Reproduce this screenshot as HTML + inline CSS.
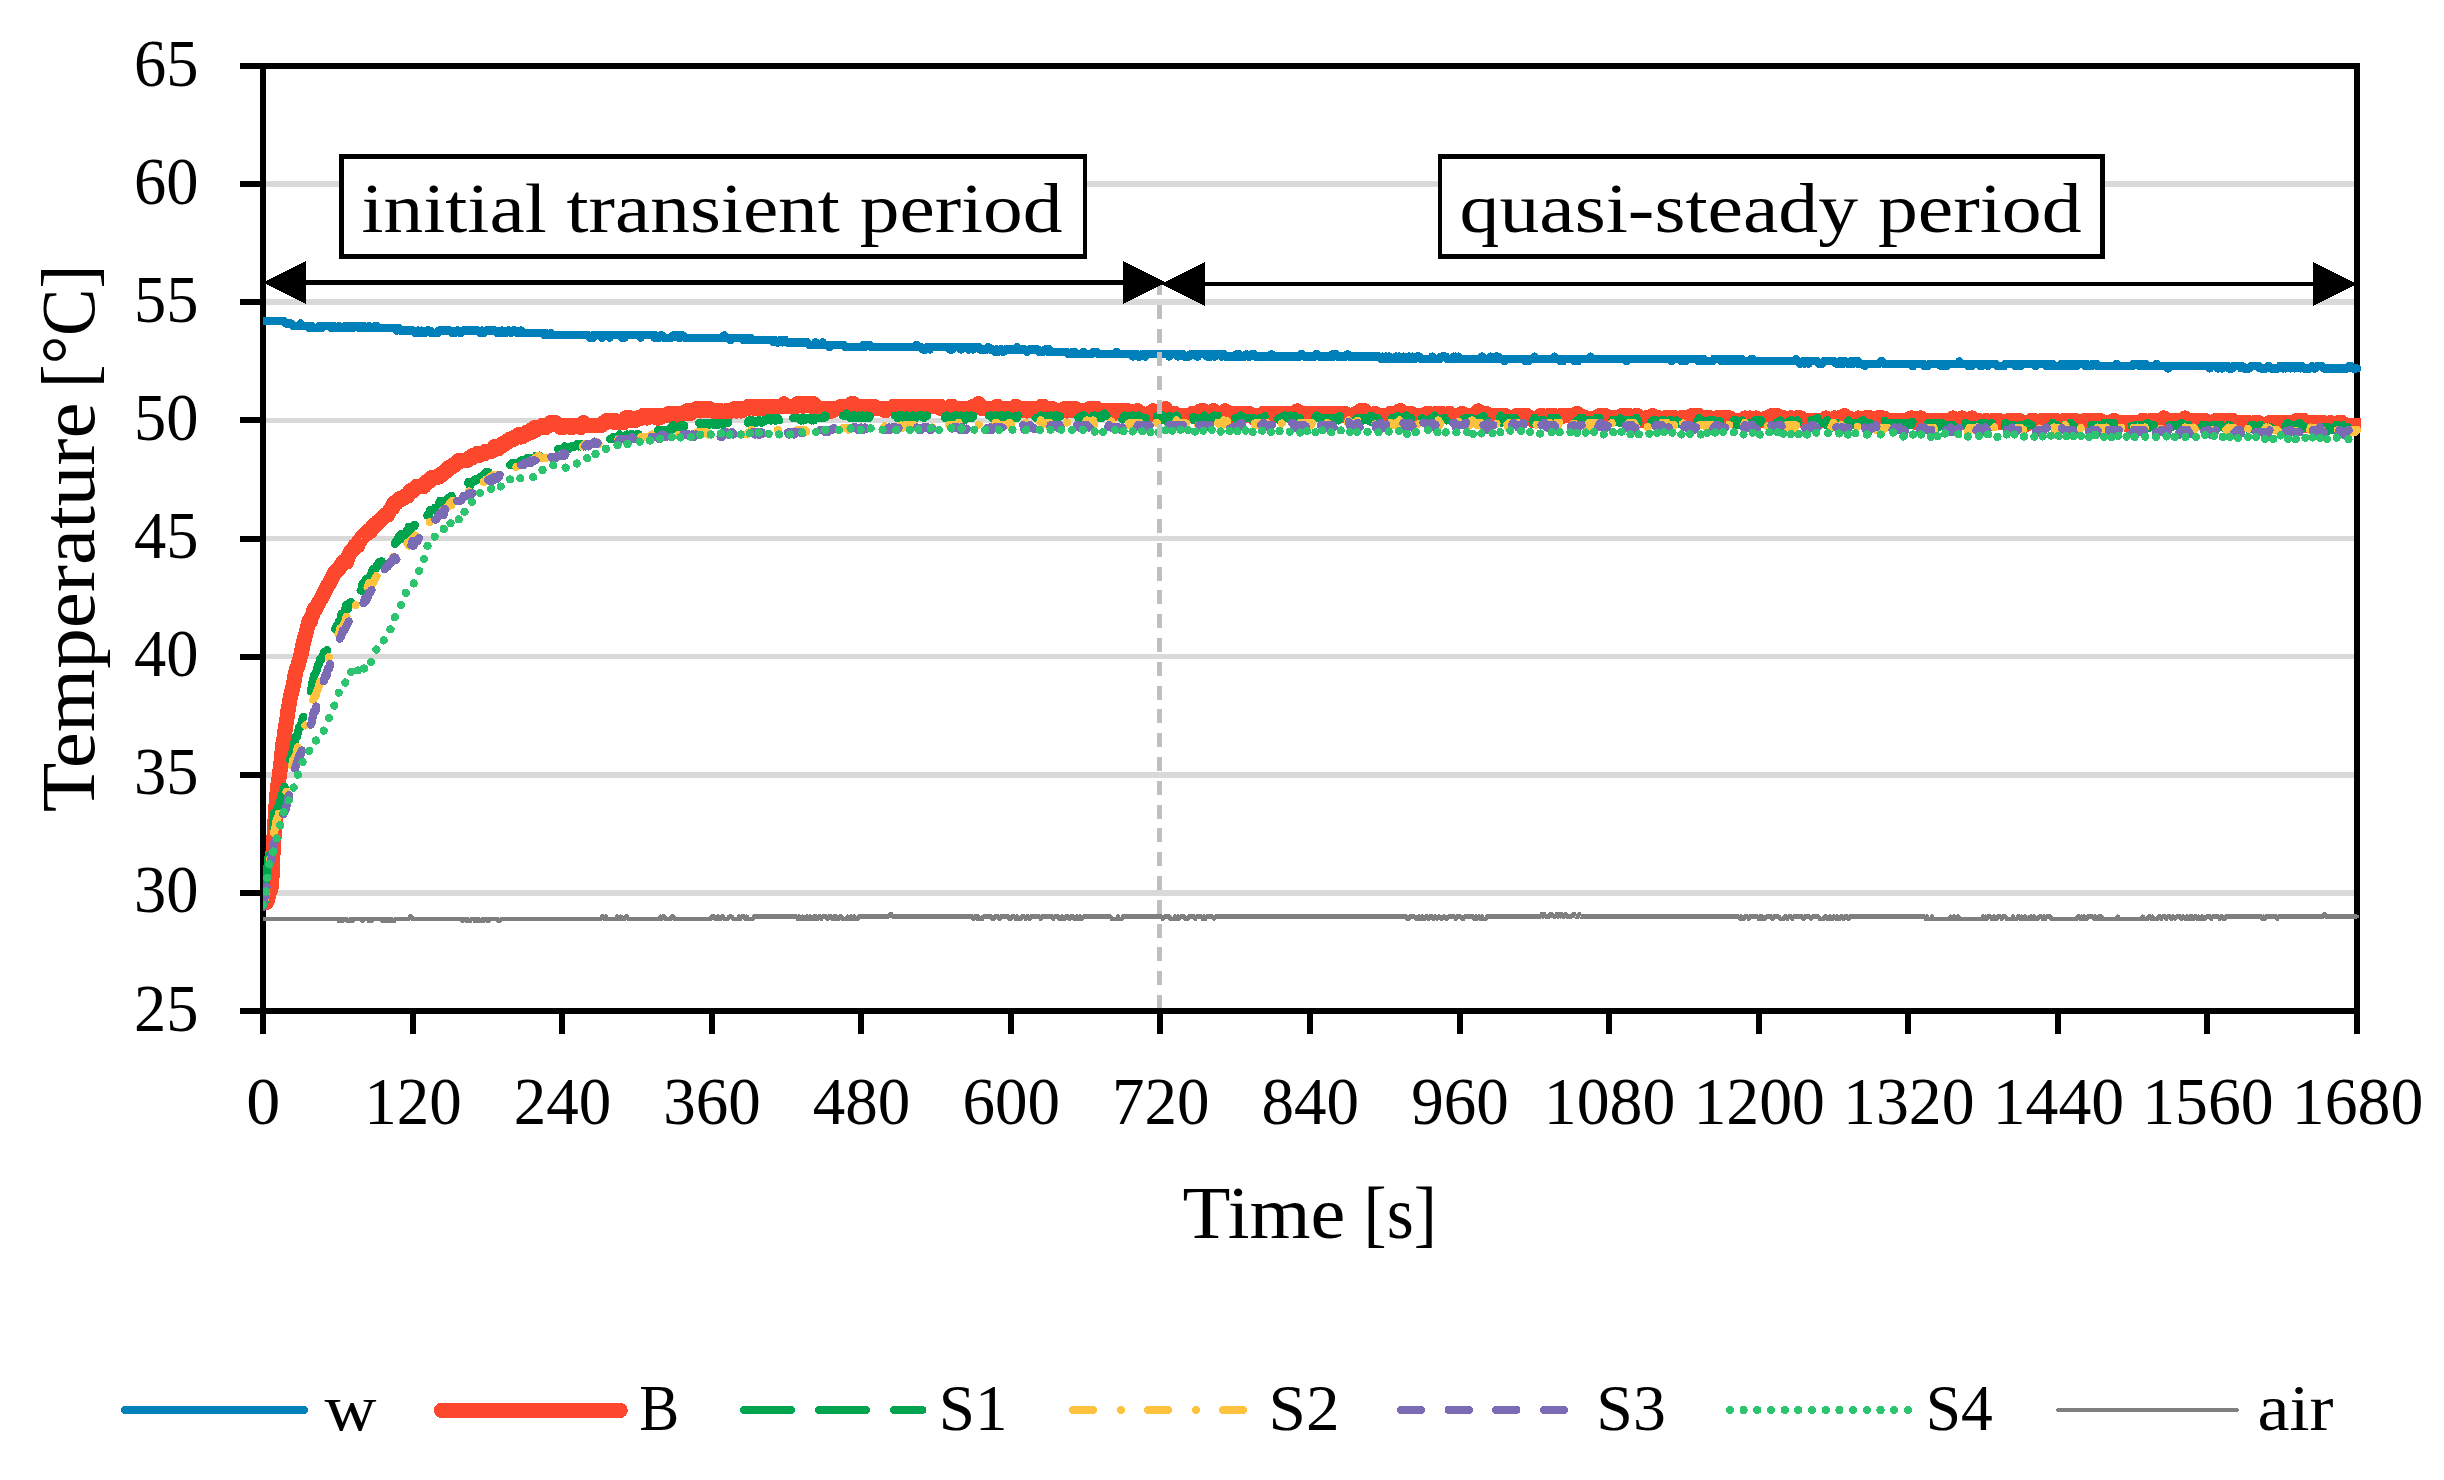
<!DOCTYPE html>
<html lang="en">
<head>
<meta charset="utf-8">
<title>Temperature vs time</title>
<style>html,body{margin:0;padding:0;background:#fff}body{width:2444px;height:1480px}svg{display:block}</style>
</head>
<body>
<svg width="2444" height="1480" viewBox="0 0 2444 1480" font-family="'Liberation Serif', 'DejaVu Serif', serif" fill="#000" shape-rendering="crispEdges">
<rect width="2444" height="1480" fill="#fff"/>
<g stroke="#d9d9d9" stroke-width="5.6">
<line x1="263.0" y1="892.88" x2="2357.0" y2="892.88"/>
<line x1="263.0" y1="774.75" x2="2357.0" y2="774.75"/>
<line x1="263.0" y1="656.62" x2="2357.0" y2="656.62"/>
<line x1="263.0" y1="538.50" x2="2357.0" y2="538.50"/>
<line x1="263.0" y1="420.38" x2="2357.0" y2="420.38"/>
<line x1="263.0" y1="302.25" x2="2357.0" y2="302.25"/>
<line x1="263.0" y1="184.12" x2="2357.0" y2="184.12"/>
</g>
<g stroke="#000" stroke-width="6" fill="none">
<rect x="263.0" y="66.0" width="2094.0" height="945.0"/>
<line x1="240" y1="1011.00" x2="263.0" y2="1011.00"/>
<line x1="240" y1="892.88" x2="263.0" y2="892.88"/>
<line x1="240" y1="774.75" x2="263.0" y2="774.75"/>
<line x1="240" y1="656.62" x2="263.0" y2="656.62"/>
<line x1="240" y1="538.50" x2="263.0" y2="538.50"/>
<line x1="240" y1="420.38" x2="263.0" y2="420.38"/>
<line x1="240" y1="302.25" x2="263.0" y2="302.25"/>
<line x1="240" y1="184.12" x2="263.0" y2="184.12"/>
<line x1="240" y1="66.00" x2="263.0" y2="66.00"/>
<line x1="263.00" y1="1011.0" x2="263.00" y2="1034"/>
<line x1="412.57" y1="1011.0" x2="412.57" y2="1034"/>
<line x1="562.14" y1="1011.0" x2="562.14" y2="1034"/>
<line x1="711.71" y1="1011.0" x2="711.71" y2="1034"/>
<line x1="861.29" y1="1011.0" x2="861.29" y2="1034"/>
<line x1="1010.86" y1="1011.0" x2="1010.86" y2="1034"/>
<line x1="1160.43" y1="1011.0" x2="1160.43" y2="1034"/>
<line x1="1310.00" y1="1011.0" x2="1310.00" y2="1034"/>
<line x1="1459.57" y1="1011.0" x2="1459.57" y2="1034"/>
<line x1="1609.14" y1="1011.0" x2="1609.14" y2="1034"/>
<line x1="1758.71" y1="1011.0" x2="1758.71" y2="1034"/>
<line x1="1908.29" y1="1011.0" x2="1908.29" y2="1034"/>
<line x1="2057.86" y1="1011.0" x2="2057.86" y2="1034"/>
<line x1="2207.43" y1="1011.0" x2="2207.43" y2="1034"/>
<line x1="2357.00" y1="1011.0" x2="2357.00" y2="1034"/>
</g>
<clipPath id="pc"><rect x="263" y="60" width="2098" height="960"/></clipPath>
<g fill="none" stroke-linejoin="round" stroke-linecap="round" clip-path="url(#pc)">
<path stroke="#0080bb" stroke-width="8.3" d="M263.0 321.1L264.2 321.1L265.5 321.1L266.7 321.1L268.0 321.1L269.2 321.1L270.5 321.1L271.7 321.1L273.0 321.1L274.2 321.1L275.5 321.1L276.7 321.1L278.0 321.1L279.2 321.1L280.4 321.1L281.7 321.1L282.9 321.1L284.2 321.1L285.4 323.5L286.7 323.5L287.9 323.5L289.2 323.5L290.4 323.5L291.7 323.5L292.9 325.9L294.2 325.9L295.4 325.9L296.7 325.9L297.9 325.9L299.1 325.9L300.4 323.5L301.6 325.9L302.9 325.9L304.1 325.9L305.4 325.9L306.6 325.9L307.9 325.9L309.1 328.2L310.4 325.9L311.6 325.9L312.9 328.2L314.1 328.2L315.4 328.2L316.6 328.2L317.8 328.2L319.1 325.9L320.3 325.9L321.6 328.2L322.8 325.9L324.1 325.9L325.3 325.9L326.6 325.9L327.8 325.9L329.1 325.9L330.3 325.9L331.6 328.2L332.8 325.9L334.0 325.9L335.3 328.2L336.5 328.2L337.8 328.2L339.0 325.9L340.3 328.2L341.5 328.2L342.8 328.2L344.0 328.2L345.3 325.9L346.5 325.9L347.8 328.2L349.0 328.2L350.2 325.9L351.5 325.9L352.7 328.2L354.0 325.9L355.2 325.9L356.5 325.9L357.7 325.9L359.0 328.2L360.2 328.2L361.5 328.2L362.7 325.9L364.0 325.9L365.2 328.2L366.5 328.2L367.7 328.2L368.9 325.9L370.2 328.2L371.4 328.2L372.7 328.2L373.9 328.2L375.2 325.9L376.4 325.9L377.7 328.2L378.9 328.2L380.2 328.2L381.4 328.2L382.7 328.2L383.9 328.2L385.1 328.2L386.4 328.2L387.6 328.2L388.9 328.2L390.1 328.2L391.4 328.2L392.6 328.2L393.9 328.2L395.1 328.2L396.4 330.6L397.6 328.2L398.9 328.2L400.1 330.6L401.4 330.6L402.6 330.6L403.8 330.6L405.1 330.6L406.3 330.6L407.6 330.6L408.8 330.6L410.1 330.6L411.3 330.6L412.6 330.6L413.8 330.6L415.1 333.0L416.3 333.0L417.6 330.6L418.8 330.6L420.1 333.0L421.3 330.6L422.5 333.0L423.8 333.0L425.0 333.0L426.3 330.6L427.5 330.6L428.8 330.6L430.0 330.6L431.3 333.0L432.5 333.0L433.8 333.0L435.0 333.0L436.3 333.0L437.5 333.0L438.7 330.6L440.0 330.6L441.2 330.6L442.5 330.6L443.7 330.6L445.0 330.6L446.2 330.6L447.5 330.6L448.7 330.6L450.0 330.6L451.2 330.6L452.5 333.0L453.7 333.0L454.9 333.0L456.2 330.6L457.4 330.6L458.7 330.6L459.9 333.0L461.2 333.0L462.4 330.6L463.7 330.6L464.9 330.6L466.2 330.6L467.4 330.6L468.7 330.6L469.9 330.6L471.2 330.6L472.4 330.6L473.6 330.6L474.9 330.6L476.1 330.6L477.4 330.6L478.6 330.6L479.9 333.0L481.1 330.6L482.4 330.6L483.6 333.0L484.9 330.6L486.1 330.6L487.4 330.6L488.6 330.6L489.9 330.6L491.1 330.6L492.3 330.6L493.6 330.6L494.8 330.6L496.1 330.6L497.3 333.0L498.6 333.0L499.8 333.0L501.1 330.6L502.3 330.6L503.6 333.0L504.8 333.0L506.1 333.0L507.3 330.6L508.5 330.6L509.8 330.6L511.0 333.0L512.3 330.6L513.5 330.6L514.8 330.6L516.0 330.6L517.3 333.0L518.5 333.0L519.8 333.0L521.0 330.6L522.3 333.0L523.5 333.0L524.8 333.0L526.0 333.0L527.2 333.0L528.5 333.0L529.7 333.0L531.0 333.0L532.2 333.0L533.5 333.0L534.7 333.0L536.0 333.0L537.2 333.0L538.5 333.0L539.7 333.0L541.0 333.0L542.2 333.0L543.4 333.0L544.7 335.3L545.9 333.0L547.2 335.3L548.4 335.3L549.7 335.3L550.9 333.0L552.2 335.3L553.4 335.3L554.7 335.3L555.9 335.3L557.2 335.3L558.4 335.3L559.6 335.3L560.9 335.3L562.1 335.3L563.4 335.3L564.6 335.3L565.9 335.3L567.1 335.3L568.4 335.3L569.6 335.3L570.9 335.3L572.1 335.3L573.4 335.3L574.6 335.3L575.9 335.3L577.1 335.3L578.3 335.3L579.6 335.3L580.8 335.3L582.1 335.3L583.3 335.3L584.6 335.3L585.8 335.3L587.1 335.3L588.3 335.3L589.6 337.7L590.8 337.7L592.1 335.3L593.3 337.7L594.5 335.3L595.8 335.3L597.0 335.3L598.3 335.3L599.5 335.3L600.8 335.3L602.0 337.7L603.3 335.3L604.5 335.3L605.8 335.3L607.0 335.3L608.3 335.3L609.5 337.7L610.8 335.3L612.0 335.3L613.2 335.3L614.5 335.3L615.7 335.3L617.0 335.3L618.2 335.3L619.5 335.3L620.7 335.3L622.0 337.7L623.2 335.3L624.5 337.7L625.7 335.3L627.0 335.3L628.2 335.3L629.5 335.3L630.7 335.3L631.9 335.3L633.2 335.3L634.4 335.3L635.7 335.3L636.9 335.3L638.2 335.3L639.4 335.3L640.7 337.7L641.9 335.3L643.2 335.3L644.4 335.3L645.7 335.3L646.9 335.3L648.1 335.3L649.4 335.3L650.6 335.3L651.9 335.3L653.1 335.3L654.4 337.7L655.6 335.3L656.9 337.7L658.1 337.7L659.4 337.7L660.6 335.3L661.9 335.3L663.1 337.7L664.4 337.7L665.6 337.7L666.8 337.7L668.1 337.7L669.3 337.7L670.6 337.7L671.8 337.7L673.1 335.3L674.3 335.3L675.6 335.3L676.8 335.3L678.1 337.7L679.3 335.3L680.6 337.7L681.8 335.3L683.0 335.3L684.3 337.7L685.5 337.7L686.8 337.7L688.0 337.7L689.3 337.7L690.5 337.7L691.8 337.7L693.0 337.7L694.3 337.7L695.5 337.7L696.8 337.7L698.0 337.7L699.2 337.7L700.5 337.7L701.7 337.7L703.0 337.7L704.2 337.7L705.5 337.7L706.7 337.7L708.0 337.7L709.2 337.7L710.5 337.7L711.7 337.7L713.0 337.7L714.2 337.7L715.5 337.7L716.7 337.7L717.9 337.7L719.2 337.7L720.4 337.7L721.7 337.7L722.9 337.7L724.2 335.3L725.4 337.7L726.7 337.7L727.9 337.7L729.2 337.7L730.4 340.0L731.7 337.7L732.9 337.7L734.1 337.7L735.4 337.7L736.6 337.7L737.9 337.7L739.1 337.7L740.4 337.7L741.6 337.7L742.9 340.0L744.1 340.0L745.4 337.7L746.6 337.7L747.9 340.0L749.1 337.7L750.4 337.7L751.6 340.0L752.8 340.0L754.1 340.0L755.3 340.0L756.6 340.0L757.8 340.0L759.1 340.0L760.3 340.0L761.6 340.0L762.8 340.0L764.1 340.0L765.3 340.0L766.6 340.0L767.8 340.0L769.0 340.0L770.3 340.0L771.5 340.0L772.8 340.0L774.0 342.4L775.3 340.0L776.5 342.4L777.8 342.4L779.0 342.4L780.3 340.0L781.5 340.0L782.8 342.4L784.0 340.0L785.3 340.0L786.5 342.4L787.7 342.4L789.0 342.4L790.2 342.4L791.5 342.4L792.7 342.4L794.0 342.4L795.2 342.4L796.5 342.4L797.7 342.4L799.0 342.4L800.2 342.4L801.5 342.4L802.7 342.4L804.0 342.4L805.2 342.4L806.4 342.4L807.7 342.4L808.9 344.8L810.2 344.8L811.4 344.8L812.7 344.8L813.9 344.8L815.2 342.4L816.4 342.4L817.7 344.8L818.9 344.8L820.2 344.8L821.4 344.8L822.6 342.4L823.9 344.8L825.1 344.8L826.4 344.8L827.6 344.8L828.9 347.1L830.1 347.1L831.4 344.8L832.6 344.8L833.9 344.8L835.1 344.8L836.4 344.8L837.6 344.8L838.9 344.8L840.1 344.8L841.3 344.8L842.6 344.8L843.8 344.8L845.1 347.1L846.3 347.1L847.6 347.1L848.8 347.1L850.1 347.1L851.3 347.1L852.6 347.1L853.8 347.1L855.1 347.1L856.3 347.1L857.5 347.1L858.8 347.1L860.0 347.1L861.3 347.1L862.5 347.1L863.8 344.8L865.0 347.1L866.3 344.8L867.5 344.8L868.8 344.8L870.0 344.8L871.3 347.1L872.5 347.1L873.8 347.1L875.0 347.1L876.2 347.1L877.5 347.1L878.7 347.1L880.0 347.1L881.2 347.1L882.5 347.1L883.7 347.1L885.0 347.1L886.2 347.1L887.5 347.1L888.7 347.1L890.0 347.1L891.2 347.1L892.4 347.1L893.7 347.1L894.9 347.1L896.2 347.1L897.4 347.1L898.7 347.1L899.9 347.1L901.2 347.1L902.4 347.1L903.7 347.1L904.9 347.1L906.2 347.1L907.4 347.1L908.6 347.1L909.9 347.1L911.1 347.1L912.4 347.1L913.6 347.1L914.9 347.1L916.1 344.8L917.4 347.1L918.6 347.1L919.9 347.1L921.1 347.1L922.4 349.5L923.6 349.5L924.9 349.5L926.1 349.5L927.3 347.1L928.6 347.1L929.8 349.5L931.1 347.1L932.3 347.1L933.6 347.1L934.8 347.1L936.1 347.1L937.3 347.1L938.6 347.1L939.8 347.1L941.1 347.1L942.3 347.1L943.5 347.1L944.8 347.1L946.0 347.1L947.3 347.1L948.5 347.1L949.8 349.5L951.0 349.5L952.3 349.5L953.5 347.1L954.8 347.1L956.0 347.1L957.3 347.1L958.5 347.1L959.8 347.1L961.0 349.5L962.2 347.1L963.5 347.1L964.7 347.1L966.0 347.1L967.2 347.1L968.5 349.5L969.7 347.1L971.0 347.1L972.2 349.5L973.5 349.5L974.7 347.1L976.0 347.1L977.2 347.1L978.5 347.1L979.7 349.5L980.9 349.5L982.2 349.5L983.4 349.5L984.7 349.5L985.9 349.5L987.2 349.5L988.4 347.1L989.7 349.5L990.9 349.5L992.2 349.5L993.4 349.5L994.7 351.9L995.9 349.5L997.1 349.5L998.4 351.9L999.6 349.5L1000.9 349.5L1002.1 349.5L1003.4 351.9L1004.6 349.5L1005.9 349.5L1007.1 349.5L1008.4 349.5L1009.6 349.5L1010.9 349.5L1012.1 349.5L1013.4 349.5L1014.6 349.5L1015.8 349.5L1017.1 347.1L1018.3 349.5L1019.6 349.5L1020.8 349.5L1022.1 349.5L1023.3 349.5L1024.6 349.5L1025.8 349.5L1027.1 351.9L1028.3 349.5L1029.6 349.5L1030.8 349.5L1032.0 349.5L1033.3 349.5L1034.5 349.5L1035.8 349.5L1037.0 349.5L1038.3 349.5L1039.5 351.9L1040.8 351.9L1042.0 351.9L1043.3 351.9L1044.5 349.5L1045.8 349.5L1047.0 349.5L1048.2 351.9L1049.5 349.5L1050.7 351.9L1052.0 351.9L1053.2 351.9L1054.5 351.9L1055.7 351.9L1057.0 351.9L1058.2 351.9L1059.5 351.9L1060.7 351.9L1062.0 351.9L1063.2 351.9L1064.5 351.9L1065.7 351.9L1066.9 351.9L1068.2 354.2L1069.4 354.2L1070.7 354.2L1071.9 351.9L1073.2 351.9L1074.4 351.9L1075.7 354.2L1076.9 354.2L1078.2 354.2L1079.4 354.2L1080.7 354.2L1081.9 354.2L1083.2 351.9L1084.4 354.2L1085.6 354.2L1086.9 354.2L1088.1 354.2L1089.4 354.2L1090.6 354.2L1091.9 354.2L1093.1 351.9L1094.4 351.9L1095.6 351.9L1096.9 351.9L1098.1 354.2L1099.4 354.2L1100.6 354.2L1101.8 354.2L1103.1 354.2L1104.3 354.2L1105.6 354.2L1106.8 354.2L1108.1 354.2L1109.3 354.2L1110.6 354.2L1111.8 354.2L1113.1 354.2L1114.3 354.2L1115.6 354.2L1116.8 351.9L1118.0 354.2L1119.3 354.2L1120.5 354.2L1121.8 354.2L1123.0 354.2L1124.3 354.2L1125.5 354.2L1126.8 354.2L1128.0 354.2L1129.3 354.2L1130.5 354.2L1131.8 354.2L1133.0 356.6L1134.3 354.2L1135.5 354.2L1136.7 354.2L1138.0 356.6L1139.2 356.6L1140.5 356.6L1141.7 354.2L1143.0 354.2L1144.2 354.2L1145.5 356.6L1146.7 354.2L1148.0 354.2L1149.2 354.2L1150.5 354.2L1151.7 354.2L1153.0 354.2L1154.2 354.2L1155.4 354.2L1156.7 354.2L1157.9 354.2L1159.2 354.2L1160.4 354.2L1161.7 354.2L1162.9 354.2L1164.2 354.2L1165.4 354.2L1166.7 354.2L1167.9 354.2L1169.2 356.6L1170.4 354.2L1171.6 354.2L1172.9 354.2L1174.1 354.2L1175.4 354.2L1176.6 354.2L1177.9 356.6L1179.1 354.2L1180.4 354.2L1181.6 354.2L1182.9 354.2L1184.1 356.6L1185.4 356.6L1186.6 356.6L1187.8 356.6L1189.1 356.6L1190.3 354.2L1191.6 354.2L1192.8 354.2L1194.1 354.2L1195.3 354.2L1196.6 356.6L1197.8 356.6L1199.1 354.2L1200.3 354.2L1201.6 354.2L1202.8 354.2L1204.1 354.2L1205.3 354.2L1206.5 356.6L1207.8 356.6L1209.0 354.2L1210.3 356.6L1211.5 356.6L1212.8 354.2L1214.0 356.6L1215.3 356.6L1216.5 354.2L1217.8 354.2L1219.0 354.2L1220.3 354.2L1221.5 356.6L1222.8 354.2L1224.0 354.2L1225.2 356.6L1226.5 356.6L1227.7 356.6L1229.0 356.6L1230.2 356.6L1231.5 356.6L1232.7 356.6L1234.0 356.6L1235.2 356.6L1236.5 354.2L1237.7 356.6L1239.0 354.2L1240.2 356.6L1241.4 356.6L1242.7 356.6L1243.9 356.6L1245.2 356.6L1246.4 354.2L1247.7 356.6L1248.9 356.6L1250.2 356.6L1251.4 354.2L1252.7 354.2L1253.9 354.2L1255.2 356.6L1256.4 356.6L1257.7 356.6L1258.9 356.6L1260.1 356.6L1261.4 356.6L1262.6 356.6L1263.9 356.6L1265.1 356.6L1266.4 356.6L1267.6 356.6L1268.9 356.6L1270.1 356.6L1271.4 354.2L1272.6 356.6L1273.9 356.6L1275.1 356.6L1276.3 356.6L1277.6 356.6L1278.8 356.6L1280.1 356.6L1281.3 356.6L1282.6 356.6L1283.8 356.6L1285.1 356.6L1286.3 356.6L1287.6 356.6L1288.8 356.6L1290.1 356.6L1291.3 356.6L1292.5 356.6L1293.8 356.6L1295.0 356.6L1296.3 356.6L1297.5 356.6L1298.8 356.6L1300.0 356.6L1301.3 354.2L1302.5 354.2L1303.8 356.6L1305.0 356.6L1306.3 356.6L1307.5 356.6L1308.8 356.6L1310.0 356.6L1311.2 356.6L1312.5 356.6L1313.7 356.6L1315.0 356.6L1316.2 354.2L1317.5 354.2L1318.7 356.6L1320.0 356.6L1321.2 356.6L1322.5 356.6L1323.7 356.6L1325.0 356.6L1326.2 356.6L1327.5 356.6L1328.7 356.6L1329.9 356.6L1331.2 356.6L1332.4 354.2L1333.7 356.6L1334.9 354.2L1336.2 354.2L1337.4 356.6L1338.7 356.6L1339.9 356.6L1341.2 356.6L1342.4 356.6L1343.7 356.6L1344.9 356.6L1346.1 356.6L1347.4 354.2L1348.6 356.6L1349.9 356.6L1351.1 356.6L1352.4 356.6L1353.6 356.6L1354.9 356.6L1356.1 356.6L1357.4 356.6L1358.6 356.6L1359.9 356.6L1361.1 356.6L1362.3 356.6L1363.6 356.6L1364.8 356.6L1366.1 356.6L1367.3 356.6L1368.6 356.6L1369.8 356.6L1371.1 356.6L1372.3 356.6L1373.6 356.6L1374.8 356.6L1376.1 356.6L1377.3 356.6L1378.6 356.6L1379.8 356.6L1381.0 358.9L1382.3 356.6L1383.5 358.9L1384.8 358.9L1386.0 356.6L1387.3 358.9L1388.5 356.6L1389.8 356.6L1391.0 358.9L1392.3 358.9L1393.5 358.9L1394.8 358.9L1396.0 356.6L1397.2 358.9L1398.5 356.6L1399.7 356.6L1401.0 358.9L1402.2 358.9L1403.5 356.6L1404.7 358.9L1406.0 358.9L1407.2 358.9L1408.5 356.6L1409.7 356.6L1411.0 358.9L1412.2 356.6L1413.5 358.9L1414.7 358.9L1415.9 356.6L1417.2 356.6L1418.4 356.6L1419.7 356.6L1420.9 358.9L1422.2 358.9L1423.4 358.9L1424.7 358.9L1425.9 358.9L1427.2 358.9L1428.4 358.9L1429.7 358.9L1430.9 358.9L1432.2 356.6L1433.4 358.9L1434.6 358.9L1435.9 358.9L1437.1 358.9L1438.4 358.9L1439.6 358.9L1440.9 356.6L1442.1 356.6L1443.4 356.6L1444.6 356.6L1445.9 356.6L1447.1 358.9L1448.4 358.9L1449.6 358.9L1450.8 358.9L1452.1 358.9L1453.3 356.6L1454.6 358.9L1455.8 356.6L1457.1 358.9L1458.3 356.6L1459.6 358.9L1460.8 358.9L1462.1 358.9L1463.3 358.9L1464.6 358.9L1465.8 358.9L1467.0 358.9L1468.3 358.9L1469.5 358.9L1470.8 358.9L1472.0 358.9L1473.3 358.9L1474.5 358.9L1475.8 358.9L1477.0 358.9L1478.3 358.9L1479.5 358.9L1480.8 358.9L1482.0 356.6L1483.3 358.9L1484.5 358.9L1485.7 358.9L1487.0 358.9L1488.2 358.9L1489.5 358.9L1490.7 356.6L1492.0 358.9L1493.2 358.9L1494.5 358.9L1495.7 356.6L1497.0 356.6L1498.2 356.6L1499.5 358.9L1500.7 358.9L1502.0 358.9L1503.2 358.9L1504.4 361.3L1505.7 358.9L1506.9 358.9L1508.2 358.9L1509.4 358.9L1510.7 358.9L1511.9 358.9L1513.2 358.9L1514.4 358.9L1515.7 358.9L1516.9 358.9L1518.2 358.9L1519.4 358.9L1520.6 358.9L1521.9 358.9L1523.1 358.9L1524.4 358.9L1525.6 361.3L1526.9 361.3L1528.1 361.3L1529.4 358.9L1530.6 358.9L1531.9 358.9L1533.1 358.9L1534.4 356.6L1535.6 358.9L1536.8 358.9L1538.1 358.9L1539.3 358.9L1540.6 358.9L1541.8 358.9L1543.1 358.9L1544.3 358.9L1545.6 358.9L1546.8 358.9L1548.1 358.9L1549.3 358.9L1550.6 358.9L1551.8 358.9L1553.1 358.9L1554.3 356.6L1555.5 358.9L1556.8 358.9L1558.0 358.9L1559.3 358.9L1560.5 361.3L1561.8 358.9L1563.0 361.3L1564.3 358.9L1565.5 358.9L1566.8 358.9L1568.0 358.9L1569.3 358.9L1570.5 358.9L1571.8 358.9L1573.0 358.9L1574.2 361.3L1575.5 358.9L1576.7 358.9L1578.0 361.3L1579.2 358.9L1580.5 358.9L1581.7 358.9L1583.0 358.9L1584.2 358.9L1585.5 358.9L1586.7 358.9L1588.0 358.9L1589.2 358.9L1590.4 356.6L1591.7 358.9L1592.9 358.9L1594.2 358.9L1595.4 358.9L1596.7 358.9L1597.9 358.9L1599.2 358.9L1600.4 358.9L1601.7 358.9L1602.9 358.9L1604.2 358.9L1605.4 358.9L1606.7 358.9L1607.9 358.9L1609.1 358.9L1610.4 358.9L1611.6 358.9L1612.9 358.9L1614.1 358.9L1615.4 358.9L1616.6 358.9L1617.9 358.9L1619.1 358.9L1620.4 358.9L1621.6 358.9L1622.9 358.9L1624.1 358.9L1625.3 358.9L1626.6 361.3L1627.8 358.9L1629.1 358.9L1630.3 358.9L1631.6 358.9L1632.8 358.9L1634.1 358.9L1635.3 358.9L1636.6 358.9L1637.8 358.9L1639.1 358.9L1640.3 358.9L1641.5 358.9L1642.8 358.9L1644.0 358.9L1645.3 358.9L1646.5 358.9L1647.8 358.9L1649.0 358.9L1650.3 358.9L1651.5 358.9L1652.8 358.9L1654.0 358.9L1655.3 358.9L1656.5 358.9L1657.8 358.9L1659.0 358.9L1660.2 358.9L1661.5 358.9L1662.7 358.9L1664.0 358.9L1665.2 358.9L1666.5 358.9L1667.7 358.9L1669.0 358.9L1670.2 358.9L1671.5 361.3L1672.7 358.9L1674.0 358.9L1675.2 358.9L1676.5 358.9L1677.7 358.9L1678.9 358.9L1680.2 358.9L1681.4 361.3L1682.7 358.9L1683.9 358.9L1685.2 361.3L1686.4 358.9L1687.7 358.9L1688.9 358.9L1690.2 358.9L1691.4 358.9L1692.7 358.9L1693.9 358.9L1695.1 358.9L1696.4 358.9L1697.6 358.9L1698.9 361.3L1700.1 361.3L1701.4 358.9L1702.6 361.3L1703.9 358.9L1705.1 361.3L1706.4 361.3L1707.6 361.3L1708.9 361.3L1710.1 361.3L1711.3 361.3L1712.6 361.3L1713.8 358.9L1715.1 358.9L1716.3 358.9L1717.6 358.9L1718.8 358.9L1720.1 358.9L1721.3 361.3L1722.6 358.9L1723.8 361.3L1725.1 361.3L1726.3 358.9L1727.6 358.9L1728.8 361.3L1730.0 361.3L1731.3 361.3L1732.5 358.9L1733.8 358.9L1735.0 361.3L1736.3 358.9L1737.5 361.3L1738.8 361.3L1740.0 361.3L1741.3 358.9L1742.5 361.3L1743.8 361.3L1745.0 361.3L1746.2 361.3L1747.5 361.3L1748.7 361.3L1750.0 361.3L1751.2 358.9L1752.5 358.9L1753.7 361.3L1755.0 361.3L1756.2 361.3L1757.5 361.3L1758.7 361.3L1760.0 361.3L1761.2 361.3L1762.5 361.3L1763.7 361.3L1764.9 361.3L1766.2 361.3L1767.4 361.3L1768.7 361.3L1769.9 361.3L1771.2 361.3L1772.4 361.3L1773.7 361.3L1774.9 361.3L1776.2 361.3L1777.4 361.3L1778.7 361.3L1779.9 361.3L1781.2 361.3L1782.4 361.3L1783.6 361.3L1784.9 361.3L1786.1 361.3L1787.4 361.3L1788.6 361.3L1789.9 361.3L1791.1 361.3L1792.4 361.3L1793.6 361.3L1794.9 361.3L1796.1 358.9L1797.4 361.3L1798.6 361.3L1799.8 363.7L1801.1 363.7L1802.3 361.3L1803.6 361.3L1804.8 363.7L1806.1 361.3L1807.3 361.3L1808.6 363.7L1809.8 361.3L1811.1 361.3L1812.3 361.3L1813.6 361.3L1814.8 361.3L1816.0 361.3L1817.3 361.3L1818.5 363.7L1819.8 363.7L1821.0 363.7L1822.3 363.7L1823.5 361.3L1824.8 361.3L1826.0 361.3L1827.3 361.3L1828.5 361.3L1829.8 361.3L1831.0 361.3L1832.3 361.3L1833.5 361.3L1834.7 361.3L1836.0 363.7L1837.2 363.7L1838.5 363.7L1839.7 361.3L1841.0 363.7L1842.2 361.3L1843.5 363.7L1844.7 361.3L1846.0 361.3L1847.2 363.7L1848.5 363.7L1849.7 363.7L1851.0 361.3L1852.2 363.7L1853.4 363.7L1854.7 361.3L1855.9 361.3L1857.2 363.7L1858.4 361.3L1859.7 363.7L1860.9 363.7L1862.2 363.7L1863.4 363.7L1864.7 366.0L1865.9 363.7L1867.2 363.7L1868.4 363.7L1869.6 363.7L1870.9 363.7L1872.1 363.7L1873.4 363.7L1874.6 363.7L1875.9 363.7L1877.1 363.7L1878.4 363.7L1879.6 363.7L1880.9 361.3L1882.1 361.3L1883.4 363.7L1884.6 363.7L1885.8 363.7L1887.1 363.7L1888.3 363.7L1889.6 363.7L1890.8 363.7L1892.1 363.7L1893.3 363.7L1894.6 363.7L1895.8 363.7L1897.1 363.7L1898.3 363.7L1899.6 363.7L1900.8 363.7L1902.1 363.7L1903.3 363.7L1904.5 363.7L1905.8 363.7L1907.0 363.7L1908.3 363.7L1909.5 363.7L1910.8 363.7L1912.0 366.0L1913.3 366.0L1914.5 363.7L1915.8 363.7L1917.0 363.7L1918.3 363.7L1919.5 363.7L1920.8 363.7L1922.0 363.7L1923.2 363.7L1924.5 366.0L1925.7 366.0L1927.0 366.0L1928.2 366.0L1929.5 363.7L1930.7 363.7L1932.0 363.7L1933.2 363.7L1934.5 363.7L1935.7 363.7L1937.0 363.7L1938.2 363.7L1939.4 363.7L1940.7 366.0L1941.9 363.7L1943.2 363.7L1944.4 363.7L1945.7 366.0L1946.9 366.0L1948.2 363.7L1949.4 363.7L1950.7 363.7L1951.9 363.7L1953.2 363.7L1954.4 363.7L1955.7 363.7L1956.9 363.7L1958.1 363.7L1959.4 361.3L1960.6 363.7L1961.9 363.7L1963.1 363.7L1964.4 363.7L1965.6 363.7L1966.9 363.7L1968.1 366.0L1969.4 363.7L1970.6 363.7L1971.9 366.0L1973.1 363.7L1974.3 363.7L1975.6 363.7L1976.8 363.7L1978.1 363.7L1979.3 363.7L1980.6 366.0L1981.8 366.0L1983.1 363.7L1984.3 363.7L1985.6 363.7L1986.8 363.7L1988.1 366.0L1989.3 363.7L1990.5 363.7L1991.8 363.7L1993.0 363.7L1994.3 363.7L1995.5 363.7L1996.8 366.0L1998.0 366.0L1999.3 366.0L2000.5 366.0L2001.8 366.0L2003.0 366.0L2004.3 366.0L2005.5 363.7L2006.8 363.7L2008.0 363.7L2009.2 363.7L2010.5 363.7L2011.7 363.7L2013.0 363.7L2014.2 363.7L2015.5 366.0L2016.7 363.7L2018.0 363.7L2019.2 363.7L2020.5 366.0L2021.7 363.7L2023.0 363.7L2024.2 363.7L2025.5 363.7L2026.7 363.7L2027.9 363.7L2029.2 363.7L2030.4 363.7L2031.7 363.7L2032.9 363.7L2034.2 363.7L2035.4 366.0L2036.7 363.7L2037.9 363.7L2039.2 363.7L2040.4 363.7L2041.7 363.7L2042.9 363.7L2044.1 363.7L2045.4 363.7L2046.6 366.0L2047.9 366.0L2049.1 366.0L2050.4 363.7L2051.6 366.0L2052.9 363.7L2054.1 366.0L2055.4 366.0L2056.6 366.0L2057.9 366.0L2059.1 366.0L2060.3 366.0L2061.6 363.7L2062.8 363.7L2064.1 363.7L2065.3 366.0L2066.6 366.0L2067.8 363.7L2069.1 363.7L2070.3 363.7L2071.6 366.0L2072.8 366.0L2074.1 363.7L2075.3 366.0L2076.6 366.0L2077.8 363.7L2079.0 363.7L2080.3 363.7L2081.5 363.7L2082.8 363.7L2084.0 363.7L2085.3 366.0L2086.5 363.7L2087.8 366.0L2089.0 366.0L2090.3 366.0L2091.5 366.0L2092.8 363.7L2094.0 363.7L2095.2 363.7L2096.5 363.7L2097.7 366.0L2099.0 366.0L2100.2 366.0L2101.5 366.0L2102.7 366.0L2104.0 366.0L2105.2 366.0L2106.5 366.0L2107.7 366.0L2109.0 366.0L2110.2 366.0L2111.5 366.0L2112.7 366.0L2113.9 366.0L2115.2 366.0L2116.4 363.7L2117.7 366.0L2118.9 366.0L2120.2 366.0L2121.4 366.0L2122.7 366.0L2123.9 366.0L2125.2 366.0L2126.4 366.0L2127.7 366.0L2128.9 366.0L2130.2 366.0L2131.4 366.0L2132.6 366.0L2133.9 363.7L2135.1 363.7L2136.4 363.7L2137.6 363.7L2138.9 366.0L2140.1 366.0L2141.4 366.0L2142.6 363.7L2143.9 363.7L2145.1 363.7L2146.4 366.0L2147.6 366.0L2148.8 366.0L2150.1 366.0L2151.3 366.0L2152.6 366.0L2153.8 366.0L2155.1 366.0L2156.3 363.7L2157.6 366.0L2158.8 366.0L2160.1 366.0L2161.3 366.0L2162.6 366.0L2163.8 366.0L2165.1 366.0L2166.3 366.0L2167.5 368.4L2168.8 368.4L2170.0 366.0L2171.3 366.0L2172.5 366.0L2173.8 366.0L2175.0 366.0L2176.3 366.0L2177.5 366.0L2178.8 366.0L2180.0 366.0L2181.3 366.0L2182.5 366.0L2183.7 366.0L2185.0 366.0L2186.2 366.0L2187.5 366.0L2188.7 366.0L2190.0 366.0L2191.2 366.0L2192.5 366.0L2193.7 366.0L2195.0 366.0L2196.2 366.0L2197.5 366.0L2198.7 366.0L2199.9 366.0L2201.2 366.0L2202.4 366.0L2203.7 366.0L2204.9 366.0L2206.2 366.0L2207.4 366.0L2208.7 366.0L2209.9 368.4L2211.2 366.0L2212.4 366.0L2213.7 366.0L2214.9 366.0L2216.2 366.0L2217.4 368.4L2218.6 368.4L2219.9 366.0L2221.1 368.4L2222.4 368.4L2223.6 366.0L2224.9 366.0L2226.1 366.0L2227.4 366.0L2228.6 368.4L2229.9 368.4L2231.1 368.4L2232.4 368.4L2233.6 366.0L2234.8 366.0L2236.1 366.0L2237.3 366.0L2238.6 366.0L2239.8 366.0L2241.1 368.4L2242.3 366.0L2243.6 368.4L2244.8 368.4L2246.1 368.4L2247.3 368.4L2248.6 368.4L2249.8 368.4L2251.1 366.0L2252.3 366.0L2253.5 366.0L2254.8 366.0L2256.0 366.0L2257.3 366.0L2258.5 366.0L2259.8 368.4L2261.0 368.4L2262.3 368.4L2263.5 368.4L2264.8 368.4L2266.0 368.4L2267.3 368.4L2268.5 366.0L2269.8 368.4L2271.0 368.4L2272.2 368.4L2273.5 368.4L2274.7 368.4L2276.0 368.4L2277.2 368.4L2278.5 368.4L2279.7 366.0L2281.0 366.0L2282.2 368.4L2283.5 368.4L2284.7 366.0L2286.0 368.4L2287.2 366.0L2288.4 366.0L2289.7 366.0L2290.9 368.4L2292.2 366.0L2293.4 366.0L2294.7 368.4L2295.9 366.0L2297.2 366.0L2298.4 366.0L2299.7 368.4L2300.9 368.4L2302.2 366.0L2303.4 368.4L2304.7 368.4L2305.9 368.4L2307.1 368.4L2308.4 368.4L2309.6 368.4L2310.9 368.4L2312.1 366.0L2313.4 368.4L2314.6 368.4L2315.9 368.4L2317.1 366.0L2318.4 366.0L2319.6 366.0L2320.9 366.0L2322.1 366.0L2323.3 368.4L2324.6 368.4L2325.8 368.4L2327.1 368.4L2328.3 368.4L2329.6 368.4L2330.8 368.4L2332.1 368.4L2333.3 368.4L2334.6 368.4L2335.8 368.4L2337.1 368.4L2338.3 368.4L2339.6 368.4L2340.8 368.4L2342.0 368.4L2343.3 368.4L2344.5 368.4L2345.8 368.4L2347.0 368.4L2348.3 368.4L2349.5 366.0L2350.8 366.0L2352.0 368.4L2353.3 368.4L2354.5 368.4L2355.8 368.4L2357.0 368.4"/>
<path stroke="#fd482d" stroke-width="15.2" d="M263.0 902.3L264.2 902.3L265.5 902.3L266.7 902.3L268.0 897.6L269.2 892.9L270.5 890.5L271.7 883.4L273.0 852.7L274.2 833.8L275.5 812.6L276.7 796.0L278.0 784.2L279.2 777.1L280.4 767.7L281.7 755.8L282.9 744.0L284.2 737.0L285.4 727.5L286.7 720.4L287.9 711.0L289.2 703.9L290.4 696.8L291.7 692.1L292.9 687.3L294.2 680.2L295.4 673.2L296.7 668.4L297.9 666.1L299.1 661.3L300.4 656.6L301.6 651.9L302.9 644.8L304.1 640.1L305.4 635.4L306.6 630.6L307.9 625.9L309.1 621.2L310.4 621.2L311.6 616.5L312.9 614.1L314.1 609.4L315.4 609.4L316.6 607.0L317.8 604.6L319.1 602.3L320.3 599.9L321.6 597.6L322.8 595.2L324.1 592.8L325.3 590.5L326.6 588.1L327.8 585.8L329.1 583.4L330.3 581.0L331.6 578.7L332.8 576.3L334.0 573.9L335.3 571.6L336.5 571.6L337.8 569.2L339.0 569.2L340.3 566.8L341.5 564.5L342.8 562.1L344.0 562.1L345.3 562.1L346.5 562.1L347.8 557.4L349.0 555.0L350.2 552.7L351.5 550.3L352.7 550.3L354.0 548.0L355.2 545.6L356.5 545.6L357.7 545.6L359.0 540.9L360.2 540.9L361.5 538.5L362.7 536.1L364.0 536.1L365.2 533.8L366.5 533.8L367.7 531.4L368.9 531.4L370.2 531.4L371.4 529.0L372.7 526.7L373.9 526.7L375.2 524.3L376.4 524.3L377.7 522.0L378.9 522.0L380.2 519.6L381.4 519.6L382.7 517.2L383.9 517.2L385.1 514.9L386.4 514.9L387.6 514.9L388.9 512.5L390.1 510.1L391.4 507.8L392.6 507.8L393.9 503.1L395.1 503.1L396.4 503.1L397.6 500.7L398.9 500.7L400.1 498.3L401.4 498.3L402.6 498.3L403.8 498.3L405.1 496.0L406.3 496.0L407.6 496.0L408.8 493.6L410.1 491.2L411.3 491.2L412.6 491.2L413.8 488.9L415.1 488.9L416.3 486.5L417.6 486.5L418.8 486.5L420.1 486.5L421.3 486.5L422.5 486.5L423.8 486.5L425.0 484.2L426.3 481.8L427.5 481.8L428.8 481.8L430.0 479.4L431.3 479.4L432.5 477.1L433.8 477.1L435.0 477.1L436.3 477.1L437.5 477.1L438.7 477.1L440.0 474.7L441.2 474.7L442.5 474.7L443.7 472.3L445.0 472.3L446.2 470.0L447.5 470.0L448.7 467.6L450.0 467.6L451.2 467.6L452.5 465.3L453.7 465.3L454.9 465.3L456.2 462.9L457.4 462.9L458.7 460.5L459.9 460.5L461.2 460.5L462.4 460.5L463.7 460.5L464.9 460.5L466.2 460.5L467.4 460.5L468.7 458.2L469.9 458.2L471.2 458.2L472.4 455.8L473.6 455.8L474.9 455.8L476.1 455.8L477.4 453.4L478.6 455.8L479.9 453.4L481.1 453.4L482.4 453.4L483.6 453.4L484.9 453.4L486.1 451.1L487.4 451.1L488.6 451.1L489.9 451.1L491.1 451.1L492.3 451.1L493.6 448.7L494.8 446.4L496.1 446.4L497.3 446.4L498.6 448.7L499.8 446.4L501.1 446.4L502.3 444.0L503.6 444.0L504.8 444.0L506.1 441.6L507.3 441.6L508.5 441.6L509.8 439.3L511.0 439.3L512.3 439.3L513.5 439.3L514.8 436.9L516.0 436.9L517.3 436.9L518.5 434.5L519.8 436.9L521.0 436.9L522.3 436.9L523.5 434.5L524.8 434.5L526.0 434.5L527.2 432.2L528.5 432.2L529.7 432.2L531.0 429.8L532.2 432.2L533.5 429.8L534.7 427.5L536.0 429.8L537.2 427.5L538.5 427.5L539.7 427.5L541.0 427.5L542.2 427.5L543.4 425.1L544.7 425.1L545.9 427.5L547.2 425.1L548.4 425.1L549.7 425.1L550.9 422.7L552.2 422.7L553.4 422.7L554.7 422.7L555.9 422.7L557.2 425.1L558.4 425.1L559.6 425.1L560.9 427.5L562.1 427.5L563.4 427.5L564.6 425.1L565.9 425.1L567.1 425.1L568.4 425.1L569.6 425.1L570.9 427.5L572.1 427.5L573.4 425.1L574.6 425.1L575.9 425.1L577.1 425.1L578.3 425.1L579.6 425.1L580.8 427.5L582.1 425.1L583.3 422.7L584.6 425.1L585.8 425.1L587.1 425.1L588.3 425.1L589.6 425.1L590.8 425.1L592.1 425.1L593.3 425.1L594.5 425.1L595.8 425.1L597.0 425.1L598.3 425.1L599.5 425.1L600.8 425.1L602.0 425.1L603.3 422.7L604.5 422.7L605.8 422.7L607.0 420.4L608.3 420.4L609.5 420.4L610.8 420.4L612.0 420.4L613.2 420.4L614.5 420.4L615.7 422.7L617.0 422.7L618.2 422.7L619.5 422.7L620.7 422.7L622.0 422.7L623.2 422.7L624.5 420.4L625.7 418.0L627.0 420.4L628.2 418.0L629.5 418.0L630.7 418.0L631.9 420.4L633.2 420.4L634.4 420.4L635.7 420.4L636.9 418.0L638.2 418.0L639.4 418.0L640.7 418.0L641.9 418.0L643.2 415.6L644.4 415.6L645.7 415.6L646.9 418.0L648.1 415.6L649.4 415.6L650.6 415.6L651.9 415.6L653.1 415.6L654.4 415.6L655.6 415.6L656.9 418.0L658.1 418.0L659.4 418.0L660.6 415.6L661.9 415.6L663.1 415.6L664.4 415.6L665.6 415.6L666.8 415.6L668.1 415.6L669.3 413.3L670.6 413.3L671.8 413.3L673.1 413.3L674.3 413.3L675.6 415.6L676.8 415.6L678.1 413.3L679.3 413.3L680.6 413.3L681.8 413.3L683.0 413.3L684.3 413.3L685.5 413.3L686.8 410.9L688.0 410.9L689.3 413.3L690.5 413.3L691.8 410.9L693.0 410.9L694.3 410.9L695.5 410.9L696.8 408.6L698.0 408.6L699.2 408.6L700.5 410.9L701.7 408.6L703.0 410.9L704.2 408.6L705.5 408.6L706.7 408.6L708.0 408.6L709.2 408.6L710.5 410.9L711.7 410.9L713.0 410.9L714.2 410.9L715.5 410.9L716.7 410.9L717.9 410.9L719.2 410.9L720.4 410.9L721.7 410.9L722.9 413.3L724.2 413.3L725.4 410.9L726.7 410.9L727.9 413.3L729.2 410.9L730.4 410.9L731.7 410.9L732.9 410.9L734.1 408.6L735.4 410.9L736.6 410.9L737.9 410.9L739.1 408.6L740.4 410.9L741.6 410.9L742.9 408.6L744.1 408.6L745.4 408.6L746.6 408.6L747.9 408.6L749.1 406.2L750.4 406.2L751.6 406.2L752.8 406.2L754.1 406.2L755.3 408.6L756.6 408.6L757.8 408.6L759.1 408.6L760.3 406.2L761.6 408.6L762.8 406.2L764.1 406.2L765.3 406.2L766.6 406.2L767.8 406.2L769.0 406.2L770.3 408.6L771.5 408.6L772.8 406.2L774.0 408.6L775.3 406.2L776.5 406.2L777.8 406.2L779.0 406.2L780.3 406.2L781.5 406.2L782.8 406.2L784.0 403.8L785.3 406.2L786.5 406.2L787.7 406.2L789.0 406.2L790.2 406.2L791.5 406.2L792.7 406.2L794.0 406.2L795.2 406.2L796.5 406.2L797.7 403.8L799.0 403.8L800.2 403.8L801.5 403.8L802.7 406.2L804.0 403.8L805.2 403.8L806.4 403.8L807.7 403.8L808.9 403.8L810.2 403.8L811.4 406.2L812.7 403.8L813.9 403.8L815.2 406.2L816.4 408.6L817.7 408.6L818.9 408.6L820.2 408.6L821.4 408.6L822.6 408.6L823.9 408.6L825.1 408.6L826.4 408.6L827.6 408.6L828.9 408.6L830.1 410.9L831.4 410.9L832.6 410.9L833.9 408.6L835.1 408.6L836.4 408.6L837.6 408.6L838.9 408.6L840.1 408.6L841.3 406.2L842.6 408.6L843.8 406.2L845.1 406.2L846.3 406.2L847.6 408.6L848.8 406.2L850.1 406.2L851.3 403.8L852.6 406.2L853.8 403.8L855.1 406.2L856.3 406.2L857.5 406.2L858.8 406.2L860.0 406.2L861.3 406.2L862.5 406.2L863.8 406.2L865.0 406.2L866.3 406.2L867.5 406.2L868.8 406.2L870.0 406.2L871.3 408.6L872.5 408.6L873.8 406.2L875.0 408.6L876.2 408.6L877.5 408.6L878.7 408.6L880.0 408.6L881.2 408.6L882.5 408.6L883.7 408.6L885.0 410.9L886.2 408.6L887.5 408.6L888.7 408.6L890.0 408.6L891.2 408.6L892.4 408.6L893.7 406.2L894.9 406.2L896.2 406.2L897.4 406.2L898.7 406.2L899.9 406.2L901.2 408.6L902.4 406.2L903.7 408.6L904.9 408.6L906.2 408.6L907.4 406.2L908.6 406.2L909.9 406.2L911.1 406.2L912.4 408.6L913.6 408.6L914.9 406.2L916.1 408.6L917.4 406.2L918.6 406.2L919.9 406.2L921.1 408.6L922.4 408.6L923.6 408.6L924.9 408.6L926.1 408.6L927.3 406.2L928.6 406.2L929.8 406.2L931.1 406.2L932.3 406.2L933.6 406.2L934.8 406.2L936.1 406.2L937.3 406.2L938.6 406.2L939.8 406.2L941.1 408.6L942.3 408.6L943.5 408.6L944.8 408.6L946.0 408.6L947.3 408.6L948.5 408.6L949.8 408.6L951.0 406.2L952.3 406.2L953.5 408.6L954.8 408.6L956.0 408.6L957.3 408.6L958.5 408.6L959.8 408.6L961.0 408.6L962.2 408.6L963.5 410.9L964.7 410.9L966.0 410.9L967.2 408.6L968.5 408.6L969.7 408.6L971.0 408.6L972.2 408.6L973.5 406.2L974.7 406.2L976.0 406.2L977.2 406.2L978.5 403.8L979.7 406.2L980.9 406.2L982.2 408.6L983.4 408.6L984.7 408.6L985.9 408.6L987.2 408.6L988.4 408.6L989.7 408.6L990.9 408.6L992.2 408.6L993.4 408.6L994.7 408.6L995.9 408.6L997.1 406.2L998.4 408.6L999.6 408.6L1000.9 408.6L1002.1 410.9L1003.4 410.9L1004.6 408.6L1005.9 408.6L1007.1 410.9L1008.4 408.6L1009.6 410.9L1010.9 408.6L1012.1 408.6L1013.4 408.6L1014.6 408.6L1015.8 406.2L1017.1 408.6L1018.3 408.6L1019.6 408.6L1020.8 408.6L1022.1 410.9L1023.3 408.6L1024.6 408.6L1025.8 410.9L1027.1 410.9L1028.3 410.9L1029.6 408.6L1030.8 410.9L1032.0 410.9L1033.3 410.9L1034.5 408.6L1035.8 408.6L1037.0 410.9L1038.3 408.6L1039.5 408.6L1040.8 408.6L1042.0 406.2L1043.3 406.2L1044.5 408.6L1045.8 408.6L1047.0 408.6L1048.2 408.6L1049.5 410.9L1050.7 408.6L1052.0 408.6L1053.2 410.9L1054.5 410.9L1055.7 410.9L1057.0 410.9L1058.2 410.9L1059.5 410.9L1060.7 410.9L1062.0 410.9L1063.2 410.9L1064.5 408.6L1065.7 410.9L1066.9 410.9L1068.2 410.9L1069.4 408.6L1070.7 408.6L1071.9 408.6L1073.2 410.9L1074.4 408.6L1075.7 408.6L1076.9 410.9L1078.2 410.9L1079.4 410.9L1080.7 410.9L1081.9 410.9L1083.2 410.9L1084.4 410.9L1085.6 410.9L1086.9 410.9L1088.1 410.9L1089.4 408.6L1090.6 410.9L1091.9 410.9L1093.1 410.9L1094.4 408.6L1095.6 408.6L1096.9 408.6L1098.1 410.9L1099.4 410.9L1100.6 410.9L1101.8 410.9L1103.1 413.3L1104.3 410.9L1105.6 410.9L1106.8 410.9L1108.1 410.9L1109.3 410.9L1110.6 410.9L1111.8 410.9L1113.1 410.9L1114.3 413.3L1115.6 410.9L1116.8 410.9L1118.0 410.9L1119.3 410.9L1120.5 410.9L1121.8 410.9L1123.0 410.9L1124.3 410.9L1125.5 410.9L1126.8 410.9L1128.0 410.9L1129.3 413.3L1130.5 413.3L1131.8 413.3L1133.0 413.3L1134.3 413.3L1135.5 413.3L1136.7 410.9L1138.0 410.9L1139.2 413.3L1140.5 413.3L1141.7 413.3L1143.0 415.6L1144.2 415.6L1145.5 415.6L1146.7 415.6L1148.0 415.6L1149.2 413.3L1150.5 413.3L1151.7 413.3L1153.0 410.9L1154.2 413.3L1155.4 413.3L1156.7 413.3L1157.9 413.3L1159.2 413.3L1160.4 413.3L1161.7 413.3L1162.9 413.3L1164.2 410.9L1165.4 408.6L1166.7 410.9L1167.9 413.3L1169.2 413.3L1170.4 413.3L1171.6 415.6L1172.9 413.3L1174.1 413.3L1175.4 415.6L1176.6 415.6L1177.9 415.6L1179.1 415.6L1180.4 415.6L1181.6 415.6L1182.9 415.6L1184.1 415.6L1185.4 415.6L1186.6 415.6L1187.8 415.6L1189.1 415.6L1190.3 415.6L1191.6 415.6L1192.8 413.3L1194.1 413.3L1195.3 413.3L1196.6 413.3L1197.8 413.3L1199.1 413.3L1200.3 410.9L1201.6 410.9L1202.8 413.3L1204.1 410.9L1205.3 413.3L1206.5 413.3L1207.8 413.3L1209.0 413.3L1210.3 413.3L1211.5 413.3L1212.8 410.9L1214.0 410.9L1215.3 413.3L1216.5 415.6L1217.8 415.6L1219.0 415.6L1220.3 413.3L1221.5 413.3L1222.8 413.3L1224.0 413.3L1225.2 410.9L1226.5 413.3L1227.7 413.3L1229.0 413.3L1230.2 415.6L1231.5 413.3L1232.7 415.6L1234.0 413.3L1235.2 413.3L1236.5 413.3L1237.7 413.3L1239.0 413.3L1240.2 413.3L1241.4 415.6L1242.7 415.6L1243.9 413.3L1245.2 415.6L1246.4 415.6L1247.7 415.6L1248.9 413.3L1250.2 415.6L1251.4 415.6L1252.7 415.6L1253.9 418.0L1255.2 415.6L1256.4 415.6L1257.7 418.0L1258.9 415.6L1260.1 418.0L1261.4 415.6L1262.6 415.6L1263.9 413.3L1265.1 413.3L1266.4 413.3L1267.6 415.6L1268.9 415.6L1270.1 413.3L1271.4 415.6L1272.6 415.6L1273.9 415.6L1275.1 415.6L1276.3 413.3L1277.6 413.3L1278.8 413.3L1280.1 413.3L1281.3 413.3L1282.6 413.3L1283.8 413.3L1285.1 413.3L1286.3 413.3L1287.6 413.3L1288.8 413.3L1290.1 415.6L1291.3 415.6L1292.5 415.6L1293.8 415.6L1295.0 415.6L1296.3 415.6L1297.5 410.9L1298.8 413.3L1300.0 413.3L1301.3 413.3L1302.5 413.3L1303.8 413.3L1305.0 413.3L1306.3 413.3L1307.5 413.3L1308.8 413.3L1310.0 415.6L1311.2 415.6L1312.5 413.3L1313.7 413.3L1315.0 413.3L1316.2 413.3L1317.5 413.3L1318.7 413.3L1320.0 413.3L1321.2 415.6L1322.5 415.6L1323.7 415.6L1325.0 413.3L1326.2 415.6L1327.5 415.6L1328.7 415.6L1329.9 413.3L1331.2 413.3L1332.4 413.3L1333.7 413.3L1334.9 415.6L1336.2 415.6L1337.4 415.6L1338.7 415.6L1339.9 413.3L1341.2 413.3L1342.4 415.6L1343.7 413.3L1344.9 413.3L1346.1 415.6L1347.4 415.6L1348.6 415.6L1349.9 415.6L1351.1 415.6L1352.4 415.6L1353.6 415.6L1354.9 415.6L1356.1 413.3L1357.4 415.6L1358.6 413.3L1359.9 410.9L1361.1 413.3L1362.3 410.9L1363.6 410.9L1364.8 410.9L1366.1 413.3L1367.3 413.3L1368.6 415.6L1369.8 415.6L1371.1 415.6L1372.3 415.6L1373.6 415.6L1374.8 413.3L1376.1 415.6L1377.3 415.6L1378.6 415.6L1379.8 415.6L1381.0 415.6L1382.3 415.6L1383.5 415.6L1384.8 415.6L1386.0 418.0L1387.3 418.0L1388.5 415.6L1389.8 415.6L1391.0 413.3L1392.3 413.3L1393.5 413.3L1394.8 413.3L1396.0 413.3L1397.2 413.3L1398.5 413.3L1399.7 410.9L1401.0 410.9L1402.2 413.3L1403.5 413.3L1404.7 413.3L1406.0 413.3L1407.2 415.6L1408.5 415.6L1409.7 413.3L1411.0 413.3L1412.2 415.6L1413.5 415.6L1414.7 415.6L1415.9 415.6L1417.2 415.6L1418.4 415.6L1419.7 415.6L1420.9 415.6L1422.2 415.6L1423.4 415.6L1424.7 415.6L1425.9 415.6L1427.2 413.3L1428.4 413.3L1429.7 415.6L1430.9 415.6L1432.2 415.6L1433.4 415.6L1434.6 415.6L1435.9 413.3L1437.1 415.6L1438.4 415.6L1439.6 415.6L1440.9 415.6L1442.1 413.3L1443.4 415.6L1444.6 415.6L1445.9 415.6L1447.1 415.6L1448.4 415.6L1449.6 413.3L1450.8 415.6L1452.1 415.6L1453.3 415.6L1454.6 415.6L1455.8 415.6L1457.1 415.6L1458.3 415.6L1459.6 415.6L1460.8 415.6L1462.1 413.3L1463.3 415.6L1464.6 415.6L1465.8 415.6L1467.0 415.6L1468.3 415.6L1469.5 418.0L1470.8 418.0L1472.0 415.6L1473.3 415.6L1474.5 415.6L1475.8 415.6L1477.0 413.3L1478.3 410.9L1479.5 413.3L1480.8 413.3L1482.0 413.3L1483.3 413.3L1484.5 415.6L1485.7 413.3L1487.0 415.6L1488.2 415.6L1489.5 415.6L1490.7 418.0L1492.0 415.6L1493.2 415.6L1494.5 415.6L1495.7 415.6L1497.0 415.6L1498.2 415.6L1499.5 415.6L1500.7 415.6L1502.0 415.6L1503.2 415.6L1504.4 415.6L1505.7 415.6L1506.9 418.0L1508.2 418.0L1509.4 418.0L1510.7 418.0L1511.9 418.0L1513.2 418.0L1514.4 418.0L1515.7 418.0L1516.9 415.6L1518.2 415.6L1519.4 415.6L1520.6 415.6L1521.9 415.6L1523.1 415.6L1524.4 415.6L1525.6 415.6L1526.9 415.6L1528.1 418.0L1529.4 418.0L1530.6 418.0L1531.9 418.0L1533.1 420.4L1534.4 420.4L1535.6 418.0L1536.8 418.0L1538.1 418.0L1539.3 418.0L1540.6 415.6L1541.8 415.6L1543.1 418.0L1544.3 420.4L1545.6 418.0L1546.8 418.0L1548.1 415.6L1549.3 418.0L1550.6 415.6L1551.8 415.6L1553.1 415.6L1554.3 415.6L1555.5 418.0L1556.8 418.0L1558.0 418.0L1559.3 418.0L1560.5 415.6L1561.8 415.6L1563.0 415.6L1564.3 415.6L1565.5 415.6L1566.8 415.6L1568.0 415.6L1569.3 415.6L1570.5 415.6L1571.8 415.6L1573.0 415.6L1574.2 415.6L1575.5 415.6L1576.7 413.3L1578.0 415.6L1579.2 415.6L1580.5 415.6L1581.7 418.0L1583.0 418.0L1584.2 418.0L1585.5 418.0L1586.7 418.0L1588.0 420.4L1589.2 420.4L1590.4 420.4L1591.7 420.4L1592.9 420.4L1594.2 418.0L1595.4 418.0L1596.7 418.0L1597.9 418.0L1599.2 415.6L1600.4 418.0L1601.7 418.0L1602.9 415.6L1604.2 418.0L1605.4 415.6L1606.7 418.0L1607.9 418.0L1609.1 418.0L1610.4 418.0L1611.6 418.0L1612.9 418.0L1614.1 418.0L1615.4 418.0L1616.6 418.0L1617.9 418.0L1619.1 418.0L1620.4 418.0L1621.6 415.6L1622.9 418.0L1624.1 418.0L1625.3 418.0L1626.6 415.6L1627.8 415.6L1629.1 415.6L1630.3 418.0L1631.6 418.0L1632.8 418.0L1634.1 418.0L1635.3 415.6L1636.6 418.0L1637.8 415.6L1639.1 418.0L1640.3 418.0L1641.5 418.0L1642.8 420.4L1644.0 420.4L1645.3 418.0L1646.5 418.0L1647.8 418.0L1649.0 418.0L1650.3 418.0L1651.5 418.0L1652.8 415.6L1654.0 420.4L1655.3 420.4L1656.5 418.0L1657.8 420.4L1659.0 418.0L1660.2 418.0L1661.5 420.4L1662.7 420.4L1664.0 418.0L1665.2 418.0L1666.5 420.4L1667.7 418.0L1669.0 420.4L1670.2 418.0L1671.5 418.0L1672.7 418.0L1674.0 418.0L1675.2 418.0L1676.5 418.0L1677.7 420.4L1678.9 420.4L1680.2 418.0L1681.4 418.0L1682.7 418.0L1683.9 418.0L1685.2 418.0L1686.4 418.0L1687.7 420.4L1688.9 418.0L1690.2 418.0L1691.4 415.6L1692.7 415.6L1693.9 415.6L1695.1 415.6L1696.4 415.6L1697.6 415.6L1698.9 415.6L1700.1 418.0L1701.4 418.0L1702.6 418.0L1703.9 420.4L1705.1 420.4L1706.4 418.0L1707.6 418.0L1708.9 418.0L1710.1 418.0L1711.3 418.0L1712.6 420.4L1713.8 420.4L1715.1 420.4L1716.3 418.0L1717.6 418.0L1718.8 418.0L1720.1 418.0L1721.3 418.0L1722.6 418.0L1723.8 418.0L1725.1 420.4L1726.3 418.0L1727.6 418.0L1728.8 418.0L1730.0 418.0L1731.3 420.4L1732.5 420.4L1733.8 420.4L1735.0 420.4L1736.3 420.4L1737.5 420.4L1738.8 420.4L1740.0 420.4L1741.3 420.4L1742.5 420.4L1743.8 420.4L1745.0 418.0L1746.2 420.4L1747.5 420.4L1748.7 420.4L1750.0 418.0L1751.2 420.4L1752.5 420.4L1753.7 420.4L1755.0 420.4L1756.2 418.0L1757.5 420.4L1758.7 420.4L1760.0 420.4L1761.2 420.4L1762.5 420.4L1763.7 420.4L1764.9 420.4L1766.2 418.0L1767.4 418.0L1768.7 418.0L1769.9 418.0L1771.2 415.6L1772.4 418.0L1773.7 415.6L1774.9 415.6L1776.2 415.6L1777.4 415.6L1778.7 418.0L1779.9 418.0L1781.2 418.0L1782.4 418.0L1783.6 418.0L1784.9 418.0L1786.1 420.4L1787.4 420.4L1788.6 420.4L1789.9 418.0L1791.1 420.4L1792.4 418.0L1793.6 420.4L1794.9 420.4L1796.1 418.0L1797.4 418.0L1798.6 418.0L1799.8 418.0L1801.1 418.0L1802.3 420.4L1803.6 420.4L1804.8 420.4L1806.1 420.4L1807.3 420.4L1808.6 420.4L1809.8 420.4L1811.1 420.4L1812.3 420.4L1813.6 420.4L1814.8 420.4L1816.0 422.7L1817.3 422.7L1818.5 420.4L1819.8 420.4L1821.0 420.4L1822.3 420.4L1823.5 420.4L1824.8 420.4L1826.0 418.0L1827.3 420.4L1828.5 420.4L1829.8 420.4L1831.0 420.4L1832.3 420.4L1833.5 420.4L1834.7 418.0L1836.0 420.4L1837.2 420.4L1838.5 418.0L1839.7 420.4L1841.0 418.0L1842.2 418.0L1843.5 418.0L1844.7 415.6L1846.0 418.0L1847.2 418.0L1848.5 418.0L1849.7 420.4L1851.0 420.4L1852.2 420.4L1853.4 420.4L1854.7 420.4L1855.9 420.4L1857.2 420.4L1858.4 418.0L1859.7 420.4L1860.9 420.4L1862.2 420.4L1863.4 420.4L1864.7 418.0L1865.9 418.0L1867.2 418.0L1868.4 418.0L1869.6 418.0L1870.9 418.0L1872.1 420.4L1873.4 420.4L1874.6 420.4L1875.9 420.4L1877.1 418.0L1878.4 418.0L1879.6 418.0L1880.9 418.0L1882.1 418.0L1883.4 418.0L1884.6 420.4L1885.8 420.4L1887.1 420.4L1888.3 420.4L1889.6 422.7L1890.8 420.4L1892.1 420.4L1893.3 420.4L1894.6 420.4L1895.8 420.4L1897.1 420.4L1898.3 420.4L1899.6 420.4L1900.8 420.4L1902.1 420.4L1903.3 422.7L1904.5 422.7L1905.8 420.4L1907.0 420.4L1908.3 420.4L1909.5 420.4L1910.8 418.0L1912.0 418.0L1913.3 420.4L1914.5 420.4L1915.8 422.7L1917.0 420.4L1918.3 420.4L1919.5 418.0L1920.8 418.0L1922.0 420.4L1923.2 420.4L1924.5 420.4L1925.7 420.4L1927.0 420.4L1928.2 422.7L1929.5 422.7L1930.7 420.4L1932.0 420.4L1933.2 420.4L1934.5 420.4L1935.7 420.4L1937.0 422.7L1938.2 422.7L1939.4 420.4L1940.7 420.4L1941.9 420.4L1943.2 420.4L1944.4 420.4L1945.7 422.7L1946.9 422.7L1948.2 422.7L1949.4 420.4L1950.7 420.4L1951.9 420.4L1953.2 418.0L1954.4 420.4L1955.7 420.4L1956.9 420.4L1958.1 420.4L1959.4 420.4L1960.6 420.4L1961.9 418.0L1963.1 420.4L1964.4 422.7L1965.6 420.4L1966.9 420.4L1968.1 420.4L1969.4 420.4L1970.6 420.4L1971.9 418.0L1973.1 420.4L1974.3 420.4L1975.6 420.4L1976.8 422.7L1978.1 422.7L1979.3 420.4L1980.6 422.7L1981.8 422.7L1983.1 422.7L1984.3 422.7L1985.6 420.4L1986.8 422.7L1988.1 422.7L1989.3 422.7L1990.5 422.7L1991.8 422.7L1993.0 420.4L1994.3 420.4L1995.5 422.7L1996.8 422.7L1998.0 422.7L1999.3 420.4L2000.5 422.7L2001.8 422.7L2003.0 422.7L2004.3 422.7L2005.5 422.7L2006.8 422.7L2008.0 422.7L2009.2 420.4L2010.5 422.7L2011.7 420.4L2013.0 422.7L2014.2 420.4L2015.5 420.4L2016.7 420.4L2018.0 422.7L2019.2 420.4L2020.5 422.7L2021.7 422.7L2023.0 425.1L2024.2 422.7L2025.5 425.1L2026.7 422.7L2027.9 422.7L2029.2 422.7L2030.4 422.7L2031.7 420.4L2032.9 420.4L2034.2 420.4L2035.4 422.7L2036.7 422.7L2037.9 422.7L2039.2 422.7L2040.4 422.7L2041.7 420.4L2042.9 422.7L2044.1 422.7L2045.4 420.4L2046.6 420.4L2047.9 420.4L2049.1 420.4L2050.4 422.7L2051.6 422.7L2052.9 422.7L2054.1 420.4L2055.4 420.4L2056.6 422.7L2057.9 422.7L2059.1 422.7L2060.3 422.7L2061.6 422.7L2062.8 422.7L2064.1 420.4L2065.3 420.4L2066.6 420.4L2067.8 420.4L2069.1 420.4L2070.3 420.4L2071.6 422.7L2072.8 422.7L2074.1 422.7L2075.3 420.4L2076.6 422.7L2077.8 422.7L2079.0 422.7L2080.3 422.7L2081.5 422.7L2082.8 422.7L2084.0 422.7L2085.3 420.4L2086.5 420.4L2087.8 420.4L2089.0 422.7L2090.3 422.7L2091.5 422.7L2092.8 420.4L2094.0 422.7L2095.2 420.4L2096.5 420.4L2097.7 422.7L2099.0 422.7L2100.2 420.4L2101.5 422.7L2102.7 422.7L2104.0 422.7L2105.2 422.7L2106.5 422.7L2107.7 422.7L2109.0 422.7L2110.2 422.7L2111.5 422.7L2112.7 422.7L2113.9 420.4L2115.2 422.7L2116.4 422.7L2117.7 422.7L2118.9 422.7L2120.2 422.7L2121.4 422.7L2122.7 422.7L2123.9 422.7L2125.2 422.7L2126.4 422.7L2127.7 425.1L2128.9 422.7L2130.2 422.7L2131.4 422.7L2132.6 422.7L2133.9 422.7L2135.1 422.7L2136.4 422.7L2137.6 422.7L2138.9 425.1L2140.1 422.7L2141.4 422.7L2142.6 420.4L2143.9 420.4L2145.1 422.7L2146.4 422.7L2147.6 422.7L2148.8 422.7L2150.1 422.7L2151.3 420.4L2152.6 420.4L2153.8 420.4L2155.1 420.4L2156.3 420.4L2157.6 422.7L2158.8 425.1L2160.1 422.7L2161.3 420.4L2162.6 420.4L2163.8 418.0L2165.1 420.4L2166.3 420.4L2167.5 422.7L2168.8 420.4L2170.0 420.4L2171.3 422.7L2172.5 420.4L2173.8 422.7L2175.0 422.7L2176.3 422.7L2177.5 422.7L2178.8 420.4L2180.0 420.4L2181.3 420.4L2182.5 420.4L2183.7 420.4L2185.0 418.0L2186.2 420.4L2187.5 420.4L2188.7 420.4L2190.0 422.7L2191.2 422.7L2192.5 420.4L2193.7 420.4L2195.0 420.4L2196.2 420.4L2197.5 422.7L2198.7 420.4L2199.9 422.7L2201.2 422.7L2202.4 422.7L2203.7 420.4L2204.9 420.4L2206.2 422.7L2207.4 422.7L2208.7 422.7L2209.9 422.7L2211.2 425.1L2212.4 422.7L2213.7 422.7L2214.9 422.7L2216.2 420.4L2217.4 422.7L2218.6 422.7L2219.9 420.4L2221.1 420.4L2222.4 422.7L2223.6 422.7L2224.9 420.4L2226.1 420.4L2227.4 420.4L2228.6 420.4L2229.9 420.4L2231.1 420.4L2232.4 420.4L2233.6 422.7L2234.8 422.7L2236.1 422.7L2237.3 422.7L2238.6 422.7L2239.8 422.7L2241.1 422.7L2242.3 425.1L2243.6 422.7L2244.8 422.7L2246.1 422.7L2247.3 422.7L2248.6 422.7L2249.8 425.1L2251.1 425.1L2252.3 425.1L2253.5 425.1L2254.8 422.7L2256.0 422.7L2257.3 422.7L2258.5 422.7L2259.8 425.1L2261.0 425.1L2262.3 425.1L2263.5 425.1L2264.8 425.1L2266.0 425.1L2267.3 425.1L2268.5 425.1L2269.8 422.7L2271.0 422.7L2272.2 425.1L2273.5 422.7L2274.7 425.1L2276.0 422.7L2277.2 425.1L2278.5 422.7L2279.7 422.7L2281.0 425.1L2282.2 422.7L2283.5 422.7L2284.7 422.7L2286.0 422.7L2287.2 422.7L2288.4 422.7L2289.7 425.1L2290.9 422.7L2292.2 422.7L2293.4 422.7L2294.7 422.7L2295.9 422.7L2297.2 420.4L2298.4 420.4L2299.7 422.7L2300.9 422.7L2302.2 422.7L2303.4 420.4L2304.7 422.7L2305.9 425.1L2307.1 422.7L2308.4 422.7L2309.6 422.7L2310.9 422.7L2312.1 425.1L2313.4 425.1L2314.6 425.1L2315.9 422.7L2317.1 422.7L2318.4 422.7L2319.6 422.7L2320.9 422.7L2322.1 422.7L2323.3 422.7L2324.6 425.1L2325.8 425.1L2327.1 425.1L2328.3 425.1L2329.6 425.1L2330.8 422.7L2332.1 425.1L2333.3 425.1L2334.6 425.1L2335.8 425.1L2337.1 425.1L2338.3 422.7L2339.6 422.7L2340.8 422.7L2342.0 422.7L2343.3 425.1L2344.5 425.1L2345.8 425.1L2347.0 425.1L2348.3 427.5L2349.5 425.1L2350.8 425.1L2352.0 425.1L2353.3 425.1L2354.5 425.1L2355.8 425.1L2357.0 425.1"/>
<path stroke="#00a44f" stroke-width="8.3" stroke-dasharray="47 28" stroke-dashoffset="-10" d="M263.0 902.3L264.2 907.0L265.5 890.5L266.7 874.0L268.0 862.2L269.2 850.4L270.5 840.9L271.7 831.4L273.0 826.7L274.2 812.6L275.5 814.9L276.7 810.2L278.0 807.8L279.2 803.1L280.4 800.7L281.7 796.0L282.9 791.3L284.2 788.9L285.4 781.8L286.7 779.5L287.9 772.4L289.2 762.9L290.4 758.2L291.7 755.8L292.9 751.1L294.2 744.0L295.4 737.0L296.7 737.0L297.9 732.2L299.1 727.5L300.4 727.5L301.6 722.8L302.9 718.0L304.1 713.3L305.4 711.0L306.6 706.2L307.9 706.2L309.1 694.4L310.4 692.1L311.6 687.3L312.9 680.2L314.1 675.5L315.4 673.2L316.6 670.8L317.8 666.1L319.1 663.7L320.3 659.0L321.6 659.0L322.8 656.6L324.1 651.9L325.3 651.9L326.6 651.9L327.8 647.2L329.1 642.5L330.3 642.5L331.6 640.1L332.8 635.4L334.0 637.7L335.3 628.3L336.5 625.9L337.8 625.9L339.0 621.2L340.3 621.2L341.5 614.1L342.8 616.5L344.0 614.1L345.3 609.4L346.5 604.6L347.8 609.4L349.0 604.6L350.2 602.3L351.5 602.3L352.7 597.6L354.0 599.9L355.2 595.2L356.5 597.6L357.7 590.5L359.0 592.8L360.2 590.5L361.5 590.5L362.7 583.4L364.0 583.4L365.2 581.0L366.5 578.7L367.7 578.7L368.9 578.7L370.2 576.3L371.4 573.9L372.7 569.2L373.9 571.6L375.2 569.2L376.4 566.8L377.7 564.5L378.9 562.1L380.2 564.5L381.4 562.1L382.7 559.8L383.9 555.0L385.1 555.0L386.4 552.7L387.6 552.7L388.9 550.3L390.1 550.3L391.4 545.6L392.6 548.0L393.9 545.6L395.1 543.2L396.4 540.9L397.6 540.9L398.9 536.1L400.1 536.1L401.4 533.8L402.6 538.5L403.8 533.8L405.1 533.8L406.3 531.4L407.6 533.8L408.8 526.7L410.1 526.7L411.3 529.0L412.6 526.7L413.8 526.7L415.1 524.3L416.3 522.0L417.6 517.2L418.8 519.6L420.1 517.2L421.3 517.2L422.5 514.9L423.8 514.9L425.0 512.5L426.3 517.2L427.5 514.9L428.8 514.9L430.0 510.1L431.3 510.1L432.5 510.1L433.8 510.1L435.0 507.8L436.3 510.1L437.5 507.8L438.7 505.4L440.0 500.7L441.2 505.4L442.5 505.4L443.7 505.4L445.0 503.1L446.2 500.7L447.5 498.3L448.7 498.3L450.0 498.3L451.2 496.0L452.5 496.0L453.7 498.3L454.9 493.6L456.2 493.6L457.4 493.6L458.7 491.2L459.9 491.2L461.2 488.9L462.4 486.5L463.7 486.5L464.9 486.5L466.2 484.2L467.4 484.2L468.7 481.8L469.9 486.5L471.2 481.8L472.4 481.8L473.6 481.8L474.9 479.4L476.1 479.4L477.4 479.4L478.6 479.4L479.9 477.1L481.1 479.4L482.4 477.1L483.6 474.7L484.9 477.1L486.1 472.3L487.4 474.7L488.6 472.3L489.9 474.7L491.1 474.7L492.3 472.3L493.6 472.3L494.8 472.3L496.1 472.3L497.3 472.3L498.6 470.0L499.8 470.0L501.1 467.6L502.3 470.0L503.6 470.0L504.8 470.0L506.1 470.0L507.3 467.6L508.5 465.3L509.8 465.3L511.0 465.3L512.3 462.9L513.5 465.3L514.8 462.9L516.0 462.9L517.3 465.3L518.5 462.9L519.8 462.9L521.0 460.5L522.3 460.5L523.5 460.5L524.8 460.5L526.0 460.5L527.2 458.2L528.5 460.5L529.7 458.2L531.0 458.2L532.2 458.2L533.5 458.2L534.7 458.2L536.0 455.8L537.2 458.2L538.5 455.8L539.7 455.8L541.0 453.4L542.2 453.4L543.4 455.8L544.7 453.4L545.9 453.4L547.2 453.4L548.4 451.1L549.7 453.4L550.9 453.4L552.2 451.1L553.4 451.1L554.7 451.1L555.9 451.1L557.2 448.7L558.4 448.7L559.6 451.1L560.9 448.7L562.1 448.7L563.4 448.7L564.6 446.4L565.9 448.7L567.1 448.7L568.4 448.7L569.6 448.7L570.9 446.4L572.1 446.4L573.4 446.4L574.6 446.4L575.9 446.4L577.1 444.0L578.3 446.4L579.6 444.0L580.8 446.4L582.1 444.0L583.3 446.4L584.6 444.0L585.8 444.0L587.1 444.0L588.3 444.0L589.6 444.0L590.8 444.0L592.1 441.6L593.3 441.6L594.5 441.6L595.8 441.6L597.0 441.6L598.3 441.6L599.5 441.6L600.8 441.6L602.0 439.3L603.3 439.3L604.5 439.3L605.8 439.3L607.0 439.3L608.3 436.9L609.5 439.3L610.8 439.3L612.0 439.3L613.2 436.9L614.5 439.3L615.7 436.9L617.0 436.9L618.2 439.3L619.5 434.5L620.7 436.9L622.0 436.9L623.2 436.9L624.5 436.9L625.7 436.9L627.0 434.5L628.2 436.9L629.5 434.5L630.7 434.5L631.9 434.5L633.2 434.5L634.4 436.9L635.7 434.5L636.9 434.5L638.2 434.5L639.4 434.5L640.7 434.5L641.9 434.5L643.2 434.5L644.4 434.5L645.7 432.2L646.9 434.5L648.1 432.2L649.4 432.2L650.6 432.2L651.9 432.2L653.1 432.2L654.4 432.2L655.6 429.8L656.9 432.2L658.1 429.8L659.4 432.2L660.6 429.8L661.9 429.8L663.1 429.8L664.4 432.2L665.6 432.2L666.8 429.8L668.1 429.8L669.3 429.8L670.6 427.5L671.8 429.8L673.1 425.1L674.3 427.5L675.6 427.5L676.8 427.5L678.1 427.5L679.3 427.5L680.6 425.1L681.8 427.5L683.0 429.8L684.3 425.1L685.5 427.5L686.8 425.1L688.0 427.5L689.3 427.5L690.5 425.1L691.8 427.5L693.0 425.1L694.3 422.7L695.5 425.1L696.8 425.1L698.0 425.1L699.2 422.7L700.5 425.1L701.7 422.7L703.0 422.7L704.2 422.7L705.5 425.1L706.7 425.1L708.0 422.7L709.2 425.1L710.5 422.7L711.7 422.7L713.0 422.7L714.2 425.1L715.5 422.7L716.7 425.1L717.9 425.1L719.2 422.7L720.4 422.7L721.7 422.7L722.9 425.1L724.2 422.7L725.4 422.7L726.7 422.7L727.9 422.7L729.2 422.7L730.4 422.7L731.7 422.7L732.9 420.4L734.1 422.7L735.4 422.7L736.6 422.7L737.9 422.7L739.1 420.4L740.4 422.7L741.6 420.4L742.9 420.4L744.1 420.4L745.4 420.4L746.6 422.7L747.9 422.7L749.1 420.4L750.4 420.4L751.6 420.4L752.8 420.4L754.1 422.7L755.3 422.7L756.6 422.7L757.8 420.4L759.1 420.4L760.3 420.4L761.6 422.7L762.8 420.4L764.1 420.4L765.3 420.4L766.6 420.4L767.8 418.0L769.0 418.0L770.3 420.4L771.5 420.4L772.8 418.0L774.0 420.4L775.3 420.4L776.5 420.4L777.8 418.0L779.0 420.4L780.3 418.0L781.5 422.7L782.8 418.0L784.0 418.0L785.3 420.4L786.5 418.0L787.7 418.0L789.0 418.0L790.2 420.4L791.5 418.0L792.7 418.0L794.0 418.0L795.2 418.0L796.5 418.0L797.7 418.0L799.0 418.0L800.2 420.4L801.5 420.4L802.7 418.0L804.0 420.4L805.2 418.0L806.4 418.0L807.7 418.0L808.9 418.0L810.2 418.0L811.4 420.4L812.7 418.0L813.9 420.4L815.2 418.0L816.4 418.0L817.7 418.0L818.9 418.0L820.2 418.0L821.4 418.0L822.6 418.0L823.9 418.0L825.1 415.6L826.4 418.0L827.6 418.0L828.9 418.0L830.1 415.6L831.4 415.6L832.6 415.6L833.9 418.0L835.1 418.0L836.4 415.6L837.6 418.0L838.9 415.6L840.1 415.6L841.3 418.0L842.6 415.6L843.8 415.6L845.1 415.6L846.3 413.3L847.6 415.6L848.8 415.6L850.1 418.0L851.3 415.6L852.6 415.6L853.8 418.0L855.1 415.6L856.3 418.0L857.5 415.6L858.8 415.6L860.0 418.0L861.3 415.6L862.5 415.6L863.8 418.0L865.0 418.0L866.3 415.6L867.5 415.6L868.8 418.0L870.0 415.6L871.3 415.6L872.5 415.6L873.8 415.6L875.0 415.6L876.2 415.6L877.5 415.6L878.7 415.6L880.0 415.6L881.2 415.6L882.5 415.6L883.7 418.0L885.0 415.6L886.2 415.6L887.5 415.6L888.7 415.6L890.0 415.6L891.2 415.6L892.4 415.6L893.7 415.6L894.9 415.6L896.2 415.6L897.4 418.0L898.7 415.6L899.9 415.6L901.2 415.6L902.4 415.6L903.7 418.0L904.9 415.6L906.2 415.6L907.4 415.6L908.6 418.0L909.9 418.0L911.1 415.6L912.4 415.6L913.6 415.6L914.9 418.0L916.1 418.0L917.4 415.6L918.6 415.6L919.9 415.6L921.1 415.6L922.4 415.6L923.6 418.0L924.9 415.6L926.1 415.6L927.3 415.6L928.6 415.6L929.8 418.0L931.1 415.6L932.3 415.6L933.6 415.6L934.8 415.6L936.1 415.6L937.3 415.6L938.6 418.0L939.8 415.6L941.1 418.0L942.3 415.6L943.5 415.6L944.8 418.0L946.0 415.6L947.3 415.6L948.5 418.0L949.8 418.0L951.0 418.0L952.3 418.0L953.5 415.6L954.8 415.6L956.0 415.6L957.3 415.6L958.5 418.0L959.8 415.6L961.0 415.6L962.2 415.6L963.5 418.0L964.7 420.4L966.0 418.0L967.2 415.6L968.5 418.0L969.7 415.6L971.0 415.6L972.2 418.0L973.5 415.6L974.7 415.6L976.0 415.6L977.2 415.6L978.5 418.0L979.7 415.6L980.9 418.0L982.2 415.6L983.4 413.3L984.7 418.0L985.9 418.0L987.2 418.0L988.4 415.6L989.7 415.6L990.9 415.6L992.2 418.0L993.4 418.0L994.7 415.6L995.9 418.0L997.1 415.6L998.4 418.0L999.6 415.6L1000.9 415.6L1002.1 415.6L1003.4 415.6L1004.6 418.0L1005.9 415.6L1007.1 415.6L1008.4 415.6L1009.6 415.6L1010.9 418.0L1012.1 418.0L1013.4 418.0L1014.6 418.0L1015.8 415.6L1017.1 418.0L1018.3 415.6L1019.6 415.6L1020.8 418.0L1022.1 418.0L1023.3 415.6L1024.6 415.6L1025.8 418.0L1027.1 415.6L1028.3 415.6L1029.6 415.6L1030.8 415.6L1032.0 413.3L1033.3 415.6L1034.5 418.0L1035.8 418.0L1037.0 418.0L1038.3 418.0L1039.5 420.4L1040.8 415.6L1042.0 418.0L1043.3 415.6L1044.5 418.0L1045.8 415.6L1047.0 418.0L1048.2 418.0L1049.5 415.6L1050.7 415.6L1052.0 418.0L1053.2 415.6L1054.5 415.6L1055.7 418.0L1057.0 415.6L1058.2 418.0L1059.5 415.6L1060.7 418.0L1062.0 415.6L1063.2 418.0L1064.5 418.0L1065.7 415.6L1066.9 418.0L1068.2 418.0L1069.4 418.0L1070.7 415.6L1071.9 418.0L1073.2 418.0L1074.4 418.0L1075.7 418.0L1076.9 418.0L1078.2 418.0L1079.4 418.0L1080.7 418.0L1081.9 415.6L1083.2 415.6L1084.4 415.6L1085.6 418.0L1086.9 418.0L1088.1 420.4L1089.4 418.0L1090.6 420.4L1091.9 418.0L1093.1 415.6L1094.4 415.6L1095.6 415.6L1096.9 418.0L1098.1 418.0L1099.4 418.0L1100.6 415.6L1101.8 418.0L1103.1 415.6L1104.3 413.3L1105.6 415.6L1106.8 415.6L1108.1 418.0L1109.3 418.0L1110.6 415.6L1111.8 415.6L1113.1 418.0L1114.3 418.0L1115.6 420.4L1116.8 418.0L1118.0 415.6L1119.3 418.0L1120.5 418.0L1121.8 420.4L1123.0 418.0L1124.3 415.6L1125.5 418.0L1126.8 418.0L1128.0 420.4L1129.3 415.6L1130.5 418.0L1131.8 418.0L1133.0 415.6L1134.3 420.4L1135.5 418.0L1136.7 418.0L1138.0 418.0L1139.2 415.6L1140.5 418.0L1141.7 420.4L1143.0 418.0L1144.2 418.0L1145.5 418.0L1146.7 420.4L1148.0 420.4L1149.2 418.0L1150.5 418.0L1151.7 418.0L1153.0 420.4L1154.2 415.6L1155.4 422.7L1156.7 418.0L1157.9 415.6L1159.2 418.0L1160.4 418.0L1161.7 420.4L1162.9 415.6L1164.2 420.4L1165.4 418.0L1166.7 418.0L1167.9 420.4L1169.2 415.6L1170.4 420.4L1171.6 418.0L1172.9 418.0L1174.1 418.0L1175.4 418.0L1176.6 415.6L1177.9 418.0L1179.1 418.0L1180.4 418.0L1181.6 418.0L1182.9 415.6L1184.1 418.0L1185.4 418.0L1186.6 418.0L1187.8 418.0L1189.1 415.6L1190.3 420.4L1191.6 418.0L1192.8 415.6L1194.1 420.4L1195.3 418.0L1196.6 420.4L1197.8 418.0L1199.1 420.4L1200.3 418.0L1201.6 418.0L1202.8 418.0L1204.1 415.6L1205.3 418.0L1206.5 418.0L1207.8 418.0L1209.0 418.0L1210.3 420.4L1211.5 420.4L1212.8 418.0L1214.0 415.6L1215.3 418.0L1216.5 418.0L1217.8 415.6L1219.0 418.0L1220.3 418.0L1221.5 420.4L1222.8 420.4L1224.0 418.0L1225.2 415.6L1226.5 418.0L1227.7 420.4L1229.0 418.0L1230.2 418.0L1231.5 420.4L1232.7 418.0L1234.0 418.0L1235.2 418.0L1236.5 418.0L1237.7 420.4L1239.0 420.4L1240.2 415.6L1241.4 415.6L1242.7 420.4L1243.9 418.0L1245.2 418.0L1246.4 418.0L1247.7 418.0L1248.9 418.0L1250.2 418.0L1251.4 418.0L1252.7 418.0L1253.9 420.4L1255.2 422.7L1256.4 420.4L1257.7 420.4L1258.9 418.0L1260.1 418.0L1261.4 418.0L1262.6 418.0L1263.9 418.0L1265.1 415.6L1266.4 420.4L1267.6 418.0L1268.9 418.0L1270.1 418.0L1271.4 415.6L1272.6 420.4L1273.9 418.0L1275.1 420.4L1276.3 420.4L1277.6 420.4L1278.8 418.0L1280.1 420.4L1281.3 418.0L1282.6 420.4L1283.8 415.6L1285.1 415.6L1286.3 418.0L1287.6 415.6L1288.8 418.0L1290.1 415.6L1291.3 418.0L1292.5 420.4L1293.8 415.6L1295.0 418.0L1296.3 420.4L1297.5 420.4L1298.8 420.4L1300.0 418.0L1301.3 420.4L1302.5 415.6L1303.8 418.0L1305.0 420.4L1306.3 420.4L1307.5 420.4L1308.8 420.4L1310.0 418.0L1311.2 418.0L1312.5 420.4L1313.7 420.4L1315.0 418.0L1316.2 415.6L1317.5 415.6L1318.7 418.0L1320.0 418.0L1321.2 420.4L1322.5 418.0L1323.7 420.4L1325.0 418.0L1326.2 420.4L1327.5 420.4L1328.7 418.0L1329.9 418.0L1331.2 420.4L1332.4 420.4L1333.7 418.0L1334.9 418.0L1336.2 420.4L1337.4 418.0L1338.7 420.4L1339.9 415.6L1341.2 418.0L1342.4 420.4L1343.7 422.7L1344.9 418.0L1346.1 418.0L1347.4 418.0L1348.6 418.0L1349.9 420.4L1351.1 420.4L1352.4 418.0L1353.6 418.0L1354.9 418.0L1356.1 420.4L1357.4 418.0L1358.6 420.4L1359.9 418.0L1361.1 420.4L1362.3 420.4L1363.6 420.4L1364.8 418.0L1366.1 418.0L1367.3 420.4L1368.6 420.4L1369.8 420.4L1371.1 415.6L1372.3 422.7L1373.6 420.4L1374.8 418.0L1376.1 418.0L1377.3 420.4L1378.6 418.0L1379.8 418.0L1381.0 418.0L1382.3 420.4L1383.5 415.6L1384.8 418.0L1386.0 415.6L1387.3 420.4L1388.5 418.0L1389.8 420.4L1391.0 422.7L1392.3 418.0L1393.5 420.4L1394.8 418.0L1396.0 420.4L1397.2 415.6L1398.5 420.4L1399.7 420.4L1401.0 418.0L1402.2 418.0L1403.5 420.4L1404.7 418.0L1406.0 415.6L1407.2 418.0L1408.5 420.4L1409.7 420.4L1411.0 418.0L1412.2 422.7L1413.5 425.1L1414.7 420.4L1415.9 420.4L1417.2 415.6L1418.4 420.4L1419.7 420.4L1420.9 420.4L1422.2 418.0L1423.4 420.4L1424.7 420.4L1425.9 420.4L1427.2 420.4L1428.4 420.4L1429.7 420.4L1430.9 418.0L1432.2 418.0L1433.4 422.7L1434.6 415.6L1435.9 420.4L1437.1 418.0L1438.4 420.4L1439.6 420.4L1440.9 420.4L1442.1 420.4L1443.4 418.0L1444.6 418.0L1445.9 420.4L1447.1 420.4L1448.4 418.0L1449.6 418.0L1450.8 420.4L1452.1 420.4L1453.3 420.4L1454.6 422.7L1455.8 422.7L1457.1 418.0L1458.3 420.4L1459.6 420.4L1460.8 420.4L1462.1 418.0L1463.3 418.0L1464.6 420.4L1465.8 418.0L1467.0 420.4L1468.3 418.0L1469.5 418.0L1470.8 420.4L1472.0 418.0L1473.3 420.4L1474.5 420.4L1475.8 420.4L1477.0 420.4L1478.3 420.4L1479.5 418.0L1480.8 420.4L1482.0 422.7L1483.3 415.6L1484.5 420.4L1485.7 420.4L1487.0 420.4L1488.2 418.0L1489.5 418.0L1490.7 420.4L1492.0 418.0L1493.2 422.7L1494.5 420.4L1495.7 420.4L1497.0 420.4L1498.2 420.4L1499.5 422.7L1500.7 415.6L1502.0 422.7L1503.2 420.4L1504.4 418.0L1505.7 418.0L1506.9 420.4L1508.2 425.1L1509.4 422.7L1510.7 418.0L1511.9 422.7L1513.2 422.7L1514.4 425.1L1515.7 418.0L1516.9 420.4L1518.2 422.7L1519.4 420.4L1520.6 420.4L1521.9 422.7L1523.1 420.4L1524.4 420.4L1525.6 420.4L1526.9 418.0L1528.1 420.4L1529.4 420.4L1530.6 420.4L1531.9 420.4L1533.1 422.7L1534.4 418.0L1535.6 420.4L1536.8 420.4L1538.1 420.4L1539.3 422.7L1540.6 420.4L1541.8 420.4L1543.1 420.4L1544.3 420.4L1545.6 422.7L1546.8 425.1L1548.1 420.4L1549.3 422.7L1550.6 418.0L1551.8 420.4L1553.1 420.4L1554.3 420.4L1555.5 418.0L1556.8 418.0L1558.0 420.4L1559.3 420.4L1560.5 420.4L1561.8 420.4L1563.0 420.4L1564.3 420.4L1565.5 420.4L1566.8 422.7L1568.0 422.7L1569.3 422.7L1570.5 420.4L1571.8 418.0L1573.0 418.0L1574.2 422.7L1575.5 422.7L1576.7 420.4L1578.0 420.4L1579.2 422.7L1580.5 418.0L1581.7 420.4L1583.0 418.0L1584.2 420.4L1585.5 420.4L1586.7 420.4L1588.0 422.7L1589.2 420.4L1590.4 422.7L1591.7 420.4L1592.9 422.7L1594.2 422.7L1595.4 420.4L1596.7 418.0L1597.9 418.0L1599.2 418.0L1600.4 422.7L1601.7 422.7L1602.9 422.7L1604.2 420.4L1605.4 425.1L1606.7 420.4L1607.9 420.4L1609.1 422.7L1610.4 420.4L1611.6 418.0L1612.9 420.4L1614.1 420.4L1615.4 420.4L1616.6 420.4L1617.9 420.4L1619.1 422.7L1620.4 418.0L1621.6 422.7L1622.9 422.7L1624.1 420.4L1625.3 422.7L1626.6 420.4L1627.8 420.4L1629.1 420.4L1630.3 420.4L1631.6 420.4L1632.8 420.4L1634.1 422.7L1635.3 422.7L1636.6 418.0L1637.8 420.4L1639.1 425.1L1640.3 422.7L1641.5 420.4L1642.8 422.7L1644.0 420.4L1645.3 420.4L1646.5 420.4L1647.8 422.7L1649.0 420.4L1650.3 418.0L1651.5 422.7L1652.8 420.4L1654.0 420.4L1655.3 420.4L1656.5 420.4L1657.8 422.7L1659.0 422.7L1660.2 420.4L1661.5 420.4L1662.7 420.4L1664.0 420.4L1665.2 420.4L1666.5 422.7L1667.7 422.7L1669.0 420.4L1670.2 420.4L1671.5 420.4L1672.7 425.1L1674.0 422.7L1675.2 425.1L1676.5 420.4L1677.7 422.7L1678.9 422.7L1680.2 420.4L1681.4 420.4L1682.7 420.4L1683.9 422.7L1685.2 425.1L1686.4 420.4L1687.7 420.4L1688.9 420.4L1690.2 420.4L1691.4 420.4L1692.7 420.4L1693.9 422.7L1695.1 422.7L1696.4 420.4L1697.6 422.7L1698.9 418.0L1700.1 425.1L1701.4 422.7L1702.6 420.4L1703.9 422.7L1705.1 422.7L1706.4 425.1L1707.6 422.7L1708.9 420.4L1710.1 420.4L1711.3 420.4L1712.6 422.7L1713.8 420.4L1715.1 422.7L1716.3 422.7L1717.6 422.7L1718.8 422.7L1720.1 420.4L1721.3 422.7L1722.6 420.4L1723.8 418.0L1725.1 422.7L1726.3 425.1L1727.6 420.4L1728.8 420.4L1730.0 422.7L1731.3 422.7L1732.5 422.7L1733.8 420.4L1735.0 422.7L1736.3 420.4L1737.5 425.1L1738.8 422.7L1740.0 422.7L1741.3 422.7L1742.5 420.4L1743.8 422.7L1745.0 422.7L1746.2 422.7L1747.5 422.7L1748.7 425.1L1750.0 425.1L1751.2 422.7L1752.5 422.7L1753.7 422.7L1755.0 420.4L1756.2 420.4L1757.5 420.4L1758.7 420.4L1760.0 422.7L1761.2 420.4L1762.5 420.4L1763.7 422.7L1764.9 422.7L1766.2 420.4L1767.4 422.7L1768.7 420.4L1769.9 422.7L1771.2 420.4L1772.4 422.7L1773.7 422.7L1774.9 422.7L1776.2 420.4L1777.4 425.1L1778.7 422.7L1779.9 420.4L1781.2 422.7L1782.4 422.7L1783.6 422.7L1784.9 425.1L1786.1 425.1L1787.4 422.7L1788.6 422.7L1789.9 420.4L1791.1 425.1L1792.4 420.4L1793.6 425.1L1794.9 425.1L1796.1 422.7L1797.4 420.4L1798.6 422.7L1799.8 425.1L1801.1 422.7L1802.3 422.7L1803.6 425.1L1804.8 425.1L1806.1 425.1L1807.3 422.7L1808.6 422.7L1809.8 425.1L1811.1 418.0L1812.3 422.7L1813.6 422.7L1814.8 422.7L1816.0 422.7L1817.3 418.0L1818.5 420.4L1819.8 422.7L1821.0 422.7L1822.3 422.7L1823.5 422.7L1824.8 422.7L1826.0 425.1L1827.3 420.4L1828.5 422.7L1829.8 422.7L1831.0 422.7L1832.3 427.5L1833.5 425.1L1834.7 422.7L1836.0 422.7L1837.2 422.7L1838.5 422.7L1839.7 425.1L1841.0 422.7L1842.2 425.1L1843.5 427.5L1844.7 420.4L1846.0 425.1L1847.2 425.1L1848.5 420.4L1849.7 422.7L1851.0 425.1L1852.2 425.1L1853.4 422.7L1854.7 425.1L1855.9 422.7L1857.2 422.7L1858.4 422.7L1859.7 422.7L1860.9 422.7L1862.2 420.4L1863.4 420.4L1864.7 427.5L1865.9 422.7L1867.2 425.1L1868.4 425.1L1869.6 422.7L1870.9 425.1L1872.1 425.1L1873.4 422.7L1874.6 425.1L1875.9 425.1L1877.1 422.7L1878.4 422.7L1879.6 422.7L1880.9 427.5L1882.1 425.1L1883.4 425.1L1884.6 420.4L1885.8 422.7L1887.1 422.7L1888.3 422.7L1889.6 425.1L1890.8 422.7L1892.1 422.7L1893.3 425.1L1894.6 425.1L1895.8 422.7L1897.1 425.1L1898.3 422.7L1899.6 422.7L1900.8 422.7L1902.1 425.1L1903.3 425.1L1904.5 422.7L1905.8 422.7L1907.0 425.1L1908.3 425.1L1909.5 422.7L1910.8 425.1L1912.0 422.7L1913.3 420.4L1914.5 425.1L1915.8 425.1L1917.0 425.1L1918.3 425.1L1919.5 422.7L1920.8 425.1L1922.0 427.5L1923.2 425.1L1924.5 425.1L1925.7 422.7L1927.0 425.1L1928.2 422.7L1929.5 425.1L1930.7 425.1L1932.0 422.7L1933.2 422.7L1934.5 425.1L1935.7 425.1L1937.0 422.7L1938.2 427.5L1939.4 425.1L1940.7 422.7L1941.9 422.7L1943.2 425.1L1944.4 425.1L1945.7 425.1L1946.9 425.1L1948.2 425.1L1949.4 425.1L1950.7 425.1L1951.9 427.5L1953.2 425.1L1954.4 427.5L1955.7 422.7L1956.9 425.1L1958.1 425.1L1959.4 427.5L1960.6 425.1L1961.9 425.1L1963.1 422.7L1964.4 427.5L1965.6 422.7L1966.9 425.1L1968.1 427.5L1969.4 425.1L1970.6 425.1L1971.9 425.1L1973.1 425.1L1974.3 425.1L1975.6 425.1L1976.8 425.1L1978.1 427.5L1979.3 425.1L1980.6 425.1L1981.8 422.7L1983.1 425.1L1984.3 422.7L1985.6 425.1L1986.8 427.5L1988.1 425.1L1989.3 427.5L1990.5 425.1L1991.8 422.7L1993.0 425.1L1994.3 425.1L1995.5 420.4L1996.8 425.1L1998.0 425.1L1999.3 425.1L2000.5 425.1L2001.8 425.1L2003.0 425.1L2004.3 429.8L2005.5 422.7L2006.8 427.5L2008.0 427.5L2009.2 425.1L2010.5 425.1L2011.7 427.5L2013.0 425.1L2014.2 427.5L2015.5 427.5L2016.7 427.5L2018.0 427.5L2019.2 425.1L2020.5 425.1L2021.7 425.1L2023.0 425.1L2024.2 425.1L2025.5 427.5L2026.7 425.1L2027.9 422.7L2029.2 425.1L2030.4 425.1L2031.7 425.1L2032.9 425.1L2034.2 425.1L2035.4 425.1L2036.7 425.1L2037.9 427.5L2039.2 427.5L2040.4 425.1L2041.7 425.1L2042.9 425.1L2044.1 425.1L2045.4 427.5L2046.6 425.1L2047.9 425.1L2049.1 427.5L2050.4 425.1L2051.6 425.1L2052.9 422.7L2054.1 427.5L2055.4 427.5L2056.6 425.1L2057.9 429.8L2059.1 427.5L2060.3 427.5L2061.6 427.5L2062.8 429.8L2064.1 425.1L2065.3 425.1L2066.6 425.1L2067.8 425.1L2069.1 427.5L2070.3 422.7L2071.6 425.1L2072.8 425.1L2074.1 427.5L2075.3 425.1L2076.6 427.5L2077.8 425.1L2079.0 425.1L2080.3 427.5L2081.5 425.1L2082.8 425.1L2084.0 425.1L2085.3 425.1L2086.5 427.5L2087.8 427.5L2089.0 427.5L2090.3 425.1L2091.5 425.1L2092.8 425.1L2094.0 425.1L2095.2 427.5L2096.5 425.1L2097.7 427.5L2099.0 429.8L2100.2 429.8L2101.5 427.5L2102.7 427.5L2104.0 422.7L2105.2 425.1L2106.5 427.5L2107.7 427.5L2109.0 422.7L2110.2 427.5L2111.5 425.1L2112.7 425.1L2113.9 422.7L2115.2 425.1L2116.4 427.5L2117.7 425.1L2118.9 425.1L2120.2 425.1L2121.4 425.1L2122.7 422.7L2123.9 425.1L2125.2 425.1L2126.4 427.5L2127.7 425.1L2128.9 425.1L2130.2 425.1L2131.4 425.1L2132.6 427.5L2133.9 427.5L2135.1 425.1L2136.4 427.5L2137.6 427.5L2138.9 425.1L2140.1 425.1L2141.4 429.8L2142.6 427.5L2143.9 425.1L2145.1 425.1L2146.4 427.5L2147.6 422.7L2148.8 427.5L2150.1 427.5L2151.3 425.1L2152.6 427.5L2153.8 425.1L2155.1 425.1L2156.3 427.5L2157.6 425.1L2158.8 427.5L2160.1 427.5L2161.3 422.7L2162.6 425.1L2163.8 425.1L2165.1 427.5L2166.3 427.5L2167.5 427.5L2168.8 425.1L2170.0 427.5L2171.3 427.5L2172.5 425.1L2173.8 425.1L2175.0 425.1L2176.3 425.1L2177.5 425.1L2178.8 427.5L2180.0 429.8L2181.3 422.7L2182.5 425.1L2183.7 427.5L2185.0 425.1L2186.2 427.5L2187.5 429.8L2188.7 425.1L2190.0 429.8L2191.2 425.1L2192.5 427.5L2193.7 425.1L2195.0 422.7L2196.2 422.7L2197.5 427.5L2198.7 425.1L2199.9 427.5L2201.2 427.5L2202.4 425.1L2203.7 425.1L2204.9 427.5L2206.2 425.1L2207.4 427.5L2208.7 429.8L2209.9 427.5L2211.2 425.1L2212.4 427.5L2213.7 425.1L2214.9 425.1L2216.2 427.5L2217.4 425.1L2218.6 425.1L2219.9 425.1L2221.1 425.1L2222.4 427.5L2223.6 427.5L2224.9 427.5L2226.1 427.5L2227.4 427.5L2228.6 425.1L2229.9 425.1L2231.1 427.5L2232.4 425.1L2233.6 429.8L2234.8 427.5L2236.1 427.5L2237.3 429.8L2238.6 427.5L2239.8 427.5L2241.1 427.5L2242.3 427.5L2243.6 427.5L2244.8 427.5L2246.1 427.5L2247.3 427.5L2248.6 429.8L2249.8 427.5L2251.1 425.1L2252.3 425.1L2253.5 425.1L2254.8 427.5L2256.0 427.5L2257.3 429.8L2258.5 427.5L2259.8 425.1L2261.0 425.1L2262.3 432.2L2263.5 427.5L2264.8 427.5L2266.0 429.8L2267.3 427.5L2268.5 427.5L2269.8 427.5L2271.0 427.5L2272.2 429.8L2273.5 429.8L2274.7 429.8L2276.0 425.1L2277.2 429.8L2278.5 427.5L2279.7 425.1L2281.0 427.5L2282.2 425.1L2283.5 427.5L2284.7 427.5L2286.0 425.1L2287.2 422.7L2288.4 425.1L2289.7 425.1L2290.9 427.5L2292.2 427.5L2293.4 425.1L2294.7 427.5L2295.9 425.1L2297.2 427.5L2298.4 425.1L2299.7 422.7L2300.9 429.8L2302.2 425.1L2303.4 427.5L2304.7 427.5L2305.9 427.5L2307.1 427.5L2308.4 429.8L2309.6 429.8L2310.9 429.8L2312.1 427.5L2313.4 425.1L2314.6 427.5L2315.9 427.5L2317.1 427.5L2318.4 429.8L2319.6 427.5L2320.9 427.5L2322.1 427.5L2323.3 425.1L2324.6 427.5L2325.8 427.5L2327.1 432.2L2328.3 427.5L2329.6 427.5L2330.8 429.8L2332.1 427.5L2333.3 429.8L2334.6 429.8L2335.8 425.1L2337.1 427.5L2338.3 425.1L2339.6 427.5L2340.8 427.5L2342.0 427.5L2343.3 425.1L2344.5 427.5L2345.8 427.5L2347.0 427.5L2348.3 427.5L2349.5 432.2L2350.8 432.2L2352.0 425.1L2353.3 425.1L2354.5 429.8L2355.8 427.5L2357.0 427.5"/>
<path stroke="#fec23f" stroke-width="8.0" stroke-dasharray="20 28 0.01 27" d="M263.0 907.0L264.2 902.3L265.5 895.2L266.7 885.8L268.0 876.3L269.2 864.5L270.5 855.1L271.7 845.6L273.0 840.9L274.2 831.4L275.5 826.7L276.7 819.6L278.0 817.3L279.2 812.6L280.4 810.2L281.7 800.7L282.9 803.1L284.2 796.0L285.4 793.6L286.7 791.3L287.9 784.2L289.2 779.5L290.4 772.4L291.7 767.7L292.9 760.6L294.2 760.6L295.4 755.8L296.7 753.5L297.9 746.4L299.1 748.8L300.4 741.7L301.6 737.0L302.9 734.6L304.1 727.5L305.4 725.1L306.6 720.4L307.9 715.7L309.1 713.3L310.4 711.0L311.6 706.2L312.9 701.5L314.1 696.8L315.4 696.8L316.6 692.1L317.8 689.7L319.1 685.0L320.3 680.2L321.6 675.5L322.8 670.8L324.1 670.8L325.3 666.1L326.6 661.3L327.8 661.3L329.1 656.6L330.3 651.9L331.6 649.5L332.8 649.5L334.0 642.5L335.3 642.5L336.5 637.7L337.8 635.4L339.0 633.0L340.3 628.3L341.5 628.3L342.8 625.9L344.0 623.5L345.3 621.2L346.5 616.5L347.8 618.8L349.0 616.5L350.2 609.4L351.5 611.7L352.7 611.7L354.0 604.6L355.2 607.0L356.5 602.3L357.7 602.3L359.0 599.9L360.2 599.9L361.5 599.9L362.7 595.2L364.0 592.8L365.2 590.5L366.5 585.8L367.7 588.1L368.9 583.4L370.2 585.8L371.4 583.4L372.7 583.4L373.9 581.0L375.2 578.7L376.4 576.3L377.7 573.9L378.9 571.6L380.2 569.2L381.4 569.2L382.7 566.8L383.9 564.5L385.1 562.1L386.4 562.1L387.6 562.1L388.9 559.8L390.1 557.4L391.4 557.4L392.6 557.4L393.9 555.0L395.1 555.0L396.4 552.7L397.6 555.0L398.9 550.3L400.1 550.3L401.4 550.3L402.6 548.0L403.8 548.0L405.1 548.0L406.3 543.2L407.6 543.2L408.8 545.6L410.1 540.9L411.3 543.2L412.6 538.5L413.8 538.5L415.1 536.1L416.3 533.8L417.6 531.4L418.8 533.8L420.1 531.4L421.3 529.0L422.5 526.7L423.8 529.0L425.0 526.7L426.3 524.3L427.5 524.3L428.8 522.0L430.0 522.0L431.3 522.0L432.5 519.6L433.8 522.0L435.0 517.2L436.3 514.9L437.5 517.2L438.7 512.5L440.0 512.5L441.2 512.5L442.5 510.1L443.7 510.1L445.0 510.1L446.2 507.8L447.5 507.8L448.7 505.4L450.0 503.1L451.2 505.4L452.5 500.7L453.7 503.1L454.9 500.7L456.2 498.3L457.4 498.3L458.7 498.3L459.9 496.0L461.2 496.0L462.4 496.0L463.7 493.6L464.9 493.6L466.2 493.6L467.4 488.9L468.7 491.2L469.9 493.6L471.2 491.2L472.4 486.5L473.6 488.9L474.9 488.9L476.1 486.5L477.4 484.2L478.6 484.2L479.9 484.2L481.1 484.2L482.4 481.8L483.6 481.8L484.9 481.8L486.1 479.4L487.4 479.4L488.6 479.4L489.9 477.1L491.1 477.1L492.3 479.4L493.6 474.7L494.8 474.7L496.1 474.7L497.3 474.7L498.6 474.7L499.8 474.7L501.1 472.3L502.3 472.3L503.6 472.3L504.8 472.3L506.1 472.3L507.3 470.0L508.5 467.6L509.8 467.6L511.0 467.6L512.3 467.6L513.5 467.6L514.8 465.3L516.0 467.6L517.3 465.3L518.5 467.6L519.8 465.3L521.0 462.9L522.3 465.3L523.5 465.3L524.8 462.9L526.0 460.5L527.2 462.9L528.5 460.5L529.7 460.5L531.0 460.5L532.2 460.5L533.5 460.5L534.7 458.2L536.0 458.2L537.2 458.2L538.5 455.8L539.7 458.2L541.0 458.2L542.2 458.2L543.4 458.2L544.7 458.2L545.9 458.2L547.2 455.8L548.4 455.8L549.7 455.8L550.9 458.2L552.2 455.8L553.4 455.8L554.7 455.8L555.9 455.8L557.2 453.4L558.4 455.8L559.6 453.4L560.9 455.8L562.1 453.4L563.4 453.4L564.6 451.1L565.9 451.1L567.1 451.1L568.4 451.1L569.6 451.1L570.9 451.1L572.1 451.1L573.4 448.7L574.6 448.7L575.9 448.7L577.1 446.4L578.3 448.7L579.6 446.4L580.8 446.4L582.1 446.4L583.3 446.4L584.6 444.0L585.8 444.0L587.1 444.0L588.3 444.0L589.6 444.0L590.8 444.0L592.1 444.0L593.3 444.0L594.5 441.6L595.8 441.6L597.0 441.6L598.3 444.0L599.5 444.0L600.8 441.6L602.0 441.6L603.3 441.6L604.5 441.6L605.8 441.6L607.0 439.3L608.3 441.6L609.5 439.3L610.8 441.6L612.0 439.3L613.2 439.3L614.5 439.3L615.7 439.3L617.0 439.3L618.2 439.3L619.5 439.3L620.7 439.3L622.0 439.3L623.2 439.3L624.5 436.9L625.7 436.9L627.0 436.9L628.2 436.9L629.5 436.9L630.7 436.9L631.9 436.9L633.2 436.9L634.4 439.3L635.7 436.9L636.9 436.9L638.2 436.9L639.4 436.9L640.7 436.9L641.9 436.9L643.2 436.9L644.4 436.9L645.7 436.9L646.9 436.9L648.1 436.9L649.4 436.9L650.6 436.9L651.9 434.5L653.1 436.9L654.4 436.9L655.6 436.9L656.9 436.9L658.1 436.9L659.4 434.5L660.6 436.9L661.9 434.5L663.1 434.5L664.4 436.9L665.6 434.5L666.8 434.5L668.1 434.5L669.3 434.5L670.6 434.5L671.8 434.5L673.1 434.5L674.3 434.5L675.6 434.5L676.8 434.5L678.1 434.5L679.3 434.5L680.6 434.5L681.8 434.5L683.0 434.5L684.3 434.5L685.5 434.5L686.8 434.5L688.0 432.2L689.3 434.5L690.5 434.5L691.8 432.2L693.0 434.5L694.3 432.2L695.5 434.5L696.8 432.2L698.0 432.2L699.2 434.5L700.5 432.2L701.7 434.5L703.0 432.2L704.2 432.2L705.5 432.2L706.7 432.2L708.0 434.5L709.2 432.2L710.5 432.2L711.7 432.2L713.0 432.2L714.2 432.2L715.5 432.2L716.7 432.2L717.9 434.5L719.2 429.8L720.4 432.2L721.7 432.2L722.9 432.2L724.2 434.5L725.4 432.2L726.7 432.2L727.9 432.2L729.2 432.2L730.4 434.5L731.7 432.2L732.9 432.2L734.1 434.5L735.4 432.2L736.6 432.2L737.9 432.2L739.1 432.2L740.4 432.2L741.6 432.2L742.9 432.2L744.1 432.2L745.4 432.2L746.6 434.5L747.9 434.5L749.1 432.2L750.4 432.2L751.6 429.8L752.8 432.2L754.1 432.2L755.3 432.2L756.6 432.2L757.8 432.2L759.1 432.2L760.3 432.2L761.6 434.5L762.8 432.2L764.1 429.8L765.3 432.2L766.6 429.8L767.8 432.2L769.0 432.2L770.3 432.2L771.5 432.2L772.8 432.2L774.0 432.2L775.3 429.8L776.5 432.2L777.8 429.8L779.0 432.2L780.3 429.8L781.5 432.2L782.8 432.2L784.0 432.2L785.3 429.8L786.5 432.2L787.7 432.2L789.0 432.2L790.2 432.2L791.5 432.2L792.7 432.2L794.0 432.2L795.2 429.8L796.5 432.2L797.7 429.8L799.0 429.8L800.2 432.2L801.5 429.8L802.7 429.8L804.0 432.2L805.2 429.8L806.4 432.2L807.7 429.8L808.9 429.8L810.2 429.8L811.4 432.2L812.7 432.2L813.9 429.8L815.2 429.8L816.4 429.8L817.7 429.8L818.9 429.8L820.2 429.8L821.4 429.8L822.6 432.2L823.9 429.8L825.1 429.8L826.4 429.8L827.6 429.8L828.9 429.8L830.1 429.8L831.4 429.8L832.6 429.8L833.9 427.5L835.1 429.8L836.4 427.5L837.6 427.5L838.9 429.8L840.1 427.5L841.3 427.5L842.6 429.8L843.8 427.5L845.1 427.5L846.3 427.5L847.6 427.5L848.8 429.8L850.1 427.5L851.3 427.5L852.6 427.5L853.8 427.5L855.1 427.5L856.3 427.5L857.5 427.5L858.8 427.5L860.0 427.5L861.3 429.8L862.5 429.8L863.8 427.5L865.0 427.5L866.3 427.5L867.5 427.5L868.8 427.5L870.0 427.5L871.3 427.5L872.5 427.5L873.8 427.5L875.0 427.5L876.2 427.5L877.5 427.5L878.7 427.5L880.0 427.5L881.2 427.5L882.5 427.5L883.7 425.1L885.0 427.5L886.2 427.5L887.5 427.5L888.7 427.5L890.0 427.5L891.2 425.1L892.4 427.5L893.7 425.1L894.9 425.1L896.2 427.5L897.4 425.1L898.7 427.5L899.9 425.1L901.2 427.5L902.4 427.5L903.7 427.5L904.9 425.1L906.2 425.1L907.4 425.1L908.6 425.1L909.9 425.1L911.1 425.1L912.4 425.1L913.6 427.5L914.9 425.1L916.1 425.1L917.4 427.5L918.6 425.1L919.9 427.5L921.1 427.5L922.4 425.1L923.6 427.5L924.9 427.5L926.1 427.5L927.3 425.1L928.6 425.1L929.8 425.1L931.1 425.1L932.3 427.5L933.6 425.1L934.8 427.5L936.1 425.1L937.3 427.5L938.6 425.1L939.8 425.1L941.1 425.1L942.3 427.5L943.5 425.1L944.8 425.1L946.0 425.1L947.3 425.1L948.5 425.1L949.8 425.1L951.0 425.1L952.3 425.1L953.5 425.1L954.8 425.1L956.0 425.1L957.3 427.5L958.5 422.7L959.8 425.1L961.0 427.5L962.2 425.1L963.5 422.7L964.7 422.7L966.0 425.1L967.2 427.5L968.5 425.1L969.7 422.7L971.0 425.1L972.2 425.1L973.5 425.1L974.7 425.1L976.0 425.1L977.2 425.1L978.5 425.1L979.7 422.7L980.9 425.1L982.2 425.1L983.4 425.1L984.7 422.7L985.9 422.7L987.2 425.1L988.4 427.5L989.7 425.1L990.9 425.1L992.2 422.7L993.4 422.7L994.7 422.7L995.9 422.7L997.1 422.7L998.4 425.1L999.6 425.1L1000.9 425.1L1002.1 425.1L1003.4 425.1L1004.6 425.1L1005.9 425.1L1007.1 425.1L1008.4 425.1L1009.6 422.7L1010.9 425.1L1012.1 420.4L1013.4 422.7L1014.6 425.1L1015.8 422.7L1017.1 422.7L1018.3 425.1L1019.6 422.7L1020.8 422.7L1022.1 422.7L1023.3 425.1L1024.6 422.7L1025.8 422.7L1027.1 422.7L1028.3 425.1L1029.6 422.7L1030.8 425.1L1032.0 422.7L1033.3 425.1L1034.5 422.7L1035.8 422.7L1037.0 422.7L1038.3 422.7L1039.5 425.1L1040.8 420.4L1042.0 425.1L1043.3 422.7L1044.5 422.7L1045.8 422.7L1047.0 422.7L1048.2 425.1L1049.5 422.7L1050.7 425.1L1052.0 422.7L1053.2 422.7L1054.5 422.7L1055.7 422.7L1057.0 422.7L1058.2 425.1L1059.5 425.1L1060.7 422.7L1062.0 422.7L1063.2 425.1L1064.5 422.7L1065.7 425.1L1066.9 422.7L1068.2 422.7L1069.4 425.1L1070.7 422.7L1071.9 422.7L1073.2 422.7L1074.4 422.7L1075.7 422.7L1076.9 425.1L1078.2 425.1L1079.4 422.7L1080.7 422.7L1081.9 422.7L1083.2 420.4L1084.4 422.7L1085.6 422.7L1086.9 420.4L1088.1 425.1L1089.4 422.7L1090.6 422.7L1091.9 422.7L1093.1 420.4L1094.4 425.1L1095.6 422.7L1096.9 425.1L1098.1 425.1L1099.4 422.7L1100.6 422.7L1101.8 422.7L1103.1 422.7L1104.3 422.7L1105.6 425.1L1106.8 422.7L1108.1 422.7L1109.3 425.1L1110.6 422.7L1111.8 420.4L1113.1 422.7L1114.3 422.7L1115.6 422.7L1116.8 422.7L1118.0 422.7L1119.3 422.7L1120.5 422.7L1121.8 422.7L1123.0 422.7L1124.3 422.7L1125.5 422.7L1126.8 425.1L1128.0 420.4L1129.3 425.1L1130.5 422.7L1131.8 422.7L1133.0 422.7L1134.3 422.7L1135.5 422.7L1136.7 425.1L1138.0 422.7L1139.2 425.1L1140.5 422.7L1141.7 422.7L1143.0 422.7L1144.2 420.4L1145.5 420.4L1146.7 422.7L1148.0 422.7L1149.2 422.7L1150.5 425.1L1151.7 422.7L1153.0 420.4L1154.2 422.7L1155.4 425.1L1156.7 422.7L1157.9 422.7L1159.2 422.7L1160.4 422.7L1161.7 425.1L1162.9 425.1L1164.2 422.7L1165.4 425.1L1166.7 422.7L1167.9 422.7L1169.2 422.7L1170.4 422.7L1171.6 422.7L1172.9 422.7L1174.1 422.7L1175.4 425.1L1176.6 420.4L1177.9 422.7L1179.1 422.7L1180.4 422.7L1181.6 425.1L1182.9 422.7L1184.1 422.7L1185.4 425.1L1186.6 420.4L1187.8 422.7L1189.1 422.7L1190.3 422.7L1191.6 420.4L1192.8 425.1L1194.1 422.7L1195.3 422.7L1196.6 422.7L1197.8 427.5L1199.1 422.7L1200.3 422.7L1201.6 422.7L1202.8 422.7L1204.1 422.7L1205.3 422.7L1206.5 422.7L1207.8 422.7L1209.0 422.7L1210.3 422.7L1211.5 425.1L1212.8 422.7L1214.0 422.7L1215.3 422.7L1216.5 425.1L1217.8 422.7L1219.0 422.7L1220.3 425.1L1221.5 422.7L1222.8 425.1L1224.0 420.4L1225.2 422.7L1226.5 422.7L1227.7 420.4L1229.0 422.7L1230.2 422.7L1231.5 425.1L1232.7 422.7L1234.0 420.4L1235.2 422.7L1236.5 425.1L1237.7 420.4L1239.0 420.4L1240.2 422.7L1241.4 422.7L1242.7 425.1L1243.9 425.1L1245.2 422.7L1246.4 422.7L1247.7 422.7L1248.9 422.7L1250.2 425.1L1251.4 422.7L1252.7 425.1L1253.9 420.4L1255.2 425.1L1256.4 422.7L1257.7 422.7L1258.9 425.1L1260.1 422.7L1261.4 422.7L1262.6 425.1L1263.9 425.1L1265.1 422.7L1266.4 422.7L1267.6 425.1L1268.9 422.7L1270.1 422.7L1271.4 425.1L1272.6 422.7L1273.9 422.7L1275.1 422.7L1276.3 422.7L1277.6 425.1L1278.8 420.4L1280.1 422.7L1281.3 422.7L1282.6 425.1L1283.8 422.7L1285.1 422.7L1286.3 422.7L1287.6 422.7L1288.8 420.4L1290.1 422.7L1291.3 422.7L1292.5 422.7L1293.8 422.7L1295.0 420.4L1296.3 422.7L1297.5 422.7L1298.8 422.7L1300.0 422.7L1301.3 422.7L1302.5 422.7L1303.8 425.1L1305.0 422.7L1306.3 425.1L1307.5 422.7L1308.8 422.7L1310.0 422.7L1311.2 425.1L1312.5 420.4L1313.7 422.7L1315.0 420.4L1316.2 420.4L1317.5 425.1L1318.7 422.7L1320.0 422.7L1321.2 422.7L1322.5 422.7L1323.7 422.7L1325.0 422.7L1326.2 425.1L1327.5 422.7L1328.7 422.7L1329.9 422.7L1331.2 422.7L1332.4 422.7L1333.7 425.1L1334.9 422.7L1336.2 422.7L1337.4 422.7L1338.7 422.7L1339.9 422.7L1341.2 422.7L1342.4 422.7L1343.7 422.7L1344.9 422.7L1346.1 422.7L1347.4 425.1L1348.6 420.4L1349.9 425.1L1351.1 422.7L1352.4 425.1L1353.6 425.1L1354.9 422.7L1356.1 422.7L1357.4 420.4L1358.6 425.1L1359.9 422.7L1361.1 425.1L1362.3 422.7L1363.6 422.7L1364.8 422.7L1366.1 422.7L1367.3 422.7L1368.6 422.7L1369.8 422.7L1371.1 422.7L1372.3 425.1L1373.6 425.1L1374.8 425.1L1376.1 422.7L1377.3 425.1L1378.6 422.7L1379.8 425.1L1381.0 425.1L1382.3 425.1L1383.5 422.7L1384.8 422.7L1386.0 422.7L1387.3 420.4L1388.5 420.4L1389.8 425.1L1391.0 422.7L1392.3 425.1L1393.5 425.1L1394.8 425.1L1396.0 422.7L1397.2 422.7L1398.5 425.1L1399.7 420.4L1401.0 422.7L1402.2 422.7L1403.5 420.4L1404.7 422.7L1406.0 425.1L1407.2 425.1L1408.5 422.7L1409.7 422.7L1411.0 422.7L1412.2 422.7L1413.5 422.7L1414.7 425.1L1415.9 422.7L1417.2 422.7L1418.4 425.1L1419.7 425.1L1420.9 422.7L1422.2 422.7L1423.4 422.7L1424.7 425.1L1425.9 420.4L1427.2 425.1L1428.4 422.7L1429.7 422.7L1430.9 422.7L1432.2 425.1L1433.4 422.7L1434.6 422.7L1435.9 422.7L1437.1 425.1L1438.4 420.4L1439.6 425.1L1440.9 422.7L1442.1 425.1L1443.4 425.1L1444.6 425.1L1445.9 422.7L1447.1 425.1L1448.4 422.7L1449.6 422.7L1450.8 422.7L1452.1 422.7L1453.3 422.7L1454.6 425.1L1455.8 425.1L1457.1 422.7L1458.3 422.7L1459.6 420.4L1460.8 420.4L1462.1 425.1L1463.3 425.1L1464.6 425.1L1465.8 427.5L1467.0 422.7L1468.3 422.7L1469.5 427.5L1470.8 422.7L1472.0 420.4L1473.3 422.7L1474.5 422.7L1475.8 422.7L1477.0 425.1L1478.3 425.1L1479.5 425.1L1480.8 422.7L1482.0 425.1L1483.3 422.7L1484.5 420.4L1485.7 422.7L1487.0 422.7L1488.2 425.1L1489.5 425.1L1490.7 420.4L1492.0 422.7L1493.2 422.7L1494.5 425.1L1495.7 425.1L1497.0 422.7L1498.2 427.5L1499.5 425.1L1500.7 425.1L1502.0 422.7L1503.2 422.7L1504.4 422.7L1505.7 427.5L1506.9 422.7L1508.2 427.5L1509.4 422.7L1510.7 425.1L1511.9 425.1L1513.2 425.1L1514.4 425.1L1515.7 425.1L1516.9 422.7L1518.2 422.7L1519.4 422.7L1520.6 422.7L1521.9 422.7L1523.1 420.4L1524.4 422.7L1525.6 425.1L1526.9 425.1L1528.1 425.1L1529.4 425.1L1530.6 425.1L1531.9 422.7L1533.1 422.7L1534.4 425.1L1535.6 422.7L1536.8 425.1L1538.1 425.1L1539.3 427.5L1540.6 425.1L1541.8 425.1L1543.1 420.4L1544.3 425.1L1545.6 425.1L1546.8 425.1L1548.1 427.5L1549.3 422.7L1550.6 425.1L1551.8 425.1L1553.1 427.5L1554.3 425.1L1555.5 425.1L1556.8 422.7L1558.0 425.1L1559.3 422.7L1560.5 425.1L1561.8 422.7L1563.0 422.7L1564.3 422.7L1565.5 425.1L1566.8 425.1L1568.0 425.1L1569.3 425.1L1570.5 422.7L1571.8 425.1L1573.0 420.4L1574.2 425.1L1575.5 422.7L1576.7 425.1L1578.0 425.1L1579.2 422.7L1580.5 422.7L1581.7 422.7L1583.0 425.1L1584.2 425.1L1585.5 425.1L1586.7 422.7L1588.0 427.5L1589.2 422.7L1590.4 422.7L1591.7 425.1L1592.9 425.1L1594.2 422.7L1595.4 425.1L1596.7 422.7L1597.9 422.7L1599.2 422.7L1600.4 425.1L1601.7 427.5L1602.9 422.7L1604.2 425.1L1605.4 422.7L1606.7 425.1L1607.9 422.7L1609.1 425.1L1610.4 422.7L1611.6 422.7L1612.9 425.1L1614.1 425.1L1615.4 425.1L1616.6 425.1L1617.9 422.7L1619.1 425.1L1620.4 427.5L1621.6 425.1L1622.9 425.1L1624.1 425.1L1625.3 425.1L1626.6 425.1L1627.8 427.5L1629.1 422.7L1630.3 422.7L1631.6 425.1L1632.8 427.5L1634.1 422.7L1635.3 425.1L1636.6 429.8L1637.8 425.1L1639.1 427.5L1640.3 427.5L1641.5 422.7L1642.8 422.7L1644.0 425.1L1645.3 425.1L1646.5 422.7L1647.8 427.5L1649.0 422.7L1650.3 425.1L1651.5 422.7L1652.8 425.1L1654.0 425.1L1655.3 422.7L1656.5 425.1L1657.8 422.7L1659.0 425.1L1660.2 425.1L1661.5 425.1L1662.7 422.7L1664.0 425.1L1665.2 425.1L1666.5 422.7L1667.7 425.1L1669.0 425.1L1670.2 425.1L1671.5 425.1L1672.7 425.1L1674.0 425.1L1675.2 427.5L1676.5 422.7L1677.7 427.5L1678.9 422.7L1680.2 425.1L1681.4 420.4L1682.7 422.7L1683.9 425.1L1685.2 422.7L1686.4 427.5L1687.7 425.1L1688.9 425.1L1690.2 425.1L1691.4 427.5L1692.7 427.5L1693.9 425.1L1695.1 425.1L1696.4 425.1L1697.6 425.1L1698.9 425.1L1700.1 425.1L1701.4 425.1L1702.6 425.1L1703.9 425.1L1705.1 425.1L1706.4 427.5L1707.6 425.1L1708.9 425.1L1710.1 427.5L1711.3 425.1L1712.6 425.1L1713.8 425.1L1715.1 425.1L1716.3 422.7L1717.6 427.5L1718.8 425.1L1720.1 422.7L1721.3 425.1L1722.6 425.1L1723.8 427.5L1725.1 425.1L1726.3 425.1L1727.6 425.1L1728.8 425.1L1730.0 422.7L1731.3 425.1L1732.5 427.5L1733.8 425.1L1735.0 425.1L1736.3 422.7L1737.5 425.1L1738.8 425.1L1740.0 425.1L1741.3 425.1L1742.5 427.5L1743.8 425.1L1745.0 422.7L1746.2 427.5L1747.5 427.5L1748.7 425.1L1750.0 427.5L1751.2 425.1L1752.5 427.5L1753.7 425.1L1755.0 427.5L1756.2 427.5L1757.5 427.5L1758.7 427.5L1760.0 425.1L1761.2 425.1L1762.5 425.1L1763.7 425.1L1764.9 429.8L1766.2 425.1L1767.4 427.5L1768.7 422.7L1769.9 422.7L1771.2 425.1L1772.4 425.1L1773.7 425.1L1774.9 427.5L1776.2 427.5L1777.4 427.5L1778.7 425.1L1779.9 425.1L1781.2 425.1L1782.4 425.1L1783.6 427.5L1784.9 427.5L1786.1 425.1L1787.4 425.1L1788.6 427.5L1789.9 425.1L1791.1 427.5L1792.4 427.5L1793.6 425.1L1794.9 427.5L1796.1 425.1L1797.4 425.1L1798.6 425.1L1799.8 425.1L1801.1 427.5L1802.3 427.5L1803.6 425.1L1804.8 425.1L1806.1 425.1L1807.3 425.1L1808.6 425.1L1809.8 425.1L1811.1 427.5L1812.3 425.1L1813.6 425.1L1814.8 427.5L1816.0 427.5L1817.3 425.1L1818.5 427.5L1819.8 425.1L1821.0 427.5L1822.3 425.1L1823.5 422.7L1824.8 425.1L1826.0 427.5L1827.3 427.5L1828.5 427.5L1829.8 427.5L1831.0 427.5L1832.3 425.1L1833.5 422.7L1834.7 425.1L1836.0 427.5L1837.2 427.5L1838.5 427.5L1839.7 427.5L1841.0 425.1L1842.2 427.5L1843.5 427.5L1844.7 425.1L1846.0 425.1L1847.2 425.1L1848.5 425.1L1849.7 427.5L1851.0 429.8L1852.2 425.1L1853.4 425.1L1854.7 425.1L1855.9 429.8L1857.2 427.5L1858.4 425.1L1859.7 425.1L1860.9 425.1L1862.2 427.5L1863.4 425.1L1864.7 427.5L1865.9 427.5L1867.2 427.5L1868.4 427.5L1869.6 425.1L1870.9 425.1L1872.1 429.8L1873.4 427.5L1874.6 427.5L1875.9 429.8L1877.1 427.5L1878.4 427.5L1879.6 427.5L1880.9 427.5L1882.1 427.5L1883.4 429.8L1884.6 427.5L1885.8 427.5L1887.1 427.5L1888.3 427.5L1889.6 427.5L1890.8 429.8L1892.1 425.1L1893.3 425.1L1894.6 427.5L1895.8 429.8L1897.1 425.1L1898.3 427.5L1899.6 429.8L1900.8 427.5L1902.1 425.1L1903.3 427.5L1904.5 427.5L1905.8 425.1L1907.0 427.5L1908.3 427.5L1909.5 427.5L1910.8 427.5L1912.0 427.5L1913.3 427.5L1914.5 427.5L1915.8 427.5L1917.0 427.5L1918.3 427.5L1919.5 427.5L1920.8 427.5L1922.0 427.5L1923.2 427.5L1924.5 427.5L1925.7 429.8L1927.0 427.5L1928.2 427.5L1929.5 427.5L1930.7 429.8L1932.0 427.5L1933.2 427.5L1934.5 429.8L1935.7 427.5L1937.0 427.5L1938.2 427.5L1939.4 427.5L1940.7 427.5L1941.9 429.8L1943.2 427.5L1944.4 429.8L1945.7 427.5L1946.9 427.5L1948.2 427.5L1949.4 427.5L1950.7 427.5L1951.9 427.5L1953.2 429.8L1954.4 429.8L1955.7 427.5L1956.9 425.1L1958.1 427.5L1959.4 427.5L1960.6 429.8L1961.9 427.5L1963.1 427.5L1964.4 429.8L1965.6 427.5L1966.9 427.5L1968.1 432.2L1969.4 427.5L1970.6 427.5L1971.9 427.5L1973.1 427.5L1974.3 429.8L1975.6 429.8L1976.8 427.5L1978.1 429.8L1979.3 429.8L1980.6 427.5L1981.8 429.8L1983.1 429.8L1984.3 425.1L1985.6 427.5L1986.8 429.8L1988.1 427.5L1989.3 427.5L1990.5 427.5L1991.8 429.8L1993.0 427.5L1994.3 427.5L1995.5 425.1L1996.8 427.5L1998.0 429.8L1999.3 427.5L2000.5 427.5L2001.8 427.5L2003.0 427.5L2004.3 427.5L2005.5 427.5L2006.8 427.5L2008.0 429.8L2009.2 427.5L2010.5 429.8L2011.7 427.5L2013.0 429.8L2014.2 427.5L2015.5 427.5L2016.7 429.8L2018.0 427.5L2019.2 427.5L2020.5 427.5L2021.7 429.8L2023.0 429.8L2024.2 427.5L2025.5 427.5L2026.7 427.5L2027.9 429.8L2029.2 427.5L2030.4 429.8L2031.7 427.5L2032.9 429.8L2034.2 427.5L2035.4 427.5L2036.7 427.5L2037.9 427.5L2039.2 429.8L2040.4 427.5L2041.7 425.1L2042.9 429.8L2044.1 429.8L2045.4 427.5L2046.6 429.8L2047.9 427.5L2049.1 427.5L2050.4 427.5L2051.6 425.1L2052.9 425.1L2054.1 427.5L2055.4 429.8L2056.6 427.5L2057.9 427.5L2059.1 429.8L2060.3 429.8L2061.6 429.8L2062.8 429.8L2064.1 429.8L2065.3 425.1L2066.6 429.8L2067.8 427.5L2069.1 429.8L2070.3 427.5L2071.6 427.5L2072.8 427.5L2074.1 429.8L2075.3 427.5L2076.6 429.8L2077.8 427.5L2079.0 427.5L2080.3 427.5L2081.5 429.8L2082.8 427.5L2084.0 427.5L2085.3 429.8L2086.5 429.8L2087.8 429.8L2089.0 429.8L2090.3 427.5L2091.5 429.8L2092.8 427.5L2094.0 427.5L2095.2 429.8L2096.5 432.2L2097.7 427.5L2099.0 429.8L2100.2 427.5L2101.5 427.5L2102.7 427.5L2104.0 429.8L2105.2 429.8L2106.5 427.5L2107.7 429.8L2109.0 427.5L2110.2 425.1L2111.5 429.8L2112.7 427.5L2113.9 427.5L2115.2 429.8L2116.4 427.5L2117.7 427.5L2118.9 429.8L2120.2 427.5L2121.4 427.5L2122.7 429.8L2123.9 427.5L2125.2 429.8L2126.4 425.1L2127.7 427.5L2128.9 429.8L2130.2 427.5L2131.4 429.8L2132.6 427.5L2133.9 427.5L2135.1 429.8L2136.4 429.8L2137.6 427.5L2138.9 429.8L2140.1 429.8L2141.4 427.5L2142.6 427.5L2143.9 429.8L2145.1 427.5L2146.4 432.2L2147.6 429.8L2148.8 429.8L2150.1 429.8L2151.3 429.8L2152.6 429.8L2153.8 429.8L2155.1 427.5L2156.3 427.5L2157.6 427.5L2158.8 427.5L2160.1 432.2L2161.3 427.5L2162.6 427.5L2163.8 427.5L2165.1 429.8L2166.3 429.8L2167.5 429.8L2168.8 429.8L2170.0 429.8L2171.3 429.8L2172.5 429.8L2173.8 432.2L2175.0 429.8L2176.3 429.8L2177.5 429.8L2178.8 429.8L2180.0 429.8L2181.3 429.8L2182.5 429.8L2183.7 429.8L2185.0 427.5L2186.2 429.8L2187.5 429.8L2188.7 427.5L2190.0 427.5L2191.2 427.5L2192.5 429.8L2193.7 427.5L2195.0 429.8L2196.2 429.8L2197.5 429.8L2198.7 427.5L2199.9 427.5L2201.2 427.5L2202.4 429.8L2203.7 429.8L2204.9 427.5L2206.2 429.8L2207.4 427.5L2208.7 429.8L2209.9 427.5L2211.2 429.8L2212.4 427.5L2213.7 427.5L2214.9 429.8L2216.2 429.8L2217.4 429.8L2218.6 432.2L2219.9 429.8L2221.1 429.8L2222.4 429.8L2223.6 427.5L2224.9 432.2L2226.1 429.8L2227.4 432.2L2228.6 427.5L2229.9 432.2L2231.1 429.8L2232.4 427.5L2233.6 427.5L2234.8 429.8L2236.1 427.5L2237.3 429.8L2238.6 429.8L2239.8 429.8L2241.1 429.8L2242.3 429.8L2243.6 432.2L2244.8 427.5L2246.1 432.2L2247.3 429.8L2248.6 427.5L2249.8 429.8L2251.1 429.8L2252.3 429.8L2253.5 429.8L2254.8 427.5L2256.0 429.8L2257.3 429.8L2258.5 429.8L2259.8 429.8L2261.0 432.2L2262.3 429.8L2263.5 427.5L2264.8 429.8L2266.0 427.5L2267.3 429.8L2268.5 427.5L2269.8 429.8L2271.0 429.8L2272.2 429.8L2273.5 429.8L2274.7 429.8L2276.0 429.8L2277.2 429.8L2278.5 432.2L2279.7 432.2L2281.0 429.8L2282.2 429.8L2283.5 427.5L2284.7 429.8L2286.0 429.8L2287.2 427.5L2288.4 429.8L2289.7 429.8L2290.9 427.5L2292.2 427.5L2293.4 429.8L2294.7 429.8L2295.9 432.2L2297.2 429.8L2298.4 429.8L2299.7 429.8L2300.9 429.8L2302.2 429.8L2303.4 429.8L2304.7 432.2L2305.9 429.8L2307.1 429.8L2308.4 427.5L2309.6 432.2L2310.9 427.5L2312.1 429.8L2313.4 427.5L2314.6 427.5L2315.9 429.8L2317.1 432.2L2318.4 429.8L2319.6 429.8L2320.9 429.8L2322.1 429.8L2323.3 432.2L2324.6 429.8L2325.8 429.8L2327.1 429.8L2328.3 429.8L2329.6 429.8L2330.8 432.2L2332.1 429.8L2333.3 432.2L2334.6 429.8L2335.8 432.2L2337.1 432.2L2338.3 427.5L2339.6 429.8L2340.8 432.2L2342.0 429.8L2343.3 427.5L2344.5 429.8L2345.8 432.2L2347.0 429.8L2348.3 429.8L2349.5 429.8L2350.8 432.2L2352.0 432.2L2353.3 429.8L2354.5 432.2L2355.8 429.8L2357.0 429.8"/>
<path stroke="#7b6bb4" stroke-width="8.3" stroke-dasharray="20.2 27.4" d="M263.0 907.0L264.2 900.0L265.5 892.9L266.7 885.8L268.0 878.7L269.2 871.6L270.5 864.5L271.7 857.4L273.0 850.4L274.2 843.3L275.5 838.5L276.7 836.2L278.0 831.4L279.2 824.4L280.4 822.0L281.7 819.6L282.9 814.9L284.2 812.6L285.4 810.2L286.7 805.5L287.9 800.7L289.2 793.6L290.4 788.9L291.7 784.2L292.9 777.1L294.2 770.0L295.4 767.7L296.7 762.9L297.9 760.6L299.1 755.8L300.4 755.8L301.6 751.1L302.9 748.8L304.1 746.4L305.4 744.0L306.6 739.3L307.9 734.6L309.1 729.9L310.4 725.1L311.6 722.8L312.9 715.7L314.1 711.0L315.4 711.0L316.6 703.9L317.8 701.5L319.1 696.8L320.3 692.1L321.6 692.1L322.8 685.0L324.1 680.2L325.3 675.5L326.6 675.5L327.8 668.4L329.1 668.4L330.3 663.7L331.6 661.3L332.8 654.3L334.0 651.9L335.3 647.2L336.5 644.8L337.8 642.5L339.0 640.1L340.3 637.7L341.5 635.4L342.8 630.6L344.0 630.6L345.3 628.3L346.5 625.9L347.8 623.5L349.0 621.2L350.2 618.8L351.5 616.5L352.7 616.5L354.0 616.5L355.2 611.7L356.5 611.7L357.7 611.7L359.0 609.4L360.2 604.6L361.5 604.6L362.7 604.6L364.0 602.3L365.2 597.6L366.5 599.9L367.7 597.6L368.9 592.8L370.2 592.8L371.4 590.5L372.7 588.1L373.9 585.8L375.2 583.4L376.4 581.0L377.7 581.0L378.9 578.7L380.2 578.7L381.4 573.9L382.7 573.9L383.9 569.2L385.1 569.2L386.4 566.8L387.6 566.8L388.9 564.5L390.1 562.1L391.4 562.1L392.6 559.8L393.9 557.4L395.1 557.4L396.4 559.8L397.6 555.0L398.9 555.0L400.1 555.0L401.4 552.7L402.6 552.7L403.8 552.7L405.1 552.7L406.3 550.3L407.6 548.0L408.8 545.6L410.1 548.0L411.3 545.6L412.6 540.9L413.8 545.6L415.1 540.9L416.3 540.9L417.6 540.9L418.8 538.5L420.1 536.1L421.3 533.8L422.5 533.8L423.8 531.4L425.0 529.0L426.3 529.0L427.5 526.7L428.8 524.3L430.0 524.3L431.3 522.0L432.5 522.0L433.8 519.6L435.0 519.6L436.3 519.6L437.5 517.2L438.7 514.9L440.0 514.9L441.2 512.5L442.5 512.5L443.7 514.9L445.0 507.8L446.2 507.8L447.5 510.1L448.7 505.4L450.0 507.8L451.2 507.8L452.5 505.4L453.7 505.4L454.9 500.7L456.2 503.1L457.4 500.7L458.7 500.7L459.9 500.7L461.2 500.7L462.4 498.3L463.7 496.0L464.9 496.0L466.2 496.0L467.4 496.0L468.7 493.6L469.9 493.6L471.2 493.6L472.4 493.6L473.6 488.9L474.9 488.9L476.1 488.9L477.4 486.5L478.6 486.5L479.9 488.9L481.1 486.5L482.4 486.5L483.6 484.2L484.9 484.2L486.1 484.2L487.4 481.8L488.6 479.4L489.9 479.4L491.1 481.8L492.3 479.4L493.6 477.1L494.8 479.4L496.1 479.4L497.3 477.1L498.6 477.1L499.8 474.7L501.1 474.7L502.3 474.7L503.6 474.7L504.8 472.3L506.1 472.3L507.3 472.3L508.5 472.3L509.8 472.3L511.0 470.0L512.3 470.0L513.5 470.0L514.8 470.0L516.0 467.6L517.3 467.6L518.5 467.6L519.8 465.3L521.0 465.3L522.3 465.3L523.5 465.3L524.8 462.9L526.0 462.9L527.2 462.9L528.5 462.9L529.7 460.5L531.0 462.9L532.2 460.5L533.5 460.5L534.7 460.5L536.0 460.5L537.2 458.2L538.5 460.5L539.7 458.2L541.0 458.2L542.2 458.2L543.4 458.2L544.7 460.5L545.9 458.2L547.2 458.2L548.4 460.5L549.7 458.2L550.9 455.8L552.2 458.2L553.4 458.2L554.7 458.2L555.9 458.2L557.2 455.8L558.4 455.8L559.6 455.8L560.9 455.8L562.1 455.8L563.4 453.4L564.6 455.8L565.9 453.4L567.1 453.4L568.4 455.8L569.6 453.4L570.9 453.4L572.1 453.4L573.4 453.4L574.6 453.4L575.9 451.1L577.1 451.1L578.3 451.1L579.6 448.7L580.8 448.7L582.1 448.7L583.3 446.4L584.6 446.4L585.8 446.4L587.1 444.0L588.3 446.4L589.6 444.0L590.8 444.0L592.1 444.0L593.3 444.0L594.5 441.6L595.8 444.0L597.0 444.0L598.3 441.6L599.5 441.6L600.8 441.6L602.0 444.0L603.3 441.6L604.5 441.6L605.8 441.6L607.0 441.6L608.3 441.6L609.5 441.6L610.8 441.6L612.0 441.6L613.2 439.3L614.5 439.3L615.7 439.3L617.0 439.3L618.2 441.6L619.5 439.3L620.7 439.3L622.0 439.3L623.2 439.3L624.5 439.3L625.7 439.3L627.0 439.3L628.2 439.3L629.5 439.3L630.7 439.3L631.9 436.9L633.2 439.3L634.4 439.3L635.7 436.9L636.9 439.3L638.2 436.9L639.4 436.9L640.7 439.3L641.9 439.3L643.2 436.9L644.4 436.9L645.7 436.9L646.9 436.9L648.1 434.5L649.4 436.9L650.6 436.9L651.9 436.9L653.1 436.9L654.4 436.9L655.6 436.9L656.9 436.9L658.1 436.9L659.4 439.3L660.6 436.9L661.9 434.5L663.1 434.5L664.4 436.9L665.6 436.9L666.8 434.5L668.1 434.5L669.3 436.9L670.6 436.9L671.8 436.9L673.1 436.9L674.3 436.9L675.6 436.9L676.8 434.5L678.1 436.9L679.3 434.5L680.6 436.9L681.8 434.5L683.0 434.5L684.3 434.5L685.5 434.5L686.8 434.5L688.0 434.5L689.3 434.5L690.5 436.9L691.8 434.5L693.0 434.5L694.3 436.9L695.5 434.5L696.8 434.5L698.0 436.9L699.2 434.5L700.5 434.5L701.7 434.5L703.0 434.5L704.2 434.5L705.5 434.5L706.7 434.5L708.0 434.5L709.2 434.5L710.5 434.5L711.7 434.5L713.0 434.5L714.2 434.5L715.5 434.5L716.7 434.5L717.9 434.5L719.2 434.5L720.4 436.9L721.7 436.9L722.9 434.5L724.2 434.5L725.4 432.2L726.7 432.2L727.9 434.5L729.2 434.5L730.4 434.5L731.7 432.2L732.9 434.5L734.1 432.2L735.4 432.2L736.6 432.2L737.9 432.2L739.1 434.5L740.4 434.5L741.6 434.5L742.9 434.5L744.1 432.2L745.4 434.5L746.6 432.2L747.9 432.2L749.1 432.2L750.4 432.2L751.6 434.5L752.8 432.2L754.1 432.2L755.3 434.5L756.6 432.2L757.8 434.5L759.1 432.2L760.3 434.5L761.6 432.2L762.8 434.5L764.1 434.5L765.3 432.2L766.6 432.2L767.8 432.2L769.0 432.2L770.3 432.2L771.5 432.2L772.8 432.2L774.0 432.2L775.3 432.2L776.5 432.2L777.8 432.2L779.0 432.2L780.3 432.2L781.5 432.2L782.8 432.2L784.0 432.2L785.3 432.2L786.5 432.2L787.7 432.2L789.0 434.5L790.2 432.2L791.5 432.2L792.7 432.2L794.0 434.5L795.2 432.2L796.5 432.2L797.7 432.2L799.0 432.2L800.2 432.2L801.5 432.2L802.7 434.5L804.0 432.2L805.2 432.2L806.4 432.2L807.7 432.2L808.9 432.2L810.2 429.8L811.4 432.2L812.7 432.2L813.9 429.8L815.2 429.8L816.4 429.8L817.7 432.2L818.9 432.2L820.2 429.8L821.4 429.8L822.6 429.8L823.9 429.8L825.1 432.2L826.4 429.8L827.6 432.2L828.9 429.8L830.1 429.8L831.4 429.8L832.6 429.8L833.9 427.5L835.1 429.8L836.4 429.8L837.6 429.8L838.9 429.8L840.1 427.5L841.3 429.8L842.6 429.8L843.8 429.8L845.1 427.5L846.3 429.8L847.6 429.8L848.8 429.8L850.1 429.8L851.3 429.8L852.6 427.5L853.8 427.5L855.1 427.5L856.3 427.5L857.5 429.8L858.8 429.8L860.0 429.8L861.3 427.5L862.5 429.8L863.8 429.8L865.0 427.5L866.3 429.8L867.5 427.5L868.8 427.5L870.0 427.5L871.3 427.5L872.5 429.8L873.8 429.8L875.0 427.5L876.2 427.5L877.5 427.5L878.7 427.5L880.0 427.5L881.2 429.8L882.5 427.5L883.7 427.5L885.0 429.8L886.2 429.8L887.5 429.8L888.7 427.5L890.0 429.8L891.2 427.5L892.4 427.5L893.7 427.5L894.9 427.5L896.2 427.5L897.4 429.8L898.7 427.5L899.9 429.8L901.2 429.8L902.4 427.5L903.7 427.5L904.9 429.8L906.2 429.8L907.4 429.8L908.6 427.5L909.9 427.5L911.1 427.5L912.4 429.8L913.6 429.8L914.9 429.8L916.1 427.5L917.4 427.5L918.6 429.8L919.9 429.8L921.1 429.8L922.4 427.5L923.6 427.5L924.9 427.5L926.1 427.5L927.3 427.5L928.6 427.5L929.8 429.8L931.1 429.8L932.3 427.5L933.6 427.5L934.8 427.5L936.1 429.8L937.3 429.8L938.6 427.5L939.8 427.5L941.1 427.5L942.3 427.5L943.5 429.8L944.8 427.5L946.0 427.5L947.3 427.5L948.5 427.5L949.8 427.5L951.0 429.8L952.3 427.5L953.5 427.5L954.8 427.5L956.0 427.5L957.3 427.5L958.5 427.5L959.8 429.8L961.0 427.5L962.2 427.5L963.5 429.8L964.7 429.8L966.0 429.8L967.2 427.5L968.5 427.5L969.7 427.5L971.0 427.5L972.2 427.5L973.5 427.5L974.7 427.5L976.0 427.5L977.2 427.5L978.5 427.5L979.7 427.5L980.9 429.8L982.2 427.5L983.4 427.5L984.7 429.8L985.9 429.8L987.2 427.5L988.4 429.8L989.7 427.5L990.9 427.5L992.2 429.8L993.4 427.5L994.7 427.5L995.9 427.5L997.1 427.5L998.4 427.5L999.6 427.5L1000.9 427.5L1002.1 427.5L1003.4 427.5L1004.6 427.5L1005.9 429.8L1007.1 427.5L1008.4 427.5L1009.6 427.5L1010.9 425.1L1012.1 427.5L1013.4 427.5L1014.6 427.5L1015.8 427.5L1017.1 427.5L1018.3 427.5L1019.6 427.5L1020.8 427.5L1022.1 427.5L1023.3 425.1L1024.6 429.8L1025.8 427.5L1027.1 427.5L1028.3 427.5L1029.6 425.1L1030.8 427.5L1032.0 427.5L1033.3 427.5L1034.5 429.8L1035.8 427.5L1037.0 427.5L1038.3 427.5L1039.5 427.5L1040.8 427.5L1042.0 425.1L1043.3 427.5L1044.5 425.1L1045.8 427.5L1047.0 427.5L1048.2 427.5L1049.5 429.8L1050.7 425.1L1052.0 427.5L1053.2 427.5L1054.5 425.1L1055.7 425.1L1057.0 427.5L1058.2 427.5L1059.5 425.1L1060.7 427.5L1062.0 429.8L1063.2 427.5L1064.5 425.1L1065.7 427.5L1066.9 427.5L1068.2 425.1L1069.4 427.5L1070.7 427.5L1071.9 429.8L1073.2 427.5L1074.4 427.5L1075.7 427.5L1076.9 425.1L1078.2 427.5L1079.4 427.5L1080.7 427.5L1081.9 427.5L1083.2 425.1L1084.4 427.5L1085.6 427.5L1086.9 425.1L1088.1 427.5L1089.4 427.5L1090.6 427.5L1091.9 429.8L1093.1 427.5L1094.4 425.1L1095.6 427.5L1096.9 427.5L1098.1 427.5L1099.4 427.5L1100.6 427.5L1101.8 427.5L1103.1 427.5L1104.3 427.5L1105.6 425.1L1106.8 427.5L1108.1 427.5L1109.3 425.1L1110.6 427.5L1111.8 427.5L1113.1 427.5L1114.3 427.5L1115.6 427.5L1116.8 427.5L1118.0 427.5L1119.3 427.5L1120.5 429.8L1121.8 429.8L1123.0 425.1L1124.3 429.8L1125.5 427.5L1126.8 425.1L1128.0 425.1L1129.3 427.5L1130.5 427.5L1131.8 427.5L1133.0 427.5L1134.3 427.5L1135.5 425.1L1136.7 427.5L1138.0 425.1L1139.2 425.1L1140.5 427.5L1141.7 425.1L1143.0 425.1L1144.2 427.5L1145.5 427.5L1146.7 427.5L1148.0 427.5L1149.2 425.1L1150.5 427.5L1151.7 427.5L1153.0 427.5L1154.2 425.1L1155.4 425.1L1156.7 427.5L1157.9 427.5L1159.2 425.1L1160.4 425.1L1161.7 425.1L1162.9 425.1L1164.2 425.1L1165.4 427.5L1166.7 427.5L1167.9 425.1L1169.2 425.1L1170.4 425.1L1171.6 427.5L1172.9 427.5L1174.1 425.1L1175.4 425.1L1176.6 425.1L1177.9 427.5L1179.1 427.5L1180.4 427.5L1181.6 425.1L1182.9 425.1L1184.1 425.1L1185.4 425.1L1186.6 427.5L1187.8 425.1L1189.1 425.1L1190.3 427.5L1191.6 425.1L1192.8 425.1L1194.1 427.5L1195.3 425.1L1196.6 427.5L1197.8 427.5L1199.1 425.1L1200.3 427.5L1201.6 425.1L1202.8 425.1L1204.1 425.1L1205.3 427.5L1206.5 427.5L1207.8 425.1L1209.0 427.5L1210.3 425.1L1211.5 427.5L1212.8 425.1L1214.0 425.1L1215.3 425.1L1216.5 425.1L1217.8 425.1L1219.0 427.5L1220.3 427.5L1221.5 425.1L1222.8 425.1L1224.0 425.1L1225.2 425.1L1226.5 425.1L1227.7 425.1L1229.0 427.5L1230.2 429.8L1231.5 427.5L1232.7 427.5L1234.0 427.5L1235.2 427.5L1236.5 427.5L1237.7 425.1L1239.0 425.1L1240.2 425.1L1241.4 422.7L1242.7 427.5L1243.9 425.1L1245.2 425.1L1246.4 427.5L1247.7 427.5L1248.9 425.1L1250.2 425.1L1251.4 425.1L1252.7 425.1L1253.9 425.1L1255.2 425.1L1256.4 425.1L1257.7 427.5L1258.9 425.1L1260.1 425.1L1261.4 425.1L1262.6 425.1L1263.9 422.7L1265.1 427.5L1266.4 425.1L1267.6 425.1L1268.9 425.1L1270.1 427.5L1271.4 425.1L1272.6 425.1L1273.9 425.1L1275.1 425.1L1276.3 425.1L1277.6 425.1L1278.8 425.1L1280.1 422.7L1281.3 425.1L1282.6 425.1L1283.8 425.1L1285.1 425.1L1286.3 425.1L1287.6 425.1L1288.8 427.5L1290.1 427.5L1291.3 425.1L1292.5 422.7L1293.8 425.1L1295.0 427.5L1296.3 425.1L1297.5 425.1L1298.8 425.1L1300.0 425.1L1301.3 425.1L1302.5 425.1L1303.8 425.1L1305.0 427.5L1306.3 425.1L1307.5 427.5L1308.8 425.1L1310.0 425.1L1311.2 427.5L1312.5 425.1L1313.7 425.1L1315.0 422.7L1316.2 425.1L1317.5 427.5L1318.7 425.1L1320.0 425.1L1321.2 425.1L1322.5 425.1L1323.7 425.1L1325.0 425.1L1326.2 425.1L1327.5 427.5L1328.7 425.1L1329.9 427.5L1331.2 427.5L1332.4 425.1L1333.7 427.5L1334.9 425.1L1336.2 422.7L1337.4 425.1L1338.7 427.5L1339.9 427.5L1341.2 427.5L1342.4 427.5L1343.7 427.5L1344.9 425.1L1346.1 425.1L1347.4 425.1L1348.6 420.4L1349.9 425.1L1351.1 425.1L1352.4 425.1L1353.6 425.1L1354.9 427.5L1356.1 425.1L1357.4 422.7L1358.6 425.1L1359.9 427.5L1361.1 427.5L1362.3 427.5L1363.6 425.1L1364.8 425.1L1366.1 425.1L1367.3 422.7L1368.6 425.1L1369.8 425.1L1371.1 425.1L1372.3 425.1L1373.6 427.5L1374.8 422.7L1376.1 427.5L1377.3 427.5L1378.6 425.1L1379.8 425.1L1381.0 422.7L1382.3 425.1L1383.5 427.5L1384.8 425.1L1386.0 425.1L1387.3 422.7L1388.5 422.7L1389.8 425.1L1391.0 425.1L1392.3 425.1L1393.5 422.7L1394.8 425.1L1396.0 425.1L1397.2 425.1L1398.5 425.1L1399.7 425.1L1401.0 425.1L1402.2 427.5L1403.5 422.7L1404.7 425.1L1406.0 427.5L1407.2 427.5L1408.5 427.5L1409.7 422.7L1411.0 425.1L1412.2 427.5L1413.5 422.7L1414.7 422.7L1415.9 427.5L1417.2 429.8L1418.4 422.7L1419.7 425.1L1420.9 425.1L1422.2 425.1L1423.4 422.7L1424.7 422.7L1425.9 422.7L1427.2 425.1L1428.4 425.1L1429.7 425.1L1430.9 427.5L1432.2 422.7L1433.4 425.1L1434.6 425.1L1435.9 425.1L1437.1 422.7L1438.4 422.7L1439.6 422.7L1440.9 425.1L1442.1 425.1L1443.4 425.1L1444.6 425.1L1445.9 422.7L1447.1 425.1L1448.4 425.1L1449.6 422.7L1450.8 422.7L1452.1 425.1L1453.3 422.7L1454.6 422.7L1455.8 427.5L1457.1 425.1L1458.3 425.1L1459.6 425.1L1460.8 425.1L1462.1 425.1L1463.3 425.1L1464.6 425.1L1465.8 422.7L1467.0 422.7L1468.3 425.1L1469.5 425.1L1470.8 422.7L1472.0 425.1L1473.3 425.1L1474.5 425.1L1475.8 422.7L1477.0 425.1L1478.3 422.7L1479.5 425.1L1480.8 425.1L1482.0 425.1L1483.3 425.1L1484.5 425.1L1485.7 427.5L1487.0 429.8L1488.2 422.7L1489.5 425.1L1490.7 425.1L1492.0 425.1L1493.2 425.1L1494.5 425.1L1495.7 425.1L1497.0 422.7L1498.2 425.1L1499.5 427.5L1500.7 425.1L1502.0 425.1L1503.2 425.1L1504.4 427.5L1505.7 425.1L1506.9 425.1L1508.2 425.1L1509.4 425.1L1510.7 425.1L1511.9 425.1L1513.2 422.7L1514.4 425.1L1515.7 425.1L1516.9 425.1L1518.2 427.5L1519.4 427.5L1520.6 425.1L1521.9 425.1L1523.1 422.7L1524.4 425.1L1525.6 425.1L1526.9 425.1L1528.1 425.1L1529.4 422.7L1530.6 427.5L1531.9 425.1L1533.1 425.1L1534.4 425.1L1535.6 425.1L1536.8 425.1L1538.1 425.1L1539.3 427.5L1540.6 425.1L1541.8 425.1L1543.1 425.1L1544.3 422.7L1545.6 425.1L1546.8 427.5L1548.1 425.1L1549.3 425.1L1550.6 425.1L1551.8 425.1L1553.1 425.1L1554.3 425.1L1555.5 427.5L1556.8 425.1L1558.0 425.1L1559.3 427.5L1560.5 427.5L1561.8 427.5L1563.0 425.1L1564.3 427.5L1565.5 427.5L1566.8 425.1L1568.0 425.1L1569.3 427.5L1570.5 425.1L1571.8 429.8L1573.0 425.1L1574.2 425.1L1575.5 427.5L1576.7 427.5L1578.0 427.5L1579.2 425.1L1580.5 425.1L1581.7 425.1L1583.0 425.1L1584.2 425.1L1585.5 427.5L1586.7 427.5L1588.0 427.5L1589.2 425.1L1590.4 427.5L1591.7 425.1L1592.9 425.1L1594.2 422.7L1595.4 427.5L1596.7 427.5L1597.9 427.5L1599.2 425.1L1600.4 422.7L1601.7 427.5L1602.9 427.5L1604.2 427.5L1605.4 425.1L1606.7 427.5L1607.9 425.1L1609.1 425.1L1610.4 427.5L1611.6 427.5L1612.9 427.5L1614.1 427.5L1615.4 427.5L1616.6 425.1L1617.9 425.1L1619.1 427.5L1620.4 427.5L1621.6 429.8L1622.9 427.5L1624.1 425.1L1625.3 425.1L1626.6 427.5L1627.8 425.1L1629.1 427.5L1630.3 427.5L1631.6 425.1L1632.8 429.8L1634.1 427.5L1635.3 427.5L1636.6 427.5L1637.8 427.5L1639.1 427.5L1640.3 427.5L1641.5 427.5L1642.8 425.1L1644.0 427.5L1645.3 427.5L1646.5 427.5L1647.8 427.5L1649.0 427.5L1650.3 425.1L1651.5 427.5L1652.8 425.1L1654.0 425.1L1655.3 425.1L1656.5 427.5L1657.8 425.1L1659.0 425.1L1660.2 425.1L1661.5 425.1L1662.7 427.5L1664.0 427.5L1665.2 427.5L1666.5 429.8L1667.7 427.5L1669.0 427.5L1670.2 425.1L1671.5 427.5L1672.7 427.5L1674.0 425.1L1675.2 427.5L1676.5 425.1L1677.7 427.5L1678.9 427.5L1680.2 427.5L1681.4 425.1L1682.7 427.5L1683.9 427.5L1685.2 425.1L1686.4 427.5L1687.7 425.1L1688.9 425.1L1690.2 425.1L1691.4 427.5L1692.7 427.5L1693.9 429.8L1695.1 427.5L1696.4 427.5L1697.6 427.5L1698.9 425.1L1700.1 425.1L1701.4 427.5L1702.6 429.8L1703.9 425.1L1705.1 425.1L1706.4 427.5L1707.6 427.5L1708.9 427.5L1710.1 427.5L1711.3 427.5L1712.6 429.8L1713.8 427.5L1715.1 429.8L1716.3 425.1L1717.6 425.1L1718.8 427.5L1720.1 427.5L1721.3 427.5L1722.6 427.5L1723.8 427.5L1725.1 427.5L1726.3 427.5L1727.6 429.8L1728.8 427.5L1730.0 427.5L1731.3 427.5L1732.5 427.5L1733.8 425.1L1735.0 427.5L1736.3 427.5L1737.5 427.5L1738.8 425.1L1740.0 425.1L1741.3 425.1L1742.5 427.5L1743.8 427.5L1745.0 425.1L1746.2 427.5L1747.5 427.5L1748.7 427.5L1750.0 425.1L1751.2 425.1L1752.5 425.1L1753.7 427.5L1755.0 429.8L1756.2 429.8L1757.5 427.5L1758.7 427.5L1760.0 432.2L1761.2 427.5L1762.5 425.1L1763.7 425.1L1764.9 427.5L1766.2 427.5L1767.4 427.5L1768.7 427.5L1769.9 425.1L1771.2 425.1L1772.4 427.5L1773.7 429.8L1774.9 429.8L1776.2 429.8L1777.4 425.1L1778.7 425.1L1779.9 427.5L1781.2 425.1L1782.4 427.5L1783.6 427.5L1784.9 427.5L1786.1 427.5L1787.4 427.5L1788.6 429.8L1789.9 429.8L1791.1 427.5L1792.4 427.5L1793.6 427.5L1794.9 427.5L1796.1 427.5L1797.4 427.5L1798.6 427.5L1799.8 427.5L1801.1 427.5L1802.3 427.5L1803.6 427.5L1804.8 427.5L1806.1 429.8L1807.3 429.8L1808.6 427.5L1809.8 427.5L1811.1 425.1L1812.3 427.5L1813.6 425.1L1814.8 427.5L1816.0 427.5L1817.3 429.8L1818.5 427.5L1819.8 427.5L1821.0 427.5L1822.3 429.8L1823.5 429.8L1824.8 427.5L1826.0 427.5L1827.3 427.5L1828.5 429.8L1829.8 429.8L1831.0 429.8L1832.3 427.5L1833.5 427.5L1834.7 427.5L1836.0 427.5L1837.2 427.5L1838.5 427.5L1839.7 429.8L1841.0 427.5L1842.2 427.5L1843.5 427.5L1844.7 429.8L1846.0 427.5L1847.2 429.8L1848.5 427.5L1849.7 427.5L1851.0 427.5L1852.2 429.8L1853.4 427.5L1854.7 429.8L1855.9 427.5L1857.2 429.8L1858.4 429.8L1859.7 427.5L1860.9 427.5L1862.2 429.8L1863.4 429.8L1864.7 427.5L1865.9 429.8L1867.2 432.2L1868.4 432.2L1869.6 429.8L1870.9 427.5L1872.1 427.5L1873.4 427.5L1874.6 427.5L1875.9 425.1L1877.1 429.8L1878.4 429.8L1879.6 427.5L1880.9 429.8L1882.1 429.8L1883.4 429.8L1884.6 427.5L1885.8 427.5L1887.1 432.2L1888.3 429.8L1889.6 429.8L1890.8 429.8L1892.1 429.8L1893.3 429.8L1894.6 427.5L1895.8 429.8L1897.1 429.8L1898.3 429.8L1899.6 427.5L1900.8 429.8L1902.1 429.8L1903.3 429.8L1904.5 432.2L1905.8 427.5L1907.0 429.8L1908.3 427.5L1909.5 429.8L1910.8 429.8L1912.0 429.8L1913.3 429.8L1914.5 429.8L1915.8 427.5L1917.0 429.8L1918.3 427.5L1919.5 429.8L1920.8 427.5L1922.0 429.8L1923.2 429.8L1924.5 427.5L1925.7 429.8L1927.0 429.8L1928.2 429.8L1929.5 429.8L1930.7 432.2L1932.0 427.5L1933.2 427.5L1934.5 432.2L1935.7 429.8L1937.0 429.8L1938.2 432.2L1939.4 429.8L1940.7 429.8L1941.9 429.8L1943.2 427.5L1944.4 429.8L1945.7 429.8L1946.9 429.8L1948.2 429.8L1949.4 429.8L1950.7 427.5L1951.9 432.2L1953.2 429.8L1954.4 429.8L1955.7 429.8L1956.9 429.8L1958.1 429.8L1959.4 427.5L1960.6 429.8L1961.9 429.8L1963.1 427.5L1964.4 429.8L1965.6 432.2L1966.9 429.8L1968.1 429.8L1969.4 429.8L1970.6 429.8L1971.9 429.8L1973.1 429.8L1974.3 432.2L1975.6 432.2L1976.8 429.8L1978.1 429.8L1979.3 427.5L1980.6 429.8L1981.8 432.2L1983.1 429.8L1984.3 429.8L1985.6 427.5L1986.8 429.8L1988.1 432.2L1989.3 432.2L1990.5 432.2L1991.8 432.2L1993.0 432.2L1994.3 432.2L1995.5 429.8L1996.8 432.2L1998.0 429.8L1999.3 429.8L2000.5 429.8L2001.8 429.8L2003.0 432.2L2004.3 432.2L2005.5 432.2L2006.8 429.8L2008.0 432.2L2009.2 432.2L2010.5 429.8L2011.7 427.5L2013.0 429.8L2014.2 432.2L2015.5 429.8L2016.7 429.8L2018.0 429.8L2019.2 429.8L2020.5 432.2L2021.7 429.8L2023.0 429.8L2024.2 429.8L2025.5 432.2L2026.7 432.2L2027.9 432.2L2029.2 429.8L2030.4 429.8L2031.7 432.2L2032.9 429.8L2034.2 429.8L2035.4 429.8L2036.7 432.2L2037.9 429.8L2039.2 432.2L2040.4 429.8L2041.7 429.8L2042.9 432.2L2044.1 429.8L2045.4 427.5L2046.6 427.5L2047.9 429.8L2049.1 429.8L2050.4 432.2L2051.6 429.8L2052.9 429.8L2054.1 429.8L2055.4 429.8L2056.6 432.2L2057.9 434.5L2059.1 429.8L2060.3 429.8L2061.6 427.5L2062.8 429.8L2064.1 429.8L2065.3 429.8L2066.6 429.8L2067.8 429.8L2069.1 432.2L2070.3 432.2L2071.6 429.8L2072.8 429.8L2074.1 434.5L2075.3 432.2L2076.6 429.8L2077.8 429.8L2079.0 429.8L2080.3 434.5L2081.5 432.2L2082.8 429.8L2084.0 429.8L2085.3 429.8L2086.5 432.2L2087.8 429.8L2089.0 432.2L2090.3 432.2L2091.5 432.2L2092.8 429.8L2094.0 432.2L2095.2 429.8L2096.5 434.5L2097.7 429.8L2099.0 429.8L2100.2 432.2L2101.5 432.2L2102.7 429.8L2104.0 432.2L2105.2 427.5L2106.5 432.2L2107.7 434.5L2109.0 429.8L2110.2 429.8L2111.5 429.8L2112.7 432.2L2113.9 432.2L2115.2 429.8L2116.4 432.2L2117.7 434.5L2118.9 429.8L2120.2 432.2L2121.4 429.8L2122.7 432.2L2123.9 432.2L2125.2 432.2L2126.4 434.5L2127.7 429.8L2128.9 432.2L2130.2 432.2L2131.4 429.8L2132.6 432.2L2133.9 429.8L2135.1 429.8L2136.4 429.8L2137.6 429.8L2138.9 429.8L2140.1 432.2L2141.4 429.8L2142.6 432.2L2143.9 429.8L2145.1 434.5L2146.4 432.2L2147.6 429.8L2148.8 429.8L2150.1 432.2L2151.3 429.8L2152.6 427.5L2153.8 432.2L2155.1 434.5L2156.3 432.2L2157.6 432.2L2158.8 432.2L2160.1 432.2L2161.3 429.8L2162.6 432.2L2163.8 432.2L2165.1 432.2L2166.3 432.2L2167.5 432.2L2168.8 427.5L2170.0 432.2L2171.3 432.2L2172.5 434.5L2173.8 429.8L2175.0 432.2L2176.3 432.2L2177.5 427.5L2178.8 429.8L2180.0 434.5L2181.3 432.2L2182.5 429.8L2183.7 429.8L2185.0 432.2L2186.2 429.8L2187.5 429.8L2188.7 432.2L2190.0 434.5L2191.2 434.5L2192.5 429.8L2193.7 429.8L2195.0 432.2L2196.2 432.2L2197.5 432.2L2198.7 429.8L2199.9 432.2L2201.2 434.5L2202.4 432.2L2203.7 429.8L2204.9 432.2L2206.2 432.2L2207.4 432.2L2208.7 429.8L2209.9 434.5L2211.2 432.2L2212.4 432.2L2213.7 432.2L2214.9 432.2L2216.2 429.8L2217.4 432.2L2218.6 432.2L2219.9 432.2L2221.1 432.2L2222.4 432.2L2223.6 432.2L2224.9 429.8L2226.1 432.2L2227.4 432.2L2228.6 432.2L2229.9 432.2L2231.1 432.2L2232.4 429.8L2233.6 434.5L2234.8 432.2L2236.1 432.2L2237.3 429.8L2238.6 434.5L2239.8 429.8L2241.1 434.5L2242.3 429.8L2243.6 432.2L2244.8 432.2L2246.1 432.2L2247.3 432.2L2248.6 432.2L2249.8 432.2L2251.1 434.5L2252.3 434.5L2253.5 429.8L2254.8 429.8L2256.0 432.2L2257.3 432.2L2258.5 432.2L2259.8 432.2L2261.0 432.2L2262.3 432.2L2263.5 432.2L2264.8 434.5L2266.0 432.2L2267.3 434.5L2268.5 432.2L2269.8 429.8L2271.0 432.2L2272.2 429.8L2273.5 429.8L2274.7 434.5L2276.0 434.5L2277.2 432.2L2278.5 432.2L2279.7 432.2L2281.0 432.2L2282.2 432.2L2283.5 432.2L2284.7 429.8L2286.0 429.8L2287.2 434.5L2288.4 432.2L2289.7 432.2L2290.9 429.8L2292.2 432.2L2293.4 432.2L2294.7 432.2L2295.9 432.2L2297.2 432.2L2298.4 432.2L2299.7 432.2L2300.9 432.2L2302.2 429.8L2303.4 432.2L2304.7 432.2L2305.9 432.2L2307.1 434.5L2308.4 429.8L2309.6 432.2L2310.9 432.2L2312.1 434.5L2313.4 429.8L2314.6 429.8L2315.9 429.8L2317.1 432.2L2318.4 432.2L2319.6 427.5L2320.9 432.2L2322.1 432.2L2323.3 432.2L2324.6 432.2L2325.8 432.2L2327.1 434.5L2328.3 432.2L2329.6 434.5L2330.8 429.8L2332.1 432.2L2333.3 434.5L2334.6 434.5L2335.8 432.2L2337.1 432.2L2338.3 434.5L2339.6 429.8L2340.8 432.2L2342.0 432.2L2343.3 434.5L2344.5 432.2L2345.8 432.2L2347.0 432.2L2348.3 429.8L2349.5 432.2L2350.8 432.2L2352.0 429.8L2353.3 432.2L2354.5 432.2L2355.8 432.2L2357.0 432.2"/>
<path stroke="#2dc46f" stroke-width="8.3" stroke-dasharray="0.01 13.65" d="M263.0 904.7L264.2 900.0L265.5 897.6L266.7 883.4L268.0 871.6L269.2 864.5L270.5 862.2L271.7 855.1L273.0 852.7L274.2 848.0L275.5 843.3L276.7 838.5L278.0 833.8L279.2 829.1L280.4 824.4L281.7 817.3L282.9 814.9L284.2 810.2L285.4 807.8L286.7 803.1L287.9 803.1L289.2 798.4L290.4 793.6L291.7 791.3L292.9 788.9L294.2 786.6L295.4 781.8L296.7 779.5L297.9 774.8L299.1 770.0L300.4 767.7L301.6 765.3L302.9 760.6L304.1 758.2L305.4 755.8L306.6 755.8L307.9 753.5L309.1 751.1L310.4 748.8L311.6 748.8L312.9 746.4L314.1 741.7L315.4 741.7L316.6 739.3L317.8 737.0L319.1 734.6L320.3 734.6L321.6 732.2L322.8 732.2L324.1 729.9L325.3 727.5L326.6 722.8L327.8 720.4L329.1 718.0L330.3 715.7L331.6 713.3L332.8 711.0L334.0 706.2L335.3 703.9L336.5 699.1L337.8 694.4L339.0 692.1L340.3 689.7L341.5 687.3L342.8 687.3L344.0 682.6L345.3 682.6L346.5 677.9L347.8 675.5L349.0 675.5L350.2 675.5L351.5 670.8L352.7 670.8L354.0 668.4L355.2 670.8L356.5 668.4L357.7 670.8L359.0 668.4L360.2 668.4L361.5 666.1L362.7 670.8L364.0 668.4L365.2 666.1L366.5 668.4L367.7 668.4L368.9 666.1L370.2 663.7L371.4 661.3L372.7 659.0L373.9 654.3L375.2 651.9L376.4 649.5L377.7 649.5L378.9 644.8L380.2 644.8L381.4 644.8L382.7 642.5L383.9 640.1L385.1 640.1L386.4 637.7L387.6 635.4L388.9 633.0L390.1 630.6L391.4 625.9L392.6 625.9L393.9 621.2L395.1 616.5L396.4 614.1L397.6 611.7L398.9 609.4L400.1 607.0L401.4 604.6L402.6 599.9L403.8 597.6L405.1 592.8L406.3 592.8L407.6 590.5L408.8 590.5L410.1 588.1L411.3 588.1L412.6 585.8L413.8 583.4L415.1 581.0L416.3 578.7L417.6 573.9L418.8 571.6L420.1 569.2L421.3 564.5L422.5 564.5L423.8 559.8L425.0 555.0L426.3 550.3L427.5 545.6L428.8 543.2L430.0 543.2L431.3 543.2L432.5 538.5L433.8 538.5L435.0 536.1L436.3 536.1L437.5 533.8L438.7 533.8L440.0 531.4L441.2 531.4L442.5 529.0L443.7 529.0L445.0 526.7L446.2 526.7L447.5 526.7L448.7 522.0L450.0 524.3L451.2 522.0L452.5 519.6L453.7 522.0L454.9 519.6L456.2 519.6L457.4 519.6L458.7 519.6L459.9 517.2L461.2 514.9L462.4 512.5L463.7 514.9L464.9 510.1L466.2 510.1L467.4 507.8L468.7 505.4L469.9 505.4L471.2 503.1L472.4 500.7L473.6 498.3L474.9 496.0L476.1 496.0L477.4 496.0L478.6 493.6L479.9 493.6L481.1 491.2L482.4 491.2L483.6 491.2L484.9 491.2L486.1 491.2L487.4 488.9L488.6 488.9L489.9 488.9L491.1 488.9L492.3 488.9L493.6 486.5L494.8 488.9L496.1 486.5L497.3 486.5L498.6 486.5L499.8 486.5L501.1 486.5L502.3 484.2L503.6 484.2L504.8 484.2L506.1 481.8L507.3 481.8L508.5 481.8L509.8 479.4L511.0 479.4L512.3 479.4L513.5 479.4L514.8 479.4L516.0 477.1L517.3 479.4L518.5 479.4L519.8 479.4L521.0 477.1L522.3 477.1L523.5 477.1L524.8 477.1L526.0 477.1L527.2 477.1L528.5 477.1L529.7 477.1L531.0 477.1L532.2 477.1L533.5 477.1L534.7 474.7L536.0 474.7L537.2 474.7L538.5 474.7L539.7 472.3L541.0 472.3L542.2 470.0L543.4 470.0L544.7 470.0L545.9 467.6L547.2 467.6L548.4 465.3L549.7 465.3L550.9 465.3L552.2 465.3L553.4 465.3L554.7 465.3L555.9 465.3L557.2 465.3L558.4 465.3L559.6 467.6L560.9 467.6L562.1 467.6L563.4 467.6L564.6 467.6L565.9 467.6L567.1 467.6L568.4 467.6L569.6 465.3L570.9 465.3L572.1 465.3L573.4 465.3L574.6 465.3L575.9 465.3L577.1 462.9L578.3 462.9L579.6 462.9L580.8 462.9L582.1 460.5L583.3 460.5L584.6 460.5L585.8 460.5L587.1 458.2L588.3 458.2L589.6 458.2L590.8 455.8L592.1 458.2L593.3 455.8L594.5 455.8L595.8 453.4L597.0 453.4L598.3 453.4L599.5 451.1L600.8 451.1L602.0 451.1L603.3 451.1L604.5 451.1L605.8 448.7L607.0 448.7L608.3 448.7L609.5 446.4L610.8 446.4L612.0 446.4L613.2 446.4L614.5 446.4L615.7 446.4L617.0 446.4L618.2 444.0L619.5 446.4L620.7 446.4L622.0 446.4L623.2 446.4L624.5 446.4L625.7 446.4L627.0 444.0L628.2 444.0L629.5 444.0L630.7 444.0L631.9 444.0L633.2 444.0L634.4 444.0L635.7 444.0L636.9 444.0L638.2 441.6L639.4 441.6L640.7 441.6L641.9 441.6L643.2 441.6L644.4 441.6L645.7 441.6L646.9 439.3L648.1 441.6L649.4 441.6L650.6 439.3L651.9 439.3L653.1 439.3L654.4 439.3L655.6 439.3L656.9 439.3L658.1 439.3L659.4 436.9L660.6 439.3L661.9 439.3L663.1 439.3L664.4 439.3L665.6 439.3L666.8 439.3L668.1 439.3L669.3 439.3L670.6 439.3L671.8 436.9L673.1 439.3L674.3 439.3L675.6 436.9L676.8 436.9L678.1 436.9L679.3 439.3L680.6 436.9L681.8 436.9L683.0 436.9L684.3 436.9L685.5 439.3L686.8 436.9L688.0 436.9L689.3 436.9L690.5 436.9L691.8 436.9L693.0 436.9L694.3 436.9L695.5 436.9L696.8 436.9L698.0 434.5L699.2 436.9L700.5 434.5L701.7 434.5L703.0 436.9L704.2 434.5L705.5 434.5L706.7 434.5L708.0 434.5L709.2 434.5L710.5 434.5L711.7 434.5L713.0 434.5L714.2 434.5L715.5 434.5L716.7 434.5L717.9 432.2L719.2 434.5L720.4 434.5L721.7 432.2L722.9 434.5L724.2 434.5L725.4 434.5L726.7 434.5L727.9 432.2L729.2 434.5L730.4 434.5L731.7 434.5L732.9 434.5L734.1 432.2L735.4 434.5L736.6 434.5L737.9 434.5L739.1 434.5L740.4 434.5L741.6 434.5L742.9 432.2L744.1 432.2L745.4 432.2L746.6 434.5L747.9 432.2L749.1 432.2L750.4 434.5L751.6 434.5L752.8 434.5L754.1 434.5L755.3 434.5L756.6 432.2L757.8 434.5L759.1 432.2L760.3 432.2L761.6 434.5L762.8 434.5L764.1 432.2L765.3 432.2L766.6 432.2L767.8 432.2L769.0 434.5L770.3 434.5L771.5 432.2L772.8 432.2L774.0 432.2L775.3 432.2L776.5 434.5L777.8 434.5L779.0 434.5L780.3 432.2L781.5 432.2L782.8 432.2L784.0 432.2L785.3 432.2L786.5 432.2L787.7 432.2L789.0 432.2L790.2 434.5L791.5 432.2L792.7 432.2L794.0 432.2L795.2 432.2L796.5 432.2L797.7 432.2L799.0 432.2L800.2 432.2L801.5 432.2L802.7 432.2L804.0 432.2L805.2 432.2L806.4 432.2L807.7 432.2L808.9 432.2L810.2 432.2L811.4 432.2L812.7 432.2L813.9 432.2L815.2 432.2L816.4 432.2L817.7 432.2L818.9 429.8L820.2 429.8L821.4 429.8L822.6 432.2L823.9 432.2L825.1 429.8L826.4 429.8L827.6 429.8L828.9 429.8L830.1 429.8L831.4 429.8L832.6 429.8L833.9 429.8L835.1 429.8L836.4 429.8L837.6 429.8L838.9 429.8L840.1 429.8L841.3 429.8L842.6 429.8L843.8 429.8L845.1 429.8L846.3 429.8L847.6 429.8L848.8 429.8L850.1 427.5L851.3 429.8L852.6 429.8L853.8 429.8L855.1 429.8L856.3 427.5L857.5 429.8L858.8 429.8L860.0 429.8L861.3 429.8L862.5 429.8L863.8 429.8L865.0 429.8L866.3 429.8L867.5 429.8L868.8 427.5L870.0 429.8L871.3 427.5L872.5 429.8L873.8 429.8L875.0 429.8L876.2 429.8L877.5 429.8L878.7 429.8L880.0 429.8L881.2 429.8L882.5 429.8L883.7 429.8L885.0 429.8L886.2 429.8L887.5 429.8L888.7 429.8L890.0 429.8L891.2 429.8L892.4 429.8L893.7 429.8L894.9 429.8L896.2 429.8L897.4 429.8L898.7 429.8L899.9 429.8L901.2 429.8L902.4 429.8L903.7 429.8L904.9 429.8L906.2 429.8L907.4 429.8L908.6 429.8L909.9 429.8L911.1 427.5L912.4 429.8L913.6 429.8L914.9 429.8L916.1 429.8L917.4 427.5L918.6 429.8L919.9 429.8L921.1 429.8L922.4 429.8L923.6 429.8L924.9 429.8L926.1 429.8L927.3 429.8L928.6 429.8L929.8 429.8L931.1 427.5L932.3 432.2L933.6 429.8L934.8 429.8L936.1 429.8L937.3 429.8L938.6 429.8L939.8 429.8L941.1 429.8L942.3 429.8L943.5 429.8L944.8 429.8L946.0 429.8L947.3 429.8L948.5 429.8L949.8 429.8L951.0 427.5L952.3 429.8L953.5 429.8L954.8 429.8L956.0 429.8L957.3 429.8L958.5 429.8L959.8 429.8L961.0 427.5L962.2 429.8L963.5 429.8L964.7 429.8L966.0 429.8L967.2 429.8L968.5 429.8L969.7 429.8L971.0 429.8L972.2 429.8L973.5 429.8L974.7 429.8L976.0 429.8L977.2 432.2L978.5 429.8L979.7 429.8L980.9 429.8L982.2 429.8L983.4 429.8L984.7 429.8L985.9 429.8L987.2 429.8L988.4 429.8L989.7 429.8L990.9 429.8L992.2 429.8L993.4 429.8L994.7 429.8L995.9 429.8L997.1 429.8L998.4 429.8L999.6 429.8L1000.9 429.8L1002.1 429.8L1003.4 429.8L1004.6 429.8L1005.9 429.8L1007.1 429.8L1008.4 429.8L1009.6 429.8L1010.9 429.8L1012.1 429.8L1013.4 429.8L1014.6 429.8L1015.8 429.8L1017.1 429.8L1018.3 429.8L1019.6 429.8L1020.8 429.8L1022.1 429.8L1023.3 429.8L1024.6 429.8L1025.8 429.8L1027.1 429.8L1028.3 429.8L1029.6 429.8L1030.8 429.8L1032.0 429.8L1033.3 429.8L1034.5 429.8L1035.8 429.8L1037.0 429.8L1038.3 429.8L1039.5 429.8L1040.8 429.8L1042.0 432.2L1043.3 429.8L1044.5 429.8L1045.8 429.8L1047.0 429.8L1048.2 429.8L1049.5 429.8L1050.7 429.8L1052.0 432.2L1053.2 432.2L1054.5 429.8L1055.7 429.8L1057.0 429.8L1058.2 429.8L1059.5 429.8L1060.7 429.8L1062.0 429.8L1063.2 429.8L1064.5 432.2L1065.7 429.8L1066.9 429.8L1068.2 429.8L1069.4 429.8L1070.7 429.8L1071.9 429.8L1073.2 429.8L1074.4 432.2L1075.7 432.2L1076.9 429.8L1078.2 429.8L1079.4 429.8L1080.7 429.8L1081.9 429.8L1083.2 429.8L1084.4 429.8L1085.6 429.8L1086.9 429.8L1088.1 429.8L1089.4 429.8L1090.6 429.8L1091.9 429.8L1093.1 429.8L1094.4 432.2L1095.6 429.8L1096.9 429.8L1098.1 429.8L1099.4 432.2L1100.6 429.8L1101.8 429.8L1103.1 432.2L1104.3 429.8L1105.6 429.8L1106.8 429.8L1108.1 429.8L1109.3 429.8L1110.6 429.8L1111.8 429.8L1113.1 429.8L1114.3 429.8L1115.6 429.8L1116.8 432.2L1118.0 429.8L1119.3 429.8L1120.5 429.8L1121.8 429.8L1123.0 432.2L1124.3 429.8L1125.5 432.2L1126.8 432.2L1128.0 432.2L1129.3 429.8L1130.5 429.8L1131.8 429.8L1133.0 432.2L1134.3 429.8L1135.5 429.8L1136.7 429.8L1138.0 429.8L1139.2 429.8L1140.5 429.8L1141.7 432.2L1143.0 429.8L1144.2 432.2L1145.5 429.8L1146.7 429.8L1148.0 429.8L1149.2 429.8L1150.5 432.2L1151.7 429.8L1153.0 432.2L1154.2 429.8L1155.4 429.8L1156.7 429.8L1157.9 432.2L1159.2 432.2L1160.4 429.8L1161.7 432.2L1162.9 429.8L1164.2 432.2L1165.4 429.8L1166.7 432.2L1167.9 429.8L1169.2 432.2L1170.4 429.8L1171.6 429.8L1172.9 432.2L1174.1 429.8L1175.4 429.8L1176.6 429.8L1177.9 432.2L1179.1 429.8L1180.4 429.8L1181.6 432.2L1182.9 432.2L1184.1 432.2L1185.4 429.8L1186.6 432.2L1187.8 429.8L1189.1 432.2L1190.3 429.8L1191.6 432.2L1192.8 432.2L1194.1 429.8L1195.3 432.2L1196.6 432.2L1197.8 429.8L1199.1 429.8L1200.3 432.2L1201.6 432.2L1202.8 429.8L1204.1 432.2L1205.3 429.8L1206.5 429.8L1207.8 432.2L1209.0 429.8L1210.3 429.8L1211.5 429.8L1212.8 429.8L1214.0 429.8L1215.3 429.8L1216.5 429.8L1217.8 432.2L1219.0 429.8L1220.3 432.2L1221.5 429.8L1222.8 429.8L1224.0 429.8L1225.2 432.2L1226.5 429.8L1227.7 429.8L1229.0 429.8L1230.2 432.2L1231.5 429.8L1232.7 432.2L1234.0 432.2L1235.2 432.2L1236.5 429.8L1237.7 432.2L1239.0 432.2L1240.2 432.2L1241.4 429.8L1242.7 432.2L1243.9 432.2L1245.2 429.8L1246.4 432.2L1247.7 429.8L1248.9 432.2L1250.2 432.2L1251.4 429.8L1252.7 432.2L1253.9 432.2L1255.2 432.2L1256.4 432.2L1257.7 432.2L1258.9 429.8L1260.1 429.8L1261.4 432.2L1262.6 429.8L1263.9 432.2L1265.1 432.2L1266.4 429.8L1267.6 429.8L1268.9 429.8L1270.1 432.2L1271.4 432.2L1272.6 429.8L1273.9 429.8L1275.1 432.2L1276.3 432.2L1277.6 429.8L1278.8 429.8L1280.1 432.2L1281.3 432.2L1282.6 432.2L1283.8 432.2L1285.1 432.2L1286.3 432.2L1287.6 429.8L1288.8 429.8L1290.1 432.2L1291.3 432.2L1292.5 432.2L1293.8 432.2L1295.0 432.2L1296.3 429.8L1297.5 432.2L1298.8 432.2L1300.0 432.2L1301.3 434.5L1302.5 432.2L1303.8 432.2L1305.0 432.2L1306.3 434.5L1307.5 429.8L1308.8 432.2L1310.0 432.2L1311.2 432.2L1312.5 432.2L1313.7 429.8L1315.0 432.2L1316.2 432.2L1317.5 429.8L1318.7 432.2L1320.0 429.8L1321.2 432.2L1322.5 429.8L1323.7 432.2L1325.0 432.2L1326.2 432.2L1327.5 432.2L1328.7 432.2L1329.9 429.8L1331.2 432.2L1332.4 432.2L1333.7 432.2L1334.9 429.8L1336.2 432.2L1337.4 432.2L1338.7 432.2L1339.9 432.2L1341.2 429.8L1342.4 432.2L1343.7 432.2L1344.9 432.2L1346.1 432.2L1347.4 432.2L1348.6 429.8L1349.9 432.2L1351.1 432.2L1352.4 434.5L1353.6 429.8L1354.9 432.2L1356.1 432.2L1357.4 432.2L1358.6 429.8L1359.9 429.8L1361.1 429.8L1362.3 432.2L1363.6 432.2L1364.8 432.2L1366.1 432.2L1367.3 432.2L1368.6 429.8L1369.8 432.2L1371.1 432.2L1372.3 432.2L1373.6 432.2L1374.8 432.2L1376.1 432.2L1377.3 432.2L1378.6 432.2L1379.8 432.2L1381.0 429.8L1382.3 432.2L1383.5 432.2L1384.8 432.2L1386.0 432.2L1387.3 432.2L1388.5 432.2L1389.8 429.8L1391.0 432.2L1392.3 432.2L1393.5 432.2L1394.8 432.2L1396.0 432.2L1397.2 432.2L1398.5 432.2L1399.7 429.8L1401.0 432.2L1402.2 429.8L1403.5 432.2L1404.7 432.2L1406.0 432.2L1407.2 434.5L1408.5 432.2L1409.7 432.2L1411.0 432.2L1412.2 432.2L1413.5 429.8L1414.7 432.2L1415.9 432.2L1417.2 432.2L1418.4 432.2L1419.7 432.2L1420.9 432.2L1422.2 432.2L1423.4 432.2L1424.7 432.2L1425.9 429.8L1427.2 429.8L1428.4 429.8L1429.7 432.2L1430.9 432.2L1432.2 432.2L1433.4 432.2L1434.6 434.5L1435.9 432.2L1437.1 432.2L1438.4 432.2L1439.6 434.5L1440.9 432.2L1442.1 432.2L1443.4 432.2L1444.6 434.5L1445.9 432.2L1447.1 432.2L1448.4 429.8L1449.6 432.2L1450.8 432.2L1452.1 432.2L1453.3 432.2L1454.6 432.2L1455.8 432.2L1457.1 432.2L1458.3 432.2L1459.6 429.8L1460.8 432.2L1462.1 432.2L1463.3 432.2L1464.6 432.2L1465.8 432.2L1467.0 432.2L1468.3 429.8L1469.5 432.2L1470.8 432.2L1472.0 429.8L1473.3 434.5L1474.5 432.2L1475.8 432.2L1477.0 432.2L1478.3 432.2L1479.5 429.8L1480.8 432.2L1482.0 434.5L1483.3 432.2L1484.5 432.2L1485.7 432.2L1487.0 432.2L1488.2 432.2L1489.5 432.2L1490.7 432.2L1492.0 432.2L1493.2 434.5L1494.5 429.8L1495.7 432.2L1497.0 432.2L1498.2 432.2L1499.5 432.2L1500.7 432.2L1502.0 432.2L1503.2 432.2L1504.4 432.2L1505.7 432.2L1506.9 434.5L1508.2 432.2L1509.4 432.2L1510.7 429.8L1511.9 432.2L1513.2 432.2L1514.4 432.2L1515.7 432.2L1516.9 432.2L1518.2 432.2L1519.4 432.2L1520.6 432.2L1521.9 429.8L1523.1 432.2L1524.4 432.2L1525.6 434.5L1526.9 432.2L1528.1 432.2L1529.4 432.2L1530.6 432.2L1531.9 434.5L1533.1 432.2L1534.4 432.2L1535.6 432.2L1536.8 432.2L1538.1 432.2L1539.3 432.2L1540.6 434.5L1541.8 432.2L1543.1 432.2L1544.3 432.2L1545.6 432.2L1546.8 432.2L1548.1 432.2L1549.3 432.2L1550.6 432.2L1551.8 432.2L1553.1 429.8L1554.3 432.2L1555.5 432.2L1556.8 432.2L1558.0 429.8L1559.3 432.2L1560.5 432.2L1561.8 432.2L1563.0 429.8L1564.3 432.2L1565.5 432.2L1566.8 432.2L1568.0 432.2L1569.3 432.2L1570.5 432.2L1571.8 432.2L1573.0 432.2L1574.2 429.8L1575.5 434.5L1576.7 432.2L1578.0 434.5L1579.2 432.2L1580.5 434.5L1581.7 434.5L1583.0 432.2L1584.2 432.2L1585.5 432.2L1586.7 434.5L1588.0 432.2L1589.2 432.2L1590.4 432.2L1591.7 434.5L1592.9 432.2L1594.2 432.2L1595.4 432.2L1596.7 432.2L1597.9 434.5L1599.2 432.2L1600.4 432.2L1601.7 434.5L1602.9 434.5L1604.2 434.5L1605.4 434.5L1606.7 432.2L1607.9 434.5L1609.1 432.2L1610.4 432.2L1611.6 432.2L1612.9 432.2L1614.1 432.2L1615.4 432.2L1616.6 434.5L1617.9 432.2L1619.1 432.2L1620.4 429.8L1621.6 432.2L1622.9 432.2L1624.1 432.2L1625.3 434.5L1626.6 434.5L1627.8 432.2L1629.1 432.2L1630.3 434.5L1631.6 432.2L1632.8 432.2L1634.1 434.5L1635.3 434.5L1636.6 434.5L1637.8 432.2L1639.1 434.5L1640.3 434.5L1641.5 434.5L1642.8 432.2L1644.0 432.2L1645.3 432.2L1646.5 432.2L1647.8 432.2L1649.0 434.5L1650.3 432.2L1651.5 432.2L1652.8 434.5L1654.0 432.2L1655.3 432.2L1656.5 434.5L1657.8 429.8L1659.0 432.2L1660.2 432.2L1661.5 434.5L1662.7 432.2L1664.0 432.2L1665.2 434.5L1666.5 432.2L1667.7 432.2L1669.0 432.2L1670.2 434.5L1671.5 434.5L1672.7 432.2L1674.0 432.2L1675.2 432.2L1676.5 432.2L1677.7 434.5L1678.9 432.2L1680.2 434.5L1681.4 434.5L1682.7 432.2L1683.9 434.5L1685.2 434.5L1686.4 434.5L1687.7 432.2L1688.9 432.2L1690.2 434.5L1691.4 434.5L1692.7 432.2L1693.9 432.2L1695.1 432.2L1696.4 434.5L1697.6 434.5L1698.9 434.5L1700.1 434.5L1701.4 434.5L1702.6 434.5L1703.9 429.8L1705.1 432.2L1706.4 434.5L1707.6 432.2L1708.9 432.2L1710.1 434.5L1711.3 432.2L1712.6 434.5L1713.8 434.5L1715.1 432.2L1716.3 432.2L1717.6 434.5L1718.8 432.2L1720.1 434.5L1721.3 434.5L1722.6 432.2L1723.8 432.2L1725.1 432.2L1726.3 434.5L1727.6 432.2L1728.8 432.2L1730.0 432.2L1731.3 432.2L1732.5 432.2L1733.8 432.2L1735.0 434.5L1736.3 432.2L1737.5 432.2L1738.8 432.2L1740.0 434.5L1741.3 434.5L1742.5 434.5L1743.8 434.5L1745.0 434.5L1746.2 432.2L1747.5 432.2L1748.7 432.2L1750.0 432.2L1751.2 434.5L1752.5 432.2L1753.7 434.5L1755.0 432.2L1756.2 434.5L1757.5 432.2L1758.7 434.5L1760.0 434.5L1761.2 434.5L1762.5 434.5L1763.7 434.5L1764.9 434.5L1766.2 432.2L1767.4 434.5L1768.7 432.2L1769.9 432.2L1771.2 434.5L1772.4 434.5L1773.7 432.2L1774.9 432.2L1776.2 434.5L1777.4 432.2L1778.7 432.2L1779.9 436.9L1781.2 432.2L1782.4 432.2L1783.6 434.5L1784.9 434.5L1786.1 432.2L1787.4 434.5L1788.6 432.2L1789.9 432.2L1791.1 434.5L1792.4 434.5L1793.6 432.2L1794.9 434.5L1796.1 432.2L1797.4 434.5L1798.6 434.5L1799.8 432.2L1801.1 434.5L1802.3 434.5L1803.6 436.9L1804.8 434.5L1806.1 434.5L1807.3 434.5L1808.6 434.5L1809.8 434.5L1811.1 432.2L1812.3 434.5L1813.6 434.5L1814.8 434.5L1816.0 432.2L1817.3 434.5L1818.5 434.5L1819.8 434.5L1821.0 434.5L1822.3 434.5L1823.5 434.5L1824.8 434.5L1826.0 434.5L1827.3 434.5L1828.5 432.2L1829.8 432.2L1831.0 434.5L1832.3 434.5L1833.5 434.5L1834.7 434.5L1836.0 434.5L1837.2 434.5L1838.5 434.5L1839.7 432.2L1841.0 434.5L1842.2 432.2L1843.5 434.5L1844.7 434.5L1846.0 434.5L1847.2 434.5L1848.5 434.5L1849.7 432.2L1851.0 434.5L1852.2 432.2L1853.4 434.5L1854.7 434.5L1855.9 432.2L1857.2 434.5L1858.4 434.5L1859.7 434.5L1860.9 434.5L1862.2 434.5L1863.4 434.5L1864.7 434.5L1865.9 434.5L1867.2 434.5L1868.4 434.5L1869.6 434.5L1870.9 434.5L1872.1 434.5L1873.4 434.5L1874.6 434.5L1875.9 434.5L1877.1 434.5L1878.4 434.5L1879.6 434.5L1880.9 434.5L1882.1 434.5L1883.4 434.5L1884.6 434.5L1885.8 434.5L1887.1 434.5L1888.3 434.5L1889.6 434.5L1890.8 434.5L1892.1 434.5L1893.3 432.2L1894.6 434.5L1895.8 434.5L1897.1 434.5L1898.3 434.5L1899.6 434.5L1900.8 434.5L1902.1 434.5L1903.3 436.9L1904.5 434.5L1905.8 434.5L1907.0 436.9L1908.3 434.5L1909.5 434.5L1910.8 434.5L1912.0 434.5L1913.3 434.5L1914.5 434.5L1915.8 432.2L1917.0 434.5L1918.3 432.2L1919.5 434.5L1920.8 434.5L1922.0 434.5L1923.2 434.5L1924.5 434.5L1925.7 432.2L1927.0 434.5L1928.2 434.5L1929.5 434.5L1930.7 436.9L1932.0 432.2L1933.2 434.5L1934.5 434.5L1935.7 434.5L1937.0 436.9L1938.2 434.5L1939.4 432.2L1940.7 434.5L1941.9 434.5L1943.2 434.5L1944.4 432.2L1945.7 434.5L1946.9 434.5L1948.2 434.5L1949.4 434.5L1950.7 434.5L1951.9 434.5L1953.2 434.5L1954.4 434.5L1955.7 434.5L1956.9 434.5L1958.1 434.5L1959.4 432.2L1960.6 434.5L1961.9 434.5L1963.1 434.5L1964.4 434.5L1965.6 434.5L1966.9 434.5L1968.1 436.9L1969.4 434.5L1970.6 434.5L1971.9 434.5L1973.1 434.5L1974.3 434.5L1975.6 434.5L1976.8 434.5L1978.1 434.5L1979.3 436.9L1980.6 434.5L1981.8 434.5L1983.1 434.5L1984.3 434.5L1985.6 434.5L1986.8 432.2L1988.1 434.5L1989.3 434.5L1990.5 432.2L1991.8 434.5L1993.0 434.5L1994.3 434.5L1995.5 434.5L1996.8 436.9L1998.0 436.9L1999.3 434.5L2000.5 434.5L2001.8 434.5L2003.0 436.9L2004.3 434.5L2005.5 434.5L2006.8 434.5L2008.0 436.9L2009.2 434.5L2010.5 434.5L2011.7 436.9L2013.0 436.9L2014.2 434.5L2015.5 434.5L2016.7 434.5L2018.0 434.5L2019.2 434.5L2020.5 436.9L2021.7 434.5L2023.0 434.5L2024.2 436.9L2025.5 434.5L2026.7 434.5L2027.9 434.5L2029.2 436.9L2030.4 436.9L2031.7 436.9L2032.9 436.9L2034.2 436.9L2035.4 434.5L2036.7 434.5L2037.9 434.5L2039.2 436.9L2040.4 436.9L2041.7 434.5L2042.9 436.9L2044.1 434.5L2045.4 434.5L2046.6 434.5L2047.9 436.9L2049.1 434.5L2050.4 434.5L2051.6 436.9L2052.9 434.5L2054.1 436.9L2055.4 434.5L2056.6 434.5L2057.9 434.5L2059.1 436.9L2060.3 434.5L2061.6 434.5L2062.8 436.9L2064.1 434.5L2065.3 434.5L2066.6 436.9L2067.8 434.5L2069.1 436.9L2070.3 434.5L2071.6 434.5L2072.8 436.9L2074.1 434.5L2075.3 434.5L2076.6 436.9L2077.8 434.5L2079.0 436.9L2080.3 436.9L2081.5 434.5L2082.8 434.5L2084.0 436.9L2085.3 436.9L2086.5 436.9L2087.8 434.5L2089.0 436.9L2090.3 436.9L2091.5 432.2L2092.8 434.5L2094.0 436.9L2095.2 434.5L2096.5 434.5L2097.7 436.9L2099.0 434.5L2100.2 436.9L2101.5 436.9L2102.7 436.9L2104.0 436.9L2105.2 434.5L2106.5 434.5L2107.7 436.9L2109.0 434.5L2110.2 436.9L2111.5 436.9L2112.7 439.3L2113.9 434.5L2115.2 434.5L2116.4 436.9L2117.7 436.9L2118.9 434.5L2120.2 436.9L2121.4 439.3L2122.7 436.9L2123.9 436.9L2125.2 436.9L2126.4 436.9L2127.7 434.5L2128.9 436.9L2130.2 434.5L2131.4 436.9L2132.6 436.9L2133.9 436.9L2135.1 436.9L2136.4 436.9L2137.6 436.9L2138.9 436.9L2140.1 434.5L2141.4 436.9L2142.6 436.9L2143.9 436.9L2145.1 436.9L2146.4 434.5L2147.6 436.9L2148.8 436.9L2150.1 436.9L2151.3 436.9L2152.6 436.9L2153.8 436.9L2155.1 436.9L2156.3 436.9L2157.6 436.9L2158.8 436.9L2160.1 434.5L2161.3 434.5L2162.6 434.5L2163.8 436.9L2165.1 436.9L2166.3 436.9L2167.5 434.5L2168.8 436.9L2170.0 436.9L2171.3 439.3L2172.5 436.9L2173.8 436.9L2175.0 436.9L2176.3 436.9L2177.5 436.9L2178.8 436.9L2180.0 436.9L2181.3 434.5L2182.5 436.9L2183.7 436.9L2185.0 436.9L2186.2 436.9L2187.5 436.9L2188.7 439.3L2190.0 436.9L2191.2 436.9L2192.5 436.9L2193.7 436.9L2195.0 436.9L2196.2 436.9L2197.5 439.3L2198.7 436.9L2199.9 436.9L2201.2 436.9L2202.4 436.9L2203.7 434.5L2204.9 434.5L2206.2 436.9L2207.4 434.5L2208.7 436.9L2209.9 436.9L2211.2 436.9L2212.4 436.9L2213.7 436.9L2214.9 434.5L2216.2 436.9L2217.4 436.9L2218.6 436.9L2219.9 436.9L2221.1 439.3L2222.4 436.9L2223.6 436.9L2224.9 436.9L2226.1 439.3L2227.4 434.5L2228.6 436.9L2229.9 436.9L2231.1 436.9L2232.4 439.3L2233.6 436.9L2234.8 436.9L2236.1 436.9L2237.3 439.3L2238.6 436.9L2239.8 436.9L2241.1 436.9L2242.3 436.9L2243.6 439.3L2244.8 436.9L2246.1 436.9L2247.3 436.9L2248.6 436.9L2249.8 439.3L2251.1 436.9L2252.3 436.9L2253.5 439.3L2254.8 439.3L2256.0 436.9L2257.3 439.3L2258.5 436.9L2259.8 436.9L2261.0 436.9L2262.3 436.9L2263.5 439.3L2264.8 439.3L2266.0 436.9L2267.3 436.9L2268.5 439.3L2269.8 439.3L2271.0 436.9L2272.2 436.9L2273.5 439.3L2274.7 436.9L2276.0 436.9L2277.2 439.3L2278.5 439.3L2279.7 439.3L2281.0 434.5L2282.2 436.9L2283.5 436.9L2284.7 439.3L2286.0 436.9L2287.2 436.9L2288.4 439.3L2289.7 436.9L2290.9 436.9L2292.2 439.3L2293.4 439.3L2294.7 436.9L2295.9 439.3L2297.2 439.3L2298.4 436.9L2299.7 436.9L2300.9 439.3L2302.2 439.3L2303.4 439.3L2304.7 439.3L2305.9 436.9L2307.1 439.3L2308.4 439.3L2309.6 436.9L2310.9 439.3L2312.1 436.9L2313.4 439.3L2314.6 439.3L2315.9 436.9L2317.1 439.3L2318.4 439.3L2319.6 436.9L2320.9 439.3L2322.1 436.9L2323.3 439.3L2324.6 436.9L2325.8 436.9L2327.1 439.3L2328.3 436.9L2329.6 439.3L2330.8 439.3L2332.1 439.3L2333.3 439.3L2334.6 439.3L2335.8 439.3L2337.1 436.9L2338.3 439.3L2339.6 439.3L2340.8 439.3L2342.0 439.3L2343.3 439.3L2344.5 439.3L2345.8 439.3L2347.0 439.3L2348.3 439.3L2349.5 439.3L2350.8 439.3L2352.0 439.3L2353.3 439.3L2354.5 439.3L2355.8 439.3L2357.0 436.9"/>
<path stroke="#7f7f7f" stroke-width="4.3" d="M263.0 918.9L264.2 918.9L265.5 918.9L266.7 918.9L268.0 918.9L269.2 918.9L270.5 918.9L271.7 918.9L273.0 918.9L274.2 918.9L275.5 918.9L276.7 918.9L278.0 918.9L279.2 918.9L280.4 918.9L281.7 918.9L282.9 918.9L284.2 918.9L285.4 918.9L286.7 918.9L287.9 918.9L289.2 918.9L290.4 918.9L291.7 918.9L292.9 918.9L294.2 918.9L295.4 918.9L296.7 918.9L297.9 918.9L299.1 918.9L300.4 918.9L301.6 918.9L302.9 918.9L304.1 918.9L305.4 918.9L306.6 918.9L307.9 918.9L309.1 918.9L310.4 918.9L311.6 918.9L312.9 918.9L314.1 918.9L315.4 918.9L316.6 918.9L317.8 918.9L319.1 918.9L320.3 918.9L321.6 918.9L322.8 918.9L324.1 918.9L325.3 918.9L326.6 918.9L327.8 918.9L329.1 918.9L330.3 918.9L331.6 918.9L332.8 918.9L334.0 918.9L335.3 918.9L336.5 918.9L337.8 918.9L339.0 921.2L340.3 918.9L341.5 921.2L342.8 921.2L344.0 918.9L345.3 918.9L346.5 918.9L347.8 921.2L349.0 921.2L350.2 918.9L351.5 921.2L352.7 921.2L354.0 918.9L355.2 918.9L356.5 918.9L357.7 918.9L359.0 918.9L360.2 918.9L361.5 918.9L362.7 921.2L364.0 918.9L365.2 918.9L366.5 918.9L367.7 918.9L368.9 921.2L370.2 918.9L371.4 921.2L372.7 918.9L373.9 918.9L375.2 918.9L376.4 918.9L377.7 918.9L378.9 918.9L380.2 918.9L381.4 918.9L382.7 921.2L383.9 918.9L385.1 921.2L386.4 921.2L387.6 918.9L388.9 921.2L390.1 918.9L391.4 918.9L392.6 921.2L393.9 921.2L395.1 918.9L396.4 918.9L397.6 918.9L398.9 918.9L400.1 918.9L401.4 918.9L402.6 918.9L403.8 918.9L405.1 918.9L406.3 918.9L407.6 918.9L408.8 918.9L410.1 916.5L411.3 916.5L412.6 918.9L413.8 918.9L415.1 918.9L416.3 918.9L417.6 918.9L418.8 918.9L420.1 918.9L421.3 918.9L422.5 918.9L423.8 918.9L425.0 918.9L426.3 918.9L427.5 918.9L428.8 918.9L430.0 918.9L431.3 918.9L432.5 918.9L433.8 918.9L435.0 918.9L436.3 918.9L437.5 918.9L438.7 918.9L440.0 918.9L441.2 918.9L442.5 918.9L443.7 918.9L445.0 918.9L446.2 918.9L447.5 918.9L448.7 918.9L450.0 918.9L451.2 918.9L452.5 918.9L453.7 918.9L454.9 918.9L456.2 918.9L457.4 918.9L458.7 918.9L459.9 918.9L461.2 918.9L462.4 921.2L463.7 918.9L464.9 918.9L466.2 921.2L467.4 918.9L468.7 921.2L469.9 921.2L471.2 918.9L472.4 918.9L473.6 918.9L474.9 921.2L476.1 918.9L477.4 921.2L478.6 918.9L479.9 921.2L481.1 921.2L482.4 918.9L483.6 921.2L484.9 918.9L486.1 918.9L487.4 921.2L488.6 921.2L489.9 918.9L491.1 918.9L492.3 918.9L493.6 918.9L494.8 918.9L496.1 918.9L497.3 918.9L498.6 921.2L499.8 921.2L501.1 918.9L502.3 918.9L503.6 918.9L504.8 918.9L506.1 918.9L507.3 918.9L508.5 918.9L509.8 918.9L511.0 918.9L512.3 918.9L513.5 918.9L514.8 918.9L516.0 918.9L517.3 918.9L518.5 918.9L519.8 918.9L521.0 918.9L522.3 918.9L523.5 918.9L524.8 918.9L526.0 918.9L527.2 918.9L528.5 918.9L529.7 918.9L531.0 918.9L532.2 918.9L533.5 918.9L534.7 918.9L536.0 918.9L537.2 918.9L538.5 918.9L539.7 918.9L541.0 918.9L542.2 918.9L543.4 918.9L544.7 918.9L545.9 918.9L547.2 918.9L548.4 918.9L549.7 918.9L550.9 918.9L552.2 918.9L553.4 918.9L554.7 918.9L555.9 918.9L557.2 918.9L558.4 918.9L559.6 918.9L560.9 918.9L562.1 918.9L563.4 918.9L564.6 918.9L565.9 918.9L567.1 918.9L568.4 918.9L569.6 918.9L570.9 918.9L572.1 918.9L573.4 918.9L574.6 918.9L575.9 918.9L577.1 918.9L578.3 918.9L579.6 918.9L580.8 918.9L582.1 918.9L583.3 918.9L584.6 918.9L585.8 918.9L587.1 918.9L588.3 918.9L589.6 918.9L590.8 918.9L592.1 918.9L593.3 918.9L594.5 918.9L595.8 918.9L597.0 918.9L598.3 918.9L599.5 918.9L600.8 918.9L602.0 916.5L603.3 916.5L604.5 918.9L605.8 916.5L607.0 918.9L608.3 918.9L609.5 918.9L610.8 918.9L612.0 918.9L613.2 918.9L614.5 918.9L615.7 918.9L617.0 916.5L618.2 918.9L619.5 918.9L620.7 916.5L622.0 918.9L623.2 918.9L624.5 918.9L625.7 916.5L627.0 916.5L628.2 918.9L629.5 918.9L630.7 918.9L631.9 918.9L633.2 918.9L634.4 918.9L635.7 918.9L636.9 918.9L638.2 918.9L639.4 918.9L640.7 918.9L641.9 918.9L643.2 918.9L644.4 918.9L645.7 918.9L646.9 918.9L648.1 918.9L649.4 918.9L650.6 918.9L651.9 918.9L653.1 918.9L654.4 918.9L655.6 918.9L656.9 918.9L658.1 918.9L659.4 918.9L660.6 916.5L661.9 918.9L663.1 916.5L664.4 916.5L665.6 918.9L666.8 918.9L668.1 918.9L669.3 918.9L670.6 918.9L671.8 916.5L673.1 916.5L674.3 918.9L675.6 918.9L676.8 918.9L678.1 918.9L679.3 918.9L680.6 918.9L681.8 918.9L683.0 918.9L684.3 918.9L685.5 918.9L686.8 918.9L688.0 918.9L689.3 918.9L690.5 918.9L691.8 918.9L693.0 918.9L694.3 918.9L695.5 918.9L696.8 918.9L698.0 918.9L699.2 918.9L700.5 918.9L701.7 918.9L703.0 918.9L704.2 918.9L705.5 918.9L706.7 918.9L708.0 918.9L709.2 918.9L710.5 918.9L711.7 916.5L713.0 916.5L714.2 916.5L715.5 918.9L716.7 918.9L717.9 916.5L719.2 918.9L720.4 918.9L721.7 916.5L722.9 916.5L724.2 918.9L725.4 918.9L726.7 918.9L727.9 918.9L729.2 916.5L730.4 916.5L731.7 916.5L732.9 918.9L734.1 918.9L735.4 918.9L736.6 918.9L737.9 918.9L739.1 916.5L740.4 918.9L741.6 916.5L742.9 916.5L744.1 916.5L745.4 918.9L746.6 916.5L747.9 918.9L749.1 918.9L750.4 918.9L751.6 918.9L752.8 918.9L754.1 916.5L755.3 916.5L756.6 916.5L757.8 916.5L759.1 916.5L760.3 916.5L761.6 916.5L762.8 916.5L764.1 916.5L765.3 916.5L766.6 916.5L767.8 916.5L769.0 916.5L770.3 916.5L771.5 916.5L772.8 916.5L774.0 916.5L775.3 916.5L776.5 916.5L777.8 916.5L779.0 916.5L780.3 916.5L781.5 916.5L782.8 916.5L784.0 916.5L785.3 916.5L786.5 916.5L787.7 916.5L789.0 916.5L790.2 916.5L791.5 916.5L792.7 916.5L794.0 916.5L795.2 916.5L796.5 916.5L797.7 918.9L799.0 916.5L800.2 918.9L801.5 918.9L802.7 916.5L804.0 918.9L805.2 918.9L806.4 916.5L807.7 916.5L808.9 918.9L810.2 916.5L811.4 918.9L812.7 918.9L813.9 916.5L815.2 918.9L816.4 916.5L817.7 918.9L818.9 916.5L820.2 916.5L821.4 918.9L822.6 916.5L823.9 916.5L825.1 916.5L826.4 916.5L827.6 918.9L828.9 916.5L830.1 916.5L831.4 916.5L832.6 918.9L833.9 916.5L835.1 918.9L836.4 916.5L837.6 918.9L838.9 918.9L840.1 916.5L841.3 916.5L842.6 918.9L843.8 918.9L845.1 918.9L846.3 918.9L847.6 916.5L848.8 918.9L850.1 918.9L851.3 916.5L852.6 918.9L853.8 916.5L855.1 918.9L856.3 918.9L857.5 918.9L858.8 916.5L860.0 916.5L861.3 916.5L862.5 916.5L863.8 916.5L865.0 916.5L866.3 916.5L867.5 916.5L868.8 916.5L870.0 916.5L871.3 916.5L872.5 916.5L873.8 916.5L875.0 916.5L876.2 916.5L877.5 916.5L878.7 916.5L880.0 916.5L881.2 916.5L882.5 916.5L883.7 916.5L885.0 916.5L886.2 916.5L887.5 916.5L888.7 916.5L890.0 914.1L891.2 914.1L892.4 916.5L893.7 916.5L894.9 916.5L896.2 916.5L897.4 916.5L898.7 916.5L899.9 916.5L901.2 916.5L902.4 916.5L903.7 916.5L904.9 916.5L906.2 916.5L907.4 916.5L908.6 916.5L909.9 916.5L911.1 916.5L912.4 916.5L913.6 916.5L914.9 916.5L916.1 916.5L917.4 916.5L918.6 916.5L919.9 916.5L921.1 916.5L922.4 916.5L923.6 916.5L924.9 916.5L926.1 916.5L927.3 916.5L928.6 916.5L929.8 916.5L931.1 916.5L932.3 916.5L933.6 916.5L934.8 916.5L936.1 916.5L937.3 916.5L938.6 916.5L939.8 916.5L941.1 916.5L942.3 916.5L943.5 916.5L944.8 916.5L946.0 916.5L947.3 916.5L948.5 916.5L949.8 916.5L951.0 916.5L952.3 916.5L953.5 916.5L954.8 916.5L956.0 916.5L957.3 916.5L958.5 916.5L959.8 916.5L961.0 916.5L962.2 916.5L963.5 916.5L964.7 916.5L966.0 916.5L967.2 916.5L968.5 916.5L969.7 916.5L971.0 916.5L972.2 916.5L973.5 918.9L974.7 916.5L976.0 916.5L977.2 918.9L978.5 916.5L979.7 918.9L980.9 918.9L982.2 918.9L983.4 916.5L984.7 916.5L985.9 916.5L987.2 916.5L988.4 916.5L989.7 916.5L990.9 916.5L992.2 918.9L993.4 918.9L994.7 916.5L995.9 916.5L997.1 916.5L998.4 916.5L999.6 918.9L1000.9 916.5L1002.1 916.5L1003.4 916.5L1004.6 916.5L1005.9 916.5L1007.1 916.5L1008.4 916.5L1009.6 918.9L1010.9 918.9L1012.1 916.5L1013.4 916.5L1014.6 916.5L1015.8 918.9L1017.1 916.5L1018.3 918.9L1019.6 918.9L1020.8 918.9L1022.1 916.5L1023.3 916.5L1024.6 916.5L1025.8 918.9L1027.1 916.5L1028.3 916.5L1029.6 918.9L1030.8 916.5L1032.0 916.5L1033.3 916.5L1034.5 916.5L1035.8 916.5L1037.0 916.5L1038.3 916.5L1039.5 916.5L1040.8 918.9L1042.0 916.5L1043.3 916.5L1044.5 916.5L1045.8 916.5L1047.0 916.5L1048.2 916.5L1049.5 916.5L1050.7 916.5L1052.0 916.5L1053.2 918.9L1054.5 916.5L1055.7 916.5L1057.0 916.5L1058.2 916.5L1059.5 918.9L1060.7 918.9L1062.0 916.5L1063.2 918.9L1064.5 918.9L1065.7 916.5L1066.9 916.5L1068.2 916.5L1069.4 918.9L1070.7 916.5L1071.9 916.5L1073.2 916.5L1074.4 918.9L1075.7 918.9L1076.9 916.5L1078.2 918.9L1079.4 916.5L1080.7 916.5L1081.9 918.9L1083.2 916.5L1084.4 916.5L1085.6 916.5L1086.9 916.5L1088.1 916.5L1089.4 916.5L1090.6 916.5L1091.9 916.5L1093.1 916.5L1094.4 916.5L1095.6 916.5L1096.9 916.5L1098.1 916.5L1099.4 916.5L1100.6 916.5L1101.8 916.5L1103.1 916.5L1104.3 916.5L1105.6 916.5L1106.8 916.5L1108.1 916.5L1109.3 916.5L1110.6 916.5L1111.8 918.9L1113.1 918.9L1114.3 918.9L1115.6 918.9L1116.8 918.9L1118.0 916.5L1119.3 918.9L1120.5 918.9L1121.8 918.9L1123.0 916.5L1124.3 916.5L1125.5 916.5L1126.8 916.5L1128.0 916.5L1129.3 916.5L1130.5 916.5L1131.8 916.5L1133.0 916.5L1134.3 916.5L1135.5 916.5L1136.7 916.5L1138.0 916.5L1139.2 916.5L1140.5 916.5L1141.7 916.5L1143.0 916.5L1144.2 916.5L1145.5 916.5L1146.7 916.5L1148.0 916.5L1149.2 916.5L1150.5 916.5L1151.7 916.5L1153.0 916.5L1154.2 916.5L1155.4 916.5L1156.7 916.5L1157.9 916.5L1159.2 916.5L1160.4 916.5L1161.7 916.5L1162.9 918.9L1164.2 916.5L1165.4 916.5L1166.7 916.5L1167.9 916.5L1169.2 916.5L1170.4 918.9L1171.6 918.9L1172.9 918.9L1174.1 918.9L1175.4 916.5L1176.6 918.9L1177.9 916.5L1179.1 918.9L1180.4 916.5L1181.6 916.5L1182.9 916.5L1184.1 916.5L1185.4 918.9L1186.6 918.9L1187.8 918.9L1189.1 916.5L1190.3 916.5L1191.6 916.5L1192.8 916.5L1194.1 916.5L1195.3 918.9L1196.6 916.5L1197.8 916.5L1199.1 916.5L1200.3 916.5L1201.6 916.5L1202.8 918.9L1204.1 916.5L1205.3 918.9L1206.5 916.5L1207.8 916.5L1209.0 916.5L1210.3 916.5L1211.5 916.5L1212.8 916.5L1214.0 918.9L1215.3 916.5L1216.5 916.5L1217.8 916.5L1219.0 916.5L1220.3 916.5L1221.5 916.5L1222.8 916.5L1224.0 916.5L1225.2 916.5L1226.5 916.5L1227.7 916.5L1229.0 916.5L1230.2 916.5L1231.5 916.5L1232.7 916.5L1234.0 916.5L1235.2 916.5L1236.5 916.5L1237.7 916.5L1239.0 916.5L1240.2 916.5L1241.4 916.5L1242.7 916.5L1243.9 916.5L1245.2 916.5L1246.4 916.5L1247.7 916.5L1248.9 916.5L1250.2 916.5L1251.4 916.5L1252.7 916.5L1253.9 916.5L1255.2 916.5L1256.4 916.5L1257.7 916.5L1258.9 916.5L1260.1 916.5L1261.4 916.5L1262.6 916.5L1263.9 916.5L1265.1 916.5L1266.4 916.5L1267.6 916.5L1268.9 916.5L1270.1 916.5L1271.4 916.5L1272.6 916.5L1273.9 916.5L1275.1 916.5L1276.3 916.5L1277.6 916.5L1278.8 916.5L1280.1 916.5L1281.3 916.5L1282.6 916.5L1283.8 916.5L1285.1 916.5L1286.3 916.5L1287.6 916.5L1288.8 916.5L1290.1 916.5L1291.3 916.5L1292.5 916.5L1293.8 916.5L1295.0 916.5L1296.3 916.5L1297.5 916.5L1298.8 916.5L1300.0 916.5L1301.3 916.5L1302.5 916.5L1303.8 916.5L1305.0 916.5L1306.3 916.5L1307.5 916.5L1308.8 916.5L1310.0 916.5L1311.2 916.5L1312.5 916.5L1313.7 916.5L1315.0 916.5L1316.2 916.5L1317.5 916.5L1318.7 916.5L1320.0 916.5L1321.2 916.5L1322.5 916.5L1323.7 916.5L1325.0 916.5L1326.2 916.5L1327.5 916.5L1328.7 916.5L1329.9 916.5L1331.2 916.5L1332.4 916.5L1333.7 916.5L1334.9 916.5L1336.2 916.5L1337.4 916.5L1338.7 916.5L1339.9 916.5L1341.2 916.5L1342.4 916.5L1343.7 916.5L1344.9 916.5L1346.1 916.5L1347.4 916.5L1348.6 916.5L1349.9 916.5L1351.1 916.5L1352.4 916.5L1353.6 916.5L1354.9 916.5L1356.1 916.5L1357.4 916.5L1358.6 916.5L1359.9 916.5L1361.1 916.5L1362.3 916.5L1363.6 916.5L1364.8 916.5L1366.1 916.5L1367.3 916.5L1368.6 916.5L1369.8 916.5L1371.1 916.5L1372.3 916.5L1373.6 916.5L1374.8 916.5L1376.1 916.5L1377.3 916.5L1378.6 916.5L1379.8 916.5L1381.0 916.5L1382.3 916.5L1383.5 916.5L1384.8 916.5L1386.0 916.5L1387.3 916.5L1388.5 916.5L1389.8 916.5L1391.0 916.5L1392.3 916.5L1393.5 916.5L1394.8 916.5L1396.0 916.5L1397.2 916.5L1398.5 916.5L1399.7 916.5L1401.0 916.5L1402.2 916.5L1403.5 916.5L1404.7 916.5L1406.0 916.5L1407.2 918.9L1408.5 918.9L1409.7 916.5L1411.0 916.5L1412.2 916.5L1413.5 916.5L1414.7 916.5L1415.9 918.9L1417.2 918.9L1418.4 916.5L1419.7 916.5L1420.9 918.9L1422.2 916.5L1423.4 918.9L1424.7 918.9L1425.9 916.5L1427.2 916.5L1428.4 918.9L1429.7 916.5L1430.9 916.5L1432.2 916.5L1433.4 918.9L1434.6 916.5L1435.9 916.5L1437.1 918.9L1438.4 916.5L1439.6 916.5L1440.9 918.9L1442.1 918.9L1443.4 916.5L1444.6 916.5L1445.9 918.9L1447.1 918.9L1448.4 916.5L1449.6 916.5L1450.8 916.5L1452.1 916.5L1453.3 916.5L1454.6 916.5L1455.8 918.9L1457.1 916.5L1458.3 916.5L1459.6 916.5L1460.8 916.5L1462.1 918.9L1463.3 918.9L1464.6 916.5L1465.8 916.5L1467.0 916.5L1468.3 916.5L1469.5 916.5L1470.8 916.5L1472.0 916.5L1473.3 916.5L1474.5 918.9L1475.8 916.5L1477.0 918.9L1478.3 916.5L1479.5 916.5L1480.8 918.9L1482.0 916.5L1483.3 918.9L1484.5 918.9L1485.7 918.9L1487.0 916.5L1488.2 916.5L1489.5 916.5L1490.7 916.5L1492.0 916.5L1493.2 916.5L1494.5 916.5L1495.7 916.5L1497.0 916.5L1498.2 916.5L1499.5 916.5L1500.7 916.5L1502.0 916.5L1503.2 916.5L1504.4 916.5L1505.7 916.5L1506.9 916.5L1508.2 916.5L1509.4 916.5L1510.7 916.5L1511.9 916.5L1513.2 916.5L1514.4 916.5L1515.7 916.5L1516.9 916.5L1518.2 916.5L1519.4 916.5L1520.6 916.5L1521.9 916.5L1523.1 916.5L1524.4 916.5L1525.6 916.5L1526.9 916.5L1528.1 916.5L1529.4 916.5L1530.6 916.5L1531.9 916.5L1533.1 916.5L1534.4 916.5L1535.6 916.5L1536.8 916.5L1538.1 916.5L1539.3 916.5L1540.6 916.5L1541.8 914.1L1543.1 916.5L1544.3 914.1L1545.6 916.5L1546.8 916.5L1548.1 916.5L1549.3 916.5L1550.6 914.1L1551.8 914.1L1553.1 916.5L1554.3 916.5L1555.5 916.5L1556.8 914.1L1558.0 916.5L1559.3 914.1L1560.5 916.5L1561.8 914.1L1563.0 916.5L1564.3 916.5L1565.5 914.1L1566.8 916.5L1568.0 916.5L1569.3 916.5L1570.5 916.5L1571.8 916.5L1573.0 914.1L1574.2 914.1L1575.5 916.5L1576.7 916.5L1578.0 916.5L1579.2 914.1L1580.5 916.5L1581.7 916.5L1583.0 916.5L1584.2 916.5L1585.5 916.5L1586.7 916.5L1588.0 916.5L1589.2 916.5L1590.4 916.5L1591.7 916.5L1592.9 916.5L1594.2 916.5L1595.4 916.5L1596.7 916.5L1597.9 916.5L1599.2 916.5L1600.4 916.5L1601.7 916.5L1602.9 916.5L1604.2 916.5L1605.4 916.5L1606.7 916.5L1607.9 916.5L1609.1 916.5L1610.4 916.5L1611.6 916.5L1612.9 916.5L1614.1 916.5L1615.4 916.5L1616.6 916.5L1617.9 916.5L1619.1 916.5L1620.4 916.5L1621.6 916.5L1622.9 916.5L1624.1 916.5L1625.3 916.5L1626.6 916.5L1627.8 916.5L1629.1 916.5L1630.3 916.5L1631.6 916.5L1632.8 916.5L1634.1 916.5L1635.3 916.5L1636.6 916.5L1637.8 916.5L1639.1 916.5L1640.3 916.5L1641.5 916.5L1642.8 916.5L1644.0 916.5L1645.3 916.5L1646.5 916.5L1647.8 916.5L1649.0 916.5L1650.3 916.5L1651.5 916.5L1652.8 916.5L1654.0 916.5L1655.3 916.5L1656.5 916.5L1657.8 916.5L1659.0 916.5L1660.2 916.5L1661.5 916.5L1662.7 916.5L1664.0 916.5L1665.2 916.5L1666.5 916.5L1667.7 916.5L1669.0 916.5L1670.2 916.5L1671.5 916.5L1672.7 916.5L1674.0 916.5L1675.2 916.5L1676.5 916.5L1677.7 916.5L1678.9 916.5L1680.2 916.5L1681.4 916.5L1682.7 916.5L1683.9 916.5L1685.2 916.5L1686.4 916.5L1687.7 916.5L1688.9 916.5L1690.2 916.5L1691.4 916.5L1692.7 916.5L1693.9 916.5L1695.1 916.5L1696.4 916.5L1697.6 916.5L1698.9 916.5L1700.1 916.5L1701.4 916.5L1702.6 916.5L1703.9 916.5L1705.1 916.5L1706.4 916.5L1707.6 916.5L1708.9 916.5L1710.1 916.5L1711.3 916.5L1712.6 916.5L1713.8 916.5L1715.1 916.5L1716.3 916.5L1717.6 916.5L1718.8 916.5L1720.1 916.5L1721.3 916.5L1722.6 916.5L1723.8 916.5L1725.1 916.5L1726.3 916.5L1727.6 916.5L1728.8 916.5L1730.0 916.5L1731.3 916.5L1732.5 916.5L1733.8 916.5L1735.0 916.5L1736.3 916.5L1737.5 916.5L1738.8 916.5L1740.0 918.9L1741.3 916.5L1742.5 918.9L1743.8 918.9L1745.0 916.5L1746.2 916.5L1747.5 916.5L1748.7 918.9L1750.0 916.5L1751.2 916.5L1752.5 916.5L1753.7 916.5L1755.0 916.5L1756.2 916.5L1757.5 916.5L1758.7 918.9L1760.0 916.5L1761.2 918.9L1762.5 916.5L1763.7 918.9L1764.9 918.9L1766.2 916.5L1767.4 916.5L1768.7 916.5L1769.9 916.5L1771.2 916.5L1772.4 918.9L1773.7 916.5L1774.9 916.5L1776.2 916.5L1777.4 916.5L1778.7 916.5L1779.9 918.9L1781.2 918.9L1782.4 918.9L1783.6 918.9L1784.9 916.5L1786.1 916.5L1787.4 918.9L1788.6 916.5L1789.9 916.5L1791.1 916.5L1792.4 918.9L1793.6 916.5L1794.9 916.5L1796.1 916.5L1797.4 916.5L1798.6 916.5L1799.8 916.5L1801.1 916.5L1802.3 916.5L1803.6 918.9L1804.8 916.5L1806.1 916.5L1807.3 916.5L1808.6 916.5L1809.8 916.5L1811.1 918.9L1812.3 916.5L1813.6 916.5L1814.8 916.5L1816.0 916.5L1817.3 916.5L1818.5 916.5L1819.8 918.9L1821.0 918.9L1822.3 918.9L1823.5 918.9L1824.8 916.5L1826.0 916.5L1827.3 918.9L1828.5 918.9L1829.8 916.5L1831.0 918.9L1832.3 918.9L1833.5 916.5L1834.7 916.5L1836.0 918.9L1837.2 916.5L1838.5 918.9L1839.7 918.9L1841.0 916.5L1842.2 916.5L1843.5 918.9L1844.7 916.5L1846.0 916.5L1847.2 916.5L1848.5 918.9L1849.7 916.5L1851.0 916.5L1852.2 916.5L1853.4 916.5L1854.7 916.5L1855.9 916.5L1857.2 916.5L1858.4 916.5L1859.7 916.5L1860.9 916.5L1862.2 916.5L1863.4 916.5L1864.7 916.5L1865.9 916.5L1867.2 916.5L1868.4 916.5L1869.6 916.5L1870.9 916.5L1872.1 916.5L1873.4 916.5L1874.6 916.5L1875.9 916.5L1877.1 916.5L1878.4 916.5L1879.6 916.5L1880.9 916.5L1882.1 916.5L1883.4 916.5L1884.6 916.5L1885.8 916.5L1887.1 916.5L1888.3 916.5L1889.6 916.5L1890.8 916.5L1892.1 916.5L1893.3 916.5L1894.6 916.5L1895.8 916.5L1897.1 916.5L1898.3 916.5L1899.6 916.5L1900.8 916.5L1902.1 916.5L1903.3 916.5L1904.5 916.5L1905.8 916.5L1907.0 916.5L1908.3 916.5L1909.5 916.5L1910.8 916.5L1912.0 916.5L1913.3 916.5L1914.5 916.5L1915.8 916.5L1917.0 916.5L1918.3 916.5L1919.5 916.5L1920.8 916.5L1922.0 916.5L1923.2 916.5L1924.5 916.5L1925.7 918.9L1927.0 916.5L1928.2 918.9L1929.5 918.9L1930.7 918.9L1932.0 916.5L1933.2 918.9L1934.5 918.9L1935.7 918.9L1937.0 918.9L1938.2 918.9L1939.4 918.9L1940.7 918.9L1941.9 918.9L1943.2 918.9L1944.4 918.9L1945.7 918.9L1946.9 918.9L1948.2 918.9L1949.4 918.9L1950.7 916.5L1951.9 918.9L1953.2 918.9L1954.4 916.5L1955.7 918.9L1956.9 918.9L1958.1 916.5L1959.4 918.9L1960.6 918.9L1961.9 918.9L1963.1 918.9L1964.4 918.9L1965.6 918.9L1966.9 918.9L1968.1 918.9L1969.4 918.9L1970.6 918.9L1971.9 918.9L1973.1 918.9L1974.3 918.9L1975.6 918.9L1976.8 918.9L1978.1 918.9L1979.3 918.9L1980.6 918.9L1981.8 918.9L1983.1 916.5L1984.3 918.9L1985.6 916.5L1986.8 918.9L1988.1 916.5L1989.3 916.5L1990.5 916.5L1991.8 918.9L1993.0 918.9L1994.3 916.5L1995.5 918.9L1996.8 918.9L1998.0 916.5L1999.3 916.5L2000.5 916.5L2001.8 918.9L2003.0 916.5L2004.3 916.5L2005.5 916.5L2006.8 918.9L2008.0 918.9L2009.2 918.9L2010.5 918.9L2011.7 918.9L2013.0 916.5L2014.2 918.9L2015.5 918.9L2016.7 918.9L2018.0 916.5L2019.2 916.5L2020.5 918.9L2021.7 916.5L2023.0 918.9L2024.2 918.9L2025.5 916.5L2026.7 918.9L2027.9 918.9L2029.2 918.9L2030.4 916.5L2031.7 916.5L2032.9 918.9L2034.2 916.5L2035.4 918.9L2036.7 918.9L2037.9 918.9L2039.2 916.5L2040.4 916.5L2041.7 916.5L2042.9 918.9L2044.1 916.5L2045.4 918.9L2046.6 916.5L2047.9 916.5L2049.1 916.5L2050.4 916.5L2051.6 918.9L2052.9 918.9L2054.1 918.9L2055.4 918.9L2056.6 918.9L2057.9 918.9L2059.1 918.9L2060.3 918.9L2061.6 918.9L2062.8 918.9L2064.1 918.9L2065.3 918.9L2066.6 918.9L2067.8 918.9L2069.1 918.9L2070.3 918.9L2071.6 918.9L2072.8 918.9L2074.1 918.9L2075.3 918.9L2076.6 918.9L2077.8 916.5L2079.0 916.5L2080.3 918.9L2081.5 916.5L2082.8 918.9L2084.0 916.5L2085.3 918.9L2086.5 918.9L2087.8 916.5L2089.0 916.5L2090.3 916.5L2091.5 916.5L2092.8 916.5L2094.0 918.9L2095.2 916.5L2096.5 918.9L2097.7 918.9L2099.0 916.5L2100.2 918.9L2101.5 916.5L2102.7 918.9L2104.0 918.9L2105.2 918.9L2106.5 918.9L2107.7 918.9L2109.0 918.9L2110.2 918.9L2111.5 918.9L2112.7 918.9L2113.9 918.9L2115.2 918.9L2116.4 918.9L2117.7 916.5L2118.9 918.9L2120.2 918.9L2121.4 918.9L2122.7 918.9L2123.9 918.9L2125.2 918.9L2126.4 918.9L2127.7 918.9L2128.9 918.9L2130.2 918.9L2131.4 918.9L2132.6 918.9L2133.9 918.9L2135.1 918.9L2136.4 918.9L2137.6 918.9L2138.9 918.9L2140.1 918.9L2141.4 918.9L2142.6 916.5L2143.9 918.9L2145.1 918.9L2146.4 918.9L2147.6 918.9L2148.8 916.5L2150.1 916.5L2151.3 918.9L2152.6 916.5L2153.8 918.9L2155.1 918.9L2156.3 918.9L2157.6 918.9L2158.8 916.5L2160.1 916.5L2161.3 918.9L2162.6 916.5L2163.8 916.5L2165.1 916.5L2166.3 918.9L2167.5 916.5L2168.8 916.5L2170.0 916.5L2171.3 918.9L2172.5 916.5L2173.8 916.5L2175.0 918.9L2176.3 916.5L2177.5 916.5L2178.8 916.5L2180.0 916.5L2181.3 918.9L2182.5 916.5L2183.7 916.5L2185.0 918.9L2186.2 918.9L2187.5 916.5L2188.7 918.9L2190.0 916.5L2191.2 918.9L2192.5 916.5L2193.7 918.9L2195.0 916.5L2196.2 916.5L2197.5 918.9L2198.7 916.5L2199.9 918.9L2201.2 918.9L2202.4 916.5L2203.7 918.9L2204.9 918.9L2206.2 916.5L2207.4 916.5L2208.7 916.5L2209.9 916.5L2211.2 918.9L2212.4 916.5L2213.7 916.5L2214.9 916.5L2216.2 916.5L2217.4 916.5L2218.6 916.5L2219.9 918.9L2221.1 916.5L2222.4 916.5L2223.6 918.9L2224.9 918.9L2226.1 916.5L2227.4 916.5L2228.6 916.5L2229.9 916.5L2231.1 916.5L2232.4 916.5L2233.6 916.5L2234.8 916.5L2236.1 916.5L2237.3 916.5L2238.6 916.5L2239.8 916.5L2241.1 916.5L2242.3 916.5L2243.6 916.5L2244.8 916.5L2246.1 916.5L2247.3 916.5L2248.6 916.5L2249.8 916.5L2251.1 916.5L2252.3 916.5L2253.5 916.5L2254.8 916.5L2256.0 916.5L2257.3 916.5L2258.5 916.5L2259.8 916.5L2261.0 916.5L2262.3 918.9L2263.5 916.5L2264.8 918.9L2266.0 916.5L2267.3 916.5L2268.5 916.5L2269.8 916.5L2271.0 916.5L2272.2 916.5L2273.5 916.5L2274.7 916.5L2276.0 916.5L2277.2 918.9L2278.5 916.5L2279.7 916.5L2281.0 916.5L2282.2 916.5L2283.5 916.5L2284.7 916.5L2286.0 916.5L2287.2 916.5L2288.4 916.5L2289.7 916.5L2290.9 916.5L2292.2 916.5L2293.4 916.5L2294.7 916.5L2295.9 916.5L2297.2 916.5L2298.4 916.5L2299.7 916.5L2300.9 916.5L2302.2 916.5L2303.4 916.5L2304.7 916.5L2305.9 916.5L2307.1 916.5L2308.4 916.5L2309.6 916.5L2310.9 916.5L2312.1 916.5L2313.4 916.5L2314.6 916.5L2315.9 916.5L2317.1 916.5L2318.4 916.5L2319.6 916.5L2320.9 916.5L2322.1 916.5L2323.3 916.5L2324.6 914.1L2325.8 916.5L2327.1 916.5L2328.3 916.5L2329.6 916.5L2330.8 916.5L2332.1 916.5L2333.3 916.5L2334.6 916.5L2335.8 916.5L2337.1 916.5L2338.3 916.5L2339.6 916.5L2340.8 916.5L2342.0 916.5L2343.3 916.5L2344.5 916.5L2345.8 916.5L2347.0 916.5L2348.3 916.5L2349.5 916.5L2350.8 916.5L2352.0 916.5L2353.3 916.5L2354.5 916.5L2355.8 916.5L2357.0 916.5"/>
</g>
<line x1="1159.5" y1="281.5" x2="1159.5" y2="1008" stroke="#bfbfbf" stroke-width="4.9" stroke-dasharray="14 9.8" stroke-dashoffset="0.5"/>
<g fill="#fff" stroke="#000" stroke-width="4.8">
<rect x="341.5" y="156.6" width="743.4" height="99.9"/>
<rect x="1440" y="156.2" width="662.2" height="100.3"/>
</g>
<g stroke="#000" stroke-width="4.8">
<line x1="290" y1="282.3" x2="1140" y2="282.3"/>
<line x1="1185" y1="284" x2="2330" y2="284"/>
</g>
<polygon points="263,282.4 306,261 306,304"/>
<polygon points="1166,282.4 1123,261 1123,304"/>
<polygon points="1161,284 1204.8,262 1204.8,306"/>
<polygon points="2357,284 2313.2,262 2313.2,306"/>
<g font-size="68" text-anchor="end">
<text x="198.6" y="1030.5" textLength="64.5" lengthAdjust="spacingAndGlyphs">25</text>
<text x="198.6" y="912.4" textLength="64.5" lengthAdjust="spacingAndGlyphs">30</text>
<text x="198.6" y="794.2" textLength="64.5" lengthAdjust="spacingAndGlyphs">35</text>
<text x="198.6" y="676.1" textLength="64.5" lengthAdjust="spacingAndGlyphs">40</text>
<text x="198.6" y="558.0" textLength="64.5" lengthAdjust="spacingAndGlyphs">45</text>
<text x="198.6" y="439.9" textLength="64.5" lengthAdjust="spacingAndGlyphs">50</text>
<text x="198.6" y="321.8" textLength="64.5" lengthAdjust="spacingAndGlyphs">55</text>
<text x="198.6" y="203.6" textLength="64.5" lengthAdjust="spacingAndGlyphs">60</text>
<text x="198.6" y="85.5" textLength="64.5" lengthAdjust="spacingAndGlyphs">65</text>
</g>
<g font-size="68" text-anchor="middle">
<text x="263.3" y="1123.6" textLength="34" lengthAdjust="spacingAndGlyphs">0</text>
<text x="412.9" y="1123.6" textLength="97.5" lengthAdjust="spacingAndGlyphs">120</text>
<text x="562.4" y="1123.6" textLength="97.5" lengthAdjust="spacingAndGlyphs">240</text>
<text x="712.0" y="1123.6" textLength="97.5" lengthAdjust="spacingAndGlyphs">360</text>
<text x="861.6" y="1123.6" textLength="97.5" lengthAdjust="spacingAndGlyphs">480</text>
<text x="1011.2" y="1123.6" textLength="97.5" lengthAdjust="spacingAndGlyphs">600</text>
<text x="1160.7" y="1123.6" textLength="97.5" lengthAdjust="spacingAndGlyphs">720</text>
<text x="1310.3" y="1123.6" textLength="97.5" lengthAdjust="spacingAndGlyphs">840</text>
<text x="1459.9" y="1123.6" textLength="97.5" lengthAdjust="spacingAndGlyphs">960</text>
<text x="1609.6" y="1123.6" textLength="131.5" lengthAdjust="spacingAndGlyphs">1080</text>
<text x="1759.2" y="1123.6" textLength="131.5" lengthAdjust="spacingAndGlyphs">1200</text>
<text x="1908.8" y="1123.6" textLength="131.5" lengthAdjust="spacingAndGlyphs">1320</text>
<text x="2058.4" y="1123.6" textLength="131.5" lengthAdjust="spacingAndGlyphs">1440</text>
<text x="2207.9" y="1123.6" textLength="131.5" lengthAdjust="spacingAndGlyphs">1560</text>
<text x="2357.5" y="1123.6" textLength="131.5" lengthAdjust="spacingAndGlyphs">1680</text>
</g>
<text y="1238.2" font-size="75"><tspan x="1182.5" textLength="162.8" lengthAdjust="spacingAndGlyphs">Time</tspan> <tspan x="1363.5" textLength="73.3" lengthAdjust="spacingAndGlyphs">[s]</tspan></text>
<text transform="translate(93.6 812.3) rotate(-90)" font-size="76"><tspan x="0" textLength="410" lengthAdjust="spacingAndGlyphs">Temperature</tspan> <tspan x="424.3" textLength="123.1" lengthAdjust="spacingAndGlyphs">[°C]</tspan></text>
<text x="712" y="231.6" font-size="69" text-anchor="middle" textLength="701" lengthAdjust="spacingAndGlyphs">initial transient period</text>
<text x="1770.6" y="231.6" font-size="69" text-anchor="middle" textLength="622" lengthAdjust="spacingAndGlyphs">quasi-steady period</text>
<g fill="none" stroke-linecap="round">
<line x1="125" y1="1410" x2="304" y2="1410" stroke="#0080bb" stroke-width="8.3"/>
<line x1="441.5" y1="1410.4" x2="620.2" y2="1410.4" stroke="#fd482d" stroke-width="15.2"/>
<line x1="744" y1="1410" x2="922.3" y2="1410" stroke="#00a44f" stroke-width="8.3" stroke-dasharray="47 28"/>
<line x1="1073" y1="1410" x2="1243" y2="1410" stroke="#fec23f" stroke-width="8" stroke-dasharray="20 28 0.01 27"/>
<line x1="1401" y1="1410" x2="1564.3" y2="1410" stroke="#7b6bb4" stroke-width="8.3" stroke-dasharray="20.2 27.4"/>
<line x1="1729.9" y1="1410" x2="1908.6" y2="1410" stroke="#2dc46f" stroke-width="8.3" stroke-dasharray="0.01 13.68"/>
<line x1="2058.3" y1="1409.7" x2="2236.7" y2="1409.7" stroke="#7f7f7f" stroke-width="4.3"/>
</g>
<g font-size="65.5">
<text x="324.5" y="1430" textLength="52" lengthAdjust="spacingAndGlyphs">w</text>
<text x="639.2" y="1430" textLength="40" lengthAdjust="spacingAndGlyphs">B</text>
<text x="938.8" y="1430" textLength="68.8" lengthAdjust="spacingAndGlyphs">S1</text>
<text x="1268.6" y="1430" textLength="71" lengthAdjust="spacingAndGlyphs">S2</text>
<text x="1596.3" y="1430" textLength="69.5" lengthAdjust="spacingAndGlyphs">S3</text>
<text x="1925.8" y="1430" textLength="67" lengthAdjust="spacingAndGlyphs">S4</text>
<text x="2257.5" y="1430" textLength="76" lengthAdjust="spacingAndGlyphs">air</text>
</g>
</svg>
</body>
</html>
